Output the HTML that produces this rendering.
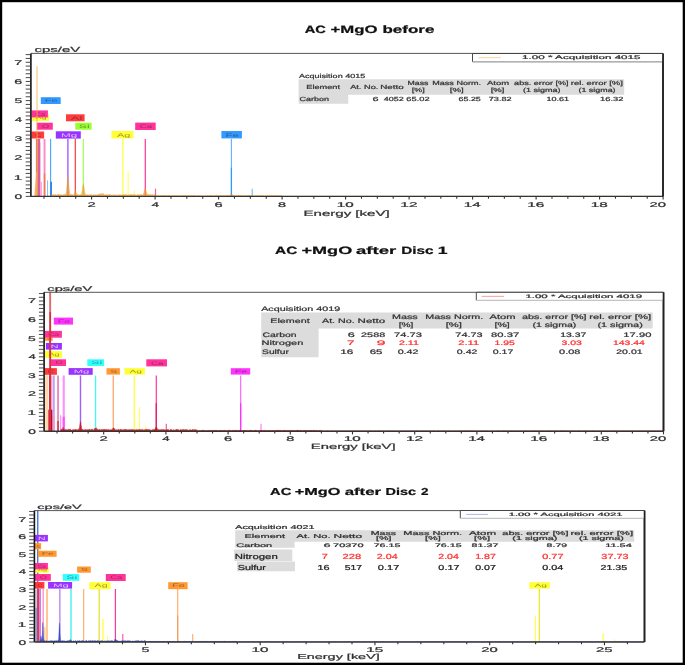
<!DOCTYPE html>
<html><head><meta charset="utf-8"><style>
html,body{margin:0;padding:0;background:#fff;}
body{width:685px;height:665px;overflow:hidden;position:relative;}
svg{position:absolute;left:0;top:0;font-family:"Liberation Sans",sans-serif;text-rendering:geometricPrecision;}
#c{filter:blur(0.3px);}
.b{position:absolute;background:#000;}
</style></head><body>
<svg id="c" width="685" height="665" viewBox="0 0 685 665">
<rect x="0" y="0" width="685" height="665" fill="#fff"/>
<defs>
<clipPath id="clip1"><rect x="30.9" y="53.4" width="632.1" height="143.0"/></clipPath>
<clipPath id="clip2"><rect x="44.1" y="292.3" width="619.4" height="138.89999999999998"/></clipPath>
<clipPath id="clip3"><rect x="34.4" y="510.6" width="610.1" height="131.39999999999998"/></clipPath>
</defs>
<text x="304.73" y="32.90" font-size="10.60" font-weight="bold" fill="#111" stroke="#111" stroke-width="0.22" textLength="21.20" lengthAdjust="spacingAndGlyphs" >AC</text>
<text x="330.53" y="32.90" font-size="10.60" font-weight="bold" fill="#111" stroke="#111" stroke-width="0.22" textLength="47.05" lengthAdjust="spacingAndGlyphs" >+MgO</text>
<text x="382.50" y="32.90" font-size="10.60" font-weight="bold" fill="#111" stroke="#111" stroke-width="0.22" textLength="51.92" lengthAdjust="spacingAndGlyphs" >before</text>
<text x="34.50" y="51.80" font-size="7.30" font-weight="normal" fill="#333" stroke="#333" stroke-width="0.22" textLength="45.71" lengthAdjust="spacingAndGlyphs" >cps/eV</text>
<g clip-path="url(#clip1)">
<line x1="36.65" y1="138.92" x2="36.65" y2="196.40" stroke="#f06040" stroke-width="1.5" />
<line x1="38.80" y1="138.92" x2="38.80" y2="196.40" stroke="#d860a0" stroke-width="2.8" />
<line x1="37.90" y1="142.75" x2="37.90" y2="196.40" stroke="#ffe040" stroke-width="0.9" />
<line x1="38.80" y1="142.75" x2="38.80" y2="196.40" stroke="#d860a0" stroke-width="2.8" />
<line x1="41.10" y1="181.84" x2="41.10" y2="196.40" stroke="#ffa8d8" stroke-width="1.8" />
<line x1="44.55" y1="138.92" x2="44.55" y2="196.40" stroke="#ff88c8" stroke-width="1.9" />
<line x1="44.55" y1="173.41" x2="44.55" y2="196.40" stroke="#f08040" stroke-width="1.4" />
<line x1="47.55" y1="180.31" x2="47.55" y2="196.40" stroke="#80c0ff" stroke-width="1.0" />
<line x1="50.65" y1="138.92" x2="50.65" y2="196.40" stroke="#3399ff" stroke-width="1.0" />
<line x1="51.10" y1="181.84" x2="51.10" y2="196.40" stroke="#2a88ee" stroke-width="1.8" />
<line x1="67.91" y1="138.92" x2="67.91" y2="196.40" stroke="#a060ff" stroke-width="1.4" />
<line x1="75.31" y1="138.92" x2="75.31" y2="196.40" stroke="#ff3b3b" stroke-width="1.2" />
<line x1="83.34" y1="138.92" x2="83.34" y2="196.40" stroke="#a0ff50" stroke-width="1.2" />
<line x1="122.84" y1="138.92" x2="122.84" y2="196.40" stroke="#ffff33" stroke-width="1.2" />
<line x1="128.14" y1="171.49" x2="128.14" y2="196.40" stroke="#ffff66" stroke-width="1.1" />
<line x1="134.40" y1="190.65" x2="134.40" y2="196.40" stroke="#ffff66" stroke-width="1.0" />
<line x1="145.29" y1="138.92" x2="145.29" y2="196.40" stroke="#ff3399" stroke-width="1.2" />
<line x1="155.51" y1="188.74" x2="155.51" y2="196.40" stroke="#f060a0" stroke-width="1.2" />
<line x1="231.43" y1="138.92" x2="231.43" y2="196.40" stroke="#66b3ff" stroke-width="1.2" />
<line x1="231.43" y1="167.66" x2="231.43" y2="196.40" stroke="#3399ff" stroke-width="1.2" />
<line x1="252.19" y1="188.74" x2="252.19" y2="196.40" stroke="#66b3ff" stroke-width="1.0" />
<rect x="40.80" y="97.20" width="19.90" height="6.80" fill="#3399ff" />
<text x="44.89" y="102.29" font-size="4.90" font-weight="normal" fill="#202020" textLength="12.95" lengthAdjust="spacingAndGlyphs" fill-opacity="0.45">Fe</text>
<rect x="31.50" y="114.50" width="17.50" height="6.50" fill="#ffff33" />
<text x="35.88" y="119.36" font-size="4.68" font-weight="normal" fill="#202020" textLength="10.75" lengthAdjust="spacingAndGlyphs" fill-opacity="0.45">Ag</text>
<rect x="31.50" y="110.40" width="16.40" height="7.00" fill="#ff3399" />
<text x="35.21" y="115.64" font-size="5.04" font-weight="normal" fill="#202020" textLength="9.93" lengthAdjust="spacingAndGlyphs" fill-opacity="0.45">Ca</text>
<rect x="66.00" y="114.30" width="18.60" height="7.00" fill="#ff3b3b" />
<text x="70.65" y="119.54" font-size="5.04" font-weight="normal" fill="#202020" textLength="11.70" lengthAdjust="spacingAndGlyphs" fill-opacity="0.45">Al</text>
<rect x="36.80" y="122.70" width="16.00" height="7.00" fill="#ff3399" />
<text x="41.68" y="127.94" font-size="5.04" font-weight="normal" fill="#202020" textLength="7.55" lengthAdjust="spacingAndGlyphs" fill-opacity="0.45">O</text>
<rect x="75.30" y="122.70" width="16.30" height="7.00" fill="#99ff33" />
<text x="78.83" y="127.94" font-size="5.04" font-weight="normal" fill="#202020" textLength="10.85" lengthAdjust="spacingAndGlyphs" fill-opacity="0.45">Si</text>
<rect x="31.50" y="131.50" width="12.60" height="7.00" fill="#ff3b3b" />
<text x="35.02" y="136.74" font-size="5.04" font-weight="normal" fill="#202020" textLength="6.45" lengthAdjust="spacingAndGlyphs" fill-opacity="0.45">C</text>
<rect x="55.80" y="131.30" width="25.00" height="7.30" fill="#9933ff" />
<text x="61.12" y="136.76" font-size="5.26" font-weight="normal" fill="#ffffff" textLength="16.18" lengthAdjust="spacingAndGlyphs" fill-opacity="0.7">Mg</text>
<rect x="111.50" y="131.00" width="21.90" height="7.40" fill="#ffff33" />
<text x="116.98" y="136.54" font-size="5.33" font-weight="normal" fill="#202020" textLength="13.45" lengthAdjust="spacingAndGlyphs" fill-opacity="0.45">Ag</text>
<rect x="135.20" y="122.60" width="20.50" height="7.40" fill="#ff3399" />
<text x="139.84" y="128.14" font-size="5.33" font-weight="normal" fill="#202020" textLength="12.41" lengthAdjust="spacingAndGlyphs" fill-opacity="0.45">Ca</text>
<rect x="221.40" y="131.00" width="20.50" height="7.40" fill="#3399ff" />
<text x="225.61" y="136.54" font-size="5.33" font-weight="normal" fill="#202020" textLength="13.34" lengthAdjust="spacingAndGlyphs" fill-opacity="0.45">Fe</text>
<polygon points="50.96,196.40 50.96,195.39 51.21,194.86 51.47,195.16 51.72,194.76 51.98,194.72 52.23,195.68 52.48,195.77 52.74,194.35 52.99,195.35 53.25,195.39 53.50,194.08 53.75,194.99 54.01,194.35 54.26,194.98 54.52,194.69 54.77,195.54 55.02,194.70 55.28,194.30 55.53,194.89 55.79,194.52 56.04,194.64 56.29,195.69 56.55,194.49 56.80,194.78 57.06,195.28 57.31,195.74 57.56,194.30 57.82,194.98 58.07,194.56 58.33,194.28 58.58,194.57 58.83,194.21 59.09,195.12 59.34,194.42 59.60,195.03 59.85,194.18 60.10,194.28 60.36,195.63 60.61,195.56 60.87,195.42 61.12,194.13 61.37,195.04 61.63,194.72 61.88,195.28 62.14,194.92 62.39,195.13 62.64,195.19 62.90,194.79 63.15,194.79 63.41,194.24 63.66,194.62 63.91,194.19 64.17,194.32 64.42,194.08 64.68,194.61 64.93,195.45 65.18,194.14 65.44,193.74 65.69,193.39 65.95,193.16 66.20,191.58 66.45,190.46 66.71,186.73 66.96,184.02 67.22,181.23 67.47,178.78 67.72,175.60 67.98,174.98 68.23,177.67 68.49,178.83 68.74,182.64 68.99,186.37 69.25,189.07 69.50,190.58 69.76,192.05 70.01,194.53 70.26,194.15 70.52,195.46 70.77,194.45 71.03,195.18 71.28,194.26 71.53,194.10 71.79,194.92 72.04,194.07 72.30,195.26 72.55,195.65 72.80,194.74 73.06,195.67 73.31,195.30 73.57,194.75 73.82,194.09 74.07,194.39 74.33,193.95 74.58,191.79 74.84,192.05 75.09,190.46 75.34,190.42 75.60,191.55 75.85,191.96 76.11,192.58 76.36,193.08 76.61,193.77 76.87,194.27 77.12,194.44 77.38,194.04 77.63,194.87 77.88,195.03 78.14,194.55 78.39,195.38 78.65,195.28 78.90,194.11 79.15,194.90 79.41,194.85 79.66,195.77 79.92,195.06 80.17,194.75 80.42,195.66 80.68,194.51 80.93,194.24 81.19,194.81 81.44,193.16 81.69,192.43 81.95,190.70 82.20,189.59 82.46,187.14 82.71,185.32 82.96,185.15 83.22,184.30 83.47,183.24 83.73,183.52 83.98,186.16 84.23,187.57 84.49,189.18 84.74,191.32 85.00,192.61 85.25,193.70 85.50,194.28 85.76,194.30 86.01,195.05 86.27,195.04 86.52,194.42 86.77,195.73 87.03,194.81 87.28,194.53 87.54,195.26 87.79,195.41 88.04,194.41 88.30,195.38 88.55,195.47 88.81,195.05 89.06,194.59 89.31,195.62 89.57,195.24 89.82,195.22 90.08,194.36 90.33,195.04 90.58,194.32 90.84,195.50 91.09,195.22 91.35,194.68 91.60,194.27 91.85,195.02 92.11,195.41 92.36,195.59 92.62,194.88 92.87,195.47 93.12,194.41 93.38,194.35 93.63,195.48 93.89,195.32 94.14,194.40 94.39,194.69 94.65,194.41 94.90,195.20 95.16,195.57 95.41,195.29 95.66,194.43 95.92,195.33 96.17,195.20 96.43,195.08 96.68,195.07 96.93,195.09 97.19,194.20 97.44,195.52 97.70,195.77 97.95,194.13 98.20,194.22 98.46,194.00 98.71,194.90 98.97,193.93 99.22,193.87 99.47,194.95 99.73,193.89 99.98,193.56 100.24,193.68 100.49,193.74 100.74,193.98 101.00,193.77 101.25,193.89 101.51,194.15 101.76,193.30 102.01,193.92 102.27,193.16 102.52,194.65 102.78,193.36 103.03,193.90 103.28,193.67 103.54,193.86 103.79,193.97 104.05,194.61 104.30,195.65 104.55,194.44 104.81,195.45 105.06,195.25 105.32,194.64 105.57,194.88 105.82,195.08 106.08,194.18 106.33,194.74 106.59,195.21 106.84,195.36 107.09,194.31 107.35,194.97 107.60,194.45 107.86,195.19 108.11,195.46 108.36,194.87 108.62,194.39 108.87,195.50 109.13,194.43 109.38,194.21 109.63,194.41 109.89,194.38 110.14,195.78 110.40,194.71 110.65,194.31 110.90,195.71 111.16,195.33 111.41,195.33 111.67,194.89 111.92,195.07 112.17,194.98 112.43,194.46 112.68,195.79 112.94,195.70 113.19,195.58 113.44,195.58 113.70,195.68 113.95,194.12 114.21,194.32 114.46,195.65 114.71,194.93 114.97,195.25 115.22,195.25 115.48,195.19 115.73,194.68 115.98,194.78 116.24,195.17 116.49,195.47 116.75,195.23 117.00,195.58 117.25,194.84 117.51,194.56 117.76,195.14 118.02,195.66 118.27,195.49 118.52,195.15 118.78,194.75 119.03,194.45 119.29,195.14 119.54,194.41 119.79,194.72 120.05,195.05 120.30,195.15 120.56,194.94 120.81,194.58 121.06,195.07 121.32,194.60 121.57,195.00 121.83,195.37 122.08,194.87 122.33,194.60 122.59,195.67 122.84,195.06 123.10,195.06 123.35,194.28 123.60,194.18 123.86,195.15 124.11,194.25 124.37,194.43 124.62,195.34 124.87,195.00 125.13,195.58 125.38,194.39 125.64,194.65 125.89,194.27 126.14,194.43 126.40,194.65 126.65,194.53 126.91,194.82 127.16,195.62 127.41,194.78 127.67,195.79 127.92,195.55 128.18,194.46 128.43,195.72 128.68,195.64 128.94,195.63 129.19,194.28 129.45,195.49 129.70,195.76 129.95,194.35 130.21,195.59 130.46,194.34 130.72,194.64 130.97,194.35 131.22,194.15 131.48,194.80 131.73,194.42 131.99,195.73 132.24,194.47 132.49,194.91 132.75,194.56 133.00,195.61 133.26,194.50 133.51,194.18 133.76,195.69 134.02,195.24 134.27,194.82 134.53,194.37 134.78,195.38 135.03,195.49 135.29,195.37 135.54,194.73 135.80,194.50 136.05,195.12 136.30,195.16 136.56,195.11 136.81,195.19 137.07,195.08 137.32,195.65 137.57,194.93 137.83,194.12 138.08,195.08 138.34,194.51 138.59,195.52 138.84,194.61 139.10,194.49 139.35,194.63 139.61,194.90 139.86,194.96 140.11,194.69 140.37,194.25 140.62,195.54 140.88,195.63 141.13,194.50 141.38,194.20 141.64,194.87 141.89,194.97 142.15,194.43 142.40,195.24 142.65,194.93 142.91,194.78 143.16,193.72 143.42,193.65 143.67,193.12 143.92,191.53 144.18,190.21 144.43,190.49 144.69,189.04 144.94,189.01 145.19,188.01 145.45,188.56 145.70,189.50 145.96,190.23 146.21,191.38 146.46,191.46 146.72,192.47 146.97,193.58 147.23,193.86 147.48,194.39 147.73,193.93 147.99,195.24 148.24,193.92 148.50,194.88 148.75,194.72 149.00,194.97 149.26,194.35 149.51,194.38 149.77,194.83 150.02,194.97 150.27,194.55 150.53,194.32 150.78,195.11 151.04,194.53 151.29,194.14 151.54,194.99 151.80,195.40 152.05,195.39 152.31,194.56 152.56,194.63 152.81,194.14 153.07,194.32 153.32,195.38 153.58,195.47 153.83,195.35 154.08,195.47 154.34,194.58 154.59,194.32 154.85,194.24 155.10,195.82 155.35,195.24 155.61,195.76 155.86,195.66 156.12,195.37 156.37,195.98 156.62,195.98 156.88,195.27 157.13,195.79 157.39,195.72 157.64,195.51 157.89,195.42 158.15,196.06 158.40,195.74 158.66,195.65 158.91,195.60 159.16,195.86 159.42,195.50 159.67,195.15 159.93,195.69 160.18,195.54 160.43,195.95 160.69,195.80 160.94,195.43 161.20,195.96 161.45,195.21 161.70,195.19 161.96,195.97 162.21,195.16 162.47,195.71 162.72,195.32 162.97,195.34 163.23,195.78 163.48,195.42 163.74,195.44 163.99,195.29 164.24,195.81 164.50,195.34 164.75,195.14 165.01,195.42 165.26,195.55 165.51,195.96 165.77,195.59 166.02,195.73 166.28,195.38 166.53,195.41 166.78,195.52 167.04,195.89 167.29,195.45 167.55,195.46 167.80,195.89 168.05,195.21 168.31,195.44 168.56,195.95 168.82,195.17 169.07,195.93 169.32,195.75 169.58,195.37 169.83,195.49 170.09,195.53 170.34,195.44 170.59,195.63 170.85,195.77 171.10,195.90 171.36,196.00 171.61,195.38 171.86,195.34 172.12,195.54 172.37,195.36 172.63,195.72 172.88,195.81 173.13,195.70 173.39,195.23 173.64,196.02 173.90,195.58 174.15,195.83 174.40,195.33 174.66,195.73 174.91,195.75 175.17,195.68 175.42,195.55 175.67,195.33 175.93,195.73 176.18,195.25 176.44,195.96 176.69,195.81 176.94,195.97 177.20,195.96 177.45,195.32 177.71,195.37 177.96,195.89 178.21,195.88 178.47,195.67 178.72,195.35 178.98,195.28 179.23,195.35 179.48,195.50 179.74,195.92 179.99,195.68 180.25,195.88 180.50,195.56 180.75,195.52 181.01,195.87 181.26,195.83 181.52,195.32 181.77,196.04 182.02,195.30 182.28,195.21 182.53,195.16 182.79,195.70 183.04,195.54 183.29,195.51 183.55,195.46 183.80,195.13 184.06,195.41 184.31,195.78 184.56,195.24 184.82,195.60 185.07,195.49 185.33,195.37 185.58,196.06 185.83,195.33 186.09,195.43 186.34,195.59 186.60,195.56 186.85,195.62 187.10,195.88 187.36,195.56 187.61,196.03 187.87,195.59 188.12,195.45 188.37,195.64 188.63,195.52 188.88,195.15 189.14,195.21 189.39,195.93 189.64,195.31 189.90,195.47 190.15,196.02 190.41,195.72 190.66,195.84 190.91,195.99 191.17,195.55 191.42,195.17 191.68,195.76 191.93,195.23 192.18,195.40 192.44,195.94 192.69,195.24 192.95,195.49 193.20,195.18 193.45,195.38 193.71,195.36 193.96,195.74 194.22,195.29 194.47,195.17 194.72,195.24 194.98,195.65 195.23,195.34 195.49,195.60 195.74,195.96 195.99,196.02 196.25,195.99 196.50,195.87 196.76,195.91 197.01,195.59 197.26,195.39 197.52,195.55 197.77,195.66 198.03,195.44 198.28,195.77 198.53,195.62 198.79,195.34 199.04,195.68 199.30,195.89 199.55,195.20 199.80,195.38 200.06,195.71 200.31,195.71 200.57,195.56 200.82,195.49 201.07,195.85 201.33,196.06 201.58,195.86 201.84,195.31 202.09,195.93 202.34,195.62 202.60,195.88 202.85,195.86 203.11,195.90 203.36,195.68 203.61,195.90 203.87,196.04 204.12,195.96 204.38,195.90 204.63,195.60 204.88,196.01 205.14,196.04 205.39,195.64 205.65,195.67 205.90,195.39 206.15,196.02 206.41,195.68 206.66,195.68 206.92,196.04 207.17,195.14 207.42,195.85 207.68,195.97 207.93,195.61 208.19,195.91 208.44,195.47 208.69,195.73 208.95,195.95 209.20,196.01 209.46,195.37 209.71,195.80 209.96,195.31 210.22,195.62 210.47,195.17 210.73,195.78 210.98,195.83 211.23,195.81 211.49,195.28 211.74,195.46 212.00,195.73 212.25,195.97 212.50,195.41 212.76,195.14 213.01,195.50 213.27,196.06 213.52,196.04 213.77,195.98 214.03,195.90 214.28,196.03 214.54,196.01 214.79,195.44 215.04,195.20 215.30,195.87 215.55,195.13 215.81,195.61 216.06,195.29 216.31,195.19 216.57,195.16 216.82,196.03 217.08,195.77 217.33,195.48 217.58,195.16 217.84,195.98 218.09,195.78 218.35,195.25 218.60,195.95 218.85,195.69 219.11,195.74 219.36,195.41 219.62,195.18 219.87,195.90 220.12,195.36 220.38,195.36 220.63,195.26 220.89,195.53 221.14,195.18 221.39,195.72 221.65,195.67 221.90,195.84 222.16,195.32 222.41,195.60 222.66,195.81 222.92,195.90 223.17,195.37 223.43,195.48 223.68,195.38 223.93,195.69 224.19,195.60 224.44,195.92 224.70,195.38 224.95,196.04 225.20,195.62 225.46,195.34 225.71,195.42 225.97,195.97 226.22,195.84 226.47,195.26 226.73,195.45 226.98,195.22 227.24,195.22 227.49,195.62 227.74,195.18 228.00,195.32 228.25,195.68 228.51,195.61 228.76,195.84 229.01,195.45 229.27,194.83 229.52,195.53 229.78,194.96 230.03,195.26 230.28,195.15 230.54,194.48 230.79,194.77 231.05,194.89 231.30,194.77 231.55,194.32 231.81,194.44 232.06,195.09 232.32,195.01 232.57,194.44 232.82,195.29 233.08,195.09 233.33,195.34 233.59,195.09 233.84,195.33 234.09,195.21 234.35,195.49 234.60,195.85 234.86,195.87 235.11,195.98 235.36,195.27 235.62,195.95 235.87,196.04 236.13,195.14 236.38,195.87 236.63,195.21 236.89,195.98 237.14,195.62 237.40,195.85 237.65,195.27 237.90,195.48 238.16,195.45 238.41,195.34 238.67,195.23 238.92,195.73 239.17,195.49 239.43,195.64 239.68,195.96 239.94,195.26 240.19,195.50 240.44,195.28 240.70,195.87 240.95,195.55 241.21,195.62 241.46,195.37 241.71,195.99 241.97,195.73 242.22,195.60 242.48,196.00 242.73,195.54 242.98,195.36 243.24,195.66 243.49,195.44 243.75,195.48 244.00,195.86 244.25,195.73 244.51,195.11 244.76,195.74 245.02,195.65 245.27,195.98 245.52,195.86 245.78,195.91 246.03,195.17 246.29,195.37 246.54,195.23 246.79,195.12 247.05,195.48 247.30,195.17 247.56,195.55 247.81,195.66 248.06,195.16 248.32,195.20 248.57,195.15 248.83,195.60 249.08,195.32 249.33,195.67 249.59,195.11 249.84,195.18 250.10,195.78 250.35,195.17 250.60,195.89 250.86,195.97 251.11,195.37 251.37,195.78 251.62,195.57 251.87,195.45 252.13,196.03 252.38,195.35 252.64,195.80 252.89,195.65 253.14,195.73 253.40,195.35 253.65,195.35 253.91,195.79 254.16,195.97 254.41,195.78 254.67,195.67 254.92,195.99 255.18,195.92 255.43,195.33 255.68,195.39 255.94,195.13 256.19,195.13 256.45,195.23 256.70,195.71 256.95,195.91 257.21,195.77 257.46,195.62 257.72,195.56 257.97,195.55 258.22,195.72 258.48,195.25 258.73,195.79 258.99,195.62 259.24,195.22 259.49,195.29 259.75,195.78 260.00,195.83 260.26,195.29 260.51,196.06 260.76,195.94 261.02,195.56 261.27,195.55 261.53,195.91 261.78,196.02 262.03,195.87 262.29,195.33 262.54,195.62 262.80,195.13 263.05,195.31 263.30,195.13 263.56,196.03 263.81,195.89 264.07,196.05 264.32,195.65 264.57,195.74 264.83,196.02 265.08,195.54 265.34,195.97 265.59,195.77 265.84,195.83 266.10,195.30 266.35,195.66 266.61,195.82 266.86,196.02 267.11,195.65 267.37,195.46 267.62,195.42 267.88,195.19 268.13,195.29 268.38,195.83 268.64,195.93 268.89,195.34 269.15,195.31 269.40,195.58 269.65,195.27 269.91,195.54 270.16,195.80 270.42,195.90 270.67,196.05 270.92,195.45 271.18,195.21 271.43,195.20 271.69,195.62 271.94,195.43 272.19,195.18 272.45,195.28 272.70,195.49 272.96,195.67 273.21,195.57 273.46,195.90 273.72,195.89 273.97,195.41 274.23,195.11 274.48,195.54 274.73,195.67 274.99,195.73 275.24,195.63 275.50,195.30 275.75,195.63 276.00,195.15 276.26,195.92 276.51,195.76 276.77,195.56 277.02,195.67 277.27,195.25 277.53,195.27 277.78,195.17 278.04,195.48 278.29,196.04 278.54,195.51 278.80,195.54 279.05,195.60 279.31,195.80 279.56,195.39 279.81,195.19 280.07,195.97 280.32,195.42 280.58,195.71 280.83,195.57 281.08,195.21 281.34,195.14 281.59,195.45 281.85,195.88 282.10,195.91 282.35,196.20 282.61,196.12 282.86,195.95 283.12,196.14 283.37,196.16 283.62,195.90 283.88,195.90 284.13,196.14 284.39,196.12 284.64,196.16 284.89,196.22 285.15,196.17 285.40,195.89 285.66,196.24 285.91,196.18 286.16,196.19 286.42,196.24 286.67,196.06 286.93,195.98 287.18,195.94 287.43,196.02 287.69,195.95 287.94,196.26 288.20,196.16 288.45,195.90 288.70,196.24 288.96,196.16 289.21,196.08 289.47,196.16 289.72,196.06 289.97,196.25 290.23,196.18 290.48,195.90 290.74,196.21 290.99,195.92 291.24,196.20 291.50,195.89 291.75,196.01 292.01,196.02 292.26,196.21 292.51,196.24 292.77,195.97 293.02,196.20 293.28,196.19 293.53,195.95 293.78,195.93 294.04,196.25 294.29,195.90 294.55,196.06 294.80,196.12 295.05,196.22 295.31,196.12 295.56,195.89 295.82,196.16 296.07,196.22 296.32,196.21 296.58,196.22 296.83,196.13 297.09,195.92 297.34,196.24 297.59,196.19 297.85,195.91 298.10,195.88 298.36,195.89 298.61,196.17 298.86,196.13 299.12,195.90 299.37,196.08 299.63,196.00 299.88,196.15 300.13,196.26 300.39,196.13 300.64,195.98 300.90,195.97 301.15,196.05 301.40,196.09 301.66,196.06 301.91,196.10 302.17,196.06 302.42,195.95 302.67,196.19 302.93,196.04 303.18,195.91 303.44,195.94 303.69,196.20 303.94,195.90 304.20,195.94 304.45,196.20 304.71,196.16 304.96,196.19 305.21,196.25 305.47,195.89 305.72,196.11 305.98,195.93 306.23,196.22 306.48,196.26 306.74,195.93 306.99,195.96 307.25,195.89 307.50,196.00 307.75,196.06 308.01,195.97 308.26,196.23 308.52,196.06 308.77,196.10 309.02,196.21 309.28,196.04 309.53,196.14 309.79,196.07 310.04,196.12 310.29,196.14 310.55,196.13 310.80,196.04 311.06,195.89 311.31,195.91 311.56,195.94 311.82,195.95 312.07,196.16 312.33,195.89 312.58,196.16 312.83,196.22 313.09,196.07 313.34,195.99 313.60,196.14 313.85,196.02 314.10,196.16 314.36,195.90 314.61,196.09 314.87,196.08 315.12,196.06 315.37,195.93 315.63,195.89 315.88,196.06 316.14,196.10 316.39,196.03 316.64,196.24 316.90,196.10 317.15,195.94 317.41,195.97 317.66,196.24 317.91,195.94 318.17,196.12 318.42,195.89 318.68,196.13 318.93,196.18 319.18,196.06 319.44,195.93 319.69,196.10 319.95,195.93 320.20,195.99 320.45,196.13 320.71,196.15 320.96,196.07 321.22,196.11 321.47,196.12 321.72,196.02 321.98,195.93 322.23,196.04 322.49,196.21 322.74,196.18 322.99,196.12 323.25,196.03 323.50,196.21 323.76,196.23 324.01,196.14 324.26,196.16 324.52,196.25 324.77,196.06 325.03,195.91 325.28,196.06 325.53,195.98 325.79,195.95 326.04,195.94 326.30,195.92 326.55,196.10 326.80,196.00 327.06,196.22 327.31,195.93 327.57,196.12 327.82,196.08 328.07,195.92 328.33,196.16 328.58,196.19 328.84,195.95 329.09,196.04 329.34,196.23 329.60,196.26 329.85,196.13 330.11,196.26 330.36,195.95 330.61,196.20 330.87,196.16 331.12,196.12 331.38,196.07 331.63,196.10 331.88,196.02 332.14,196.01 332.39,196.10 332.65,196.23 332.90,195.89 333.15,196.00 333.41,196.23 333.66,196.10 333.92,195.98 334.17,195.89 334.42,196.24 334.68,196.26 334.93,196.08 335.19,196.10 335.44,195.92 335.69,195.95 335.95,196.14 336.20,196.11 336.46,196.04 336.71,195.93 336.96,196.19 337.22,196.12 337.47,196.23 337.73,196.02 337.98,196.26 338.23,195.91 338.49,196.07 338.74,196.05 339.00,196.23 339.25,196.18 339.50,196.09 339.76,195.94 340.01,196.06 340.27,196.16 340.52,195.89 340.77,196.01 341.03,196.06 341.28,196.19 341.54,196.15 341.79,195.92 342.04,196.21 342.30,196.06 342.55,196.03 342.81,196.13 343.06,195.97 343.31,195.92 343.57,195.94 343.82,195.98 344.08,196.19 344.33,196.24 344.58,196.10 344.84,196.15 345.09,196.19 345.35,195.93 345.60,196.18 345.85,195.95 346.11,195.91 346.36,196.22 346.62,195.92 346.87,196.11 347.12,196.18 347.38,196.19 347.63,196.25 347.89,196.07 348.14,196.12 348.39,195.94 348.65,195.95 348.90,196.24 349.16,196.11 349.41,196.12 349.66,196.20 349.92,196.17 350.17,196.16 350.43,196.00 350.68,196.14 350.93,196.22 351.19,196.18 351.44,196.10 351.70,196.05 351.95,196.17 352.20,196.00 352.46,196.18 352.71,196.01 352.97,196.03 353.22,196.20 353.47,195.98 353.73,196.11 353.98,196.06 354.24,196.04 354.49,196.03 354.74,196.10 355.00,196.24 355.25,195.96 355.51,195.94 355.76,196.08 356.01,196.04 356.27,196.16 356.52,195.92 356.78,196.00 357.03,196.18 357.28,195.95 357.54,195.89 357.79,196.13 358.05,195.88 358.30,196.08 358.55,196.20 358.81,195.99 359.06,196.14 359.32,195.99 359.57,196.04 359.82,196.22 360.08,196.06 360.33,195.94 360.59,196.08 360.84,196.06 361.09,195.94 361.35,196.09 361.60,196.08 361.86,196.04 362.11,195.95 362.36,196.19 362.62,196.23 362.87,195.97 363.13,196.05 363.38,196.15 363.63,195.92 363.89,195.93 364.14,196.06 364.40,195.89 364.65,195.95 364.90,195.98 365.16,196.15 365.41,196.26 365.67,196.01 365.92,195.98 366.17,196.13 366.43,196.08 366.68,196.05 366.94,196.17 367.19,196.00 367.44,196.05 367.70,196.12 367.95,196.22 368.21,196.05 368.46,196.14 368.71,195.99 368.97,196.20 369.22,196.11 369.48,196.19 369.73,196.11 369.98,196.05 370.24,196.22 370.49,196.24 370.75,196.08 371.00,196.19 371.25,196.07 371.51,196.20 371.76,196.23 372.02,196.06 372.27,195.91 372.52,195.93 372.78,196.07 373.03,196.11 373.29,196.24 373.54,196.16 373.79,196.15 374.05,195.91 374.30,196.22 374.56,195.90 374.81,196.08 375.06,196.10 375.32,196.17 375.57,195.90 375.83,196.19 376.08,196.05 376.33,196.07 376.59,196.19 376.84,196.18 377.10,195.89 377.35,195.96 377.60,195.98 377.86,195.92 378.11,196.23 378.37,196.00 378.62,195.98 378.87,196.18 379.13,196.09 379.38,195.89 379.64,196.14 379.89,195.97 380.14,196.20 380.40,196.01 380.65,196.16 380.91,196.07 381.16,196.12 381.41,195.93 381.67,195.98 381.92,196.07 382.18,196.00 382.43,196.10 382.68,195.96 382.94,196.17 383.19,196.06 383.45,196.04 383.70,196.12 383.95,196.25 384.21,196.20 384.46,196.02 384.72,196.18 384.97,195.98 385.22,196.07 385.48,195.90 385.73,195.94 385.99,195.99 386.24,196.12 386.49,196.25 386.75,196.05 387.00,195.98 387.26,195.91 387.51,196.19 387.76,196.21 388.02,195.89 388.27,195.98 388.53,196.08 388.78,195.98 389.03,196.21 389.29,196.06 389.54,196.01 389.80,196.03 390.05,196.20 390.30,196.21 390.56,196.03 390.81,195.93 391.07,196.21 391.32,196.26 391.57,196.23 391.83,195.96 392.08,196.12 392.34,196.09 392.59,195.88 392.84,196.03 393.10,196.16 393.35,196.00 393.61,196.27 393.86,196.16 394.11,196.00 394.37,196.20 394.62,196.25 394.88,196.07 395.13,196.14 395.38,195.89 395.64,196.23 395.89,195.96 396.15,196.12 396.40,195.96 396.65,196.10 396.91,196.01 397.16,196.14 397.42,196.18 397.67,196.09 397.92,195.96 398.18,196.13 398.43,196.18 398.69,196.11 398.94,196.23 399.19,196.14 399.45,196.05 399.70,196.06 399.96,196.04 400.21,196.15 400.46,196.26 400.72,196.26 400.97,196.14 401.23,196.19 401.48,196.05 401.73,196.16 401.99,195.97 402.24,196.04 402.50,196.01 402.75,195.98 403.00,196.07 403.26,196.10 403.51,196.15 403.77,196.24 404.02,195.96 404.27,196.07 404.53,196.23 404.78,195.91 405.04,196.04 405.29,196.03 405.54,196.10 405.80,196.22 406.05,195.88 406.31,196.20 406.56,196.13 406.81,195.88 407.07,196.22 407.32,196.07 407.58,196.08 407.83,196.17 408.08,195.91 408.34,196.11 408.59,196.26 408.85,196.08 409.10,196.26 409.35,195.99 409.61,195.93 409.86,195.92 410.12,196.25 410.37,196.01 410.62,196.15 410.88,196.08 411.13,196.15 411.39,196.15 411.64,196.22 411.89,196.03 412.15,196.23 412.40,195.90 412.66,196.25 412.91,195.90 413.16,196.19 413.42,196.23 413.67,195.98 413.93,196.06 414.18,195.97 414.43,196.07 414.69,196.02 414.94,196.23 415.20,196.01 415.45,196.07 415.70,195.90 415.96,196.26 416.21,196.24 416.47,196.01 416.72,195.91 416.97,196.10 417.23,195.99 417.48,196.05 417.74,196.12 417.99,196.09 418.24,196.04 418.50,196.25 418.75,196.15 419.01,195.98 419.26,196.17 419.51,196.08 419.77,196.17 420.02,196.13 420.28,196.02 420.53,195.98 420.78,195.90 421.04,196.08 421.29,196.19 421.55,196.14 421.80,196.24 422.05,196.17 422.31,196.04 422.56,196.03 422.82,196.17 423.07,196.20 423.32,196.23 423.58,196.20 423.83,196.07 424.09,196.17 424.34,195.93 424.59,196.05 424.85,196.14 425.10,196.10 425.36,196.25 425.61,195.99 425.86,195.98 426.12,196.13 426.37,195.99 426.63,196.16 426.88,196.18 427.13,196.18 427.39,196.19 427.64,196.03 427.90,196.02 428.15,195.99 428.40,196.23 428.66,195.97 428.91,196.08 429.17,196.12 429.42,196.07 429.67,196.10 429.93,196.19 430.18,196.11 430.44,196.02 430.69,195.99 430.94,195.92 431.20,196.19 431.45,195.92 431.71,195.96 431.96,195.99 432.21,195.89 432.47,196.21 432.72,195.97 432.98,195.92 433.23,196.22 433.48,196.04 433.74,195.90 433.99,196.15 434.25,195.94 434.50,195.92 434.75,196.10 435.01,196.21 435.26,196.18 435.52,195.95 435.77,196.10 436.02,196.14 436.28,196.10 436.53,195.91 436.79,196.17 437.04,196.26 437.29,195.90 437.55,196.14 437.80,196.12 438.06,195.89 438.31,196.16 438.56,196.23 438.82,195.93 439.07,196.17 439.33,196.18 439.58,195.91 439.83,196.18 440.09,195.92 440.34,196.14 440.60,196.15 440.85,196.18 441.10,196.06 441.36,196.05 441.61,196.11 441.87,196.07 442.12,196.15 442.37,195.94 442.63,195.91 442.88,195.98 443.14,195.95 443.39,196.24 443.64,196.17 443.90,196.19 444.15,196.21 444.41,195.89 444.66,195.92 444.91,195.92 445.17,196.05 445.42,196.22 445.68,196.10 445.93,196.24 446.18,195.92 446.44,196.16 446.69,196.16 446.95,195.90 447.20,196.19 447.45,195.91 447.71,196.15 447.96,196.01 448.22,196.22 448.47,195.92 448.72,196.11 448.98,196.13 449.23,196.02 449.49,196.04 449.74,196.17 449.99,196.22 450.25,196.05 450.50,196.26 450.76,195.93 451.01,196.13 451.26,196.20 451.52,196.14 451.77,196.22 452.03,196.14 452.28,196.06 452.53,196.11 452.79,196.14 453.04,196.15 453.30,196.08 453.55,195.97 453.80,196.10 454.06,195.97 454.31,196.08 454.57,196.22 454.82,196.20 455.07,195.94 455.33,196.08 455.58,196.12 455.84,196.07 456.09,195.94 456.34,196.12 456.60,196.13 456.85,196.13 457.11,196.26 457.36,196.06 457.61,196.08 457.87,196.08 458.12,196.09 458.38,196.08 458.63,195.99 458.88,196.19 459.14,195.89 459.39,196.22 459.65,195.93 459.90,196.20 460.15,195.96 460.41,196.17 460.66,196.24 460.92,196.06 461.17,195.94 461.42,195.94 461.68,195.93 461.93,195.89 462.19,196.25 462.44,196.12 462.69,196.22 462.95,195.98 463.20,196.09 463.46,195.98 463.71,195.96 463.96,195.88 464.22,196.01 464.47,195.93 464.73,196.06 464.98,196.23 465.23,195.92 465.49,196.23 465.74,196.23 466.00,195.95 466.25,196.16 466.50,196.01 466.76,196.25 467.01,196.19 467.27,195.99 467.52,196.25 467.77,196.07 468.03,195.91 468.28,196.18 468.54,196.00 468.79,195.98 469.04,196.03 469.30,195.97 469.55,196.00 469.81,196.26 470.06,196.19 470.31,196.06 470.57,195.89 470.82,196.18 471.08,196.04 471.33,196.22 471.58,195.94 471.84,196.10 472.09,196.07 472.35,196.01 472.60,196.21 472.85,195.99 473.11,195.96 473.36,195.94 473.62,196.16 473.87,196.18 474.12,196.20 474.38,195.92 474.63,196.10 474.89,196.12 475.14,196.07 475.39,196.00 475.65,196.14 475.90,196.14 476.16,195.97 476.41,195.97 476.66,196.15 476.92,196.24 477.17,195.91 477.43,195.99 477.68,196.04 477.93,196.11 478.19,195.90 478.44,196.10 478.70,196.18 478.95,196.23 479.20,196.13 479.46,196.04 479.71,196.13 479.97,195.90 480.22,196.02 480.47,196.09 480.73,196.01 480.98,196.04 481.24,196.03 481.49,196.08 481.74,196.07 482.00,196.08 482.25,195.95 482.51,196.19 482.76,195.96 483.01,196.15 483.27,195.94 483.52,196.24 483.78,196.08 484.03,196.10 484.28,195.99 484.54,196.19 484.79,196.17 485.05,196.21 485.30,196.05 485.55,196.04 485.81,196.27 486.06,196.20 486.32,196.19 486.57,195.90 486.82,196.09 487.08,196.05 487.33,196.15 487.59,196.01 487.84,195.95 488.09,196.01 488.35,196.27 488.60,196.10 488.86,196.08 489.11,196.25 489.36,195.96 489.62,196.14 489.87,196.15 490.13,196.03 490.38,196.04 490.63,196.08 490.89,195.94 491.14,196.07 491.40,196.13 491.65,196.24 491.90,196.05 492.16,196.13 492.41,196.06 492.67,196.13 492.92,196.26 493.17,196.25 493.43,196.21 493.68,196.23 493.94,195.94 494.19,196.04 494.44,196.17 494.70,195.99 494.95,196.02 495.21,196.24 495.46,195.98 495.71,196.18 495.97,195.88 496.22,196.21 496.48,196.16 496.73,196.17 496.98,195.94 497.24,195.95 497.49,196.04 497.75,196.21 498.00,196.10 498.25,196.00 498.51,196.24 498.76,195.91 499.02,195.94 499.27,195.91 499.52,196.00 499.78,196.03 500.03,195.89 500.29,196.16 500.54,196.15 500.79,196.22 501.05,196.20 501.30,195.96 501.56,196.23 501.81,195.98 502.06,196.11 502.32,195.93 502.57,195.97 502.83,196.00 503.08,195.94 503.33,196.25 503.59,196.16 503.84,196.12 504.10,196.10 504.35,196.01 504.60,195.93 504.86,195.98 505.11,195.91 505.37,196.00 505.62,196.13 505.87,196.07 506.13,195.98 506.38,195.95 506.64,196.12 506.89,196.13 507.14,196.03 507.40,196.18 507.65,195.93 507.91,196.27 508.16,196.02 508.41,196.08 508.67,196.19 508.92,196.05 509.18,196.08 509.43,195.90 509.68,195.93 509.94,196.04 510.19,195.93 510.45,195.93 510.70,196.20 510.95,195.95 511.21,195.95 511.46,195.89 511.72,195.97 511.97,196.12 512.22,196.19 512.48,196.02 512.73,196.19 512.99,195.98 513.24,196.05 513.49,195.95 513.75,196.13 514.00,196.15 514.26,195.92 514.51,196.01 514.76,196.12 515.02,196.05 515.27,196.10 515.53,196.02 515.78,196.07 516.03,196.16 516.29,195.89 516.54,195.93 516.80,195.98 517.05,196.16 517.30,196.19 517.56,195.99 517.81,195.95 518.07,196.02 518.32,196.18 518.57,195.99 518.83,196.07 519.08,196.12 519.34,196.04 519.59,196.09 519.84,196.02 520.10,195.98 520.35,195.89 520.61,196.22 520.86,196.05 521.11,195.90 521.37,196.01 521.62,196.04 521.88,195.94 522.13,196.25 522.38,195.96 522.64,196.03 522.89,196.04 523.15,196.15 523.40,196.03 523.65,196.22 523.91,196.06 524.16,196.17 524.42,195.91 524.67,195.96 524.92,196.08 525.18,195.98 525.43,196.12 525.69,196.07 525.94,196.20 526.19,195.94 526.45,195.97 526.70,195.97 526.96,196.23 527.21,195.95 527.46,196.26 527.72,196.05 527.97,196.08 528.23,196.24 528.48,196.10 528.73,195.93 528.99,196.03 529.24,196.15 529.50,195.95 529.75,196.13 530.00,195.92 530.26,196.11 530.51,196.24 530.77,195.89 531.02,196.24 531.27,196.17 531.53,195.97 531.78,196.22 532.04,196.06 532.29,195.94 532.54,196.04 532.80,196.13 533.05,195.98 533.31,195.95 533.56,196.04 533.81,196.03 534.07,196.14 534.32,196.11 534.58,195.89 534.83,195.89 535.08,196.27 535.34,196.19 535.59,196.18 535.85,195.96 536.10,196.19 536.35,196.20 536.61,195.97 536.86,196.20 537.12,195.89 537.37,196.09 537.62,195.92 537.88,195.95 538.13,196.19 538.39,195.96 538.64,196.11 538.89,196.18 539.15,196.25 539.40,196.00 539.66,196.05 539.91,196.15 540.16,195.95 540.42,196.19 540.67,196.10 540.93,196.23 541.18,196.13 541.43,195.93 541.69,196.07 541.94,196.21 542.20,196.18 542.45,196.02 542.70,196.16 542.96,195.93 543.21,196.24 543.47,195.93 543.72,196.03 543.97,195.95 544.23,196.13 544.48,196.24 544.74,196.20 544.99,196.03 545.24,196.26 545.50,196.22 545.75,195.97 546.01,195.93 546.26,195.94 546.51,195.94 546.77,196.05 547.02,195.93 547.28,196.00 547.53,196.05 547.78,196.10 548.04,196.26 548.29,196.23 548.55,196.17 548.80,196.09 549.05,196.22 549.31,195.89 549.56,196.04 549.82,195.98 550.07,195.92 550.32,196.18 550.58,195.93 550.83,195.90 551.09,196.16 551.34,196.22 551.59,195.96 551.85,195.92 552.10,195.96 552.36,196.11 552.61,196.04 552.86,196.22 553.12,196.18 553.37,196.11 553.63,195.98 553.88,196.23 554.13,195.91 554.39,196.25 554.64,195.89 554.90,196.18 555.15,195.95 555.40,195.95 555.66,195.90 555.91,196.09 556.17,196.00 556.42,196.15 556.67,195.95 556.93,196.22 557.18,195.93 557.44,196.04 557.69,196.24 557.94,195.91 558.20,196.14 558.45,196.24 558.71,196.17 558.96,196.26 559.21,196.16 559.47,195.99 559.72,195.89 559.98,196.02 560.23,195.94 560.48,195.95 560.74,195.99 560.99,196.12 561.25,196.17 561.50,196.21 561.75,196.06 562.01,196.19 562.26,195.98 562.52,196.14 562.77,196.04 563.02,196.06 563.28,196.03 563.53,196.21 563.79,196.17 564.04,196.00 564.29,196.18 564.55,196.01 564.80,195.90 565.06,196.12 565.31,195.90 565.56,196.03 565.82,195.90 566.07,196.06 566.33,195.98 566.58,196.00 566.83,196.19 567.09,196.07 567.34,196.04 567.60,196.09 567.85,196.01 568.10,195.92 568.36,195.96 568.61,195.95 568.87,196.21 569.12,196.00 569.37,196.03 569.63,195.91 569.88,196.26 570.14,196.20 570.39,195.89 570.64,196.12 570.90,196.00 571.15,196.04 571.41,196.11 571.66,196.10 571.91,196.05 572.17,195.89 572.42,196.06 572.68,195.96 572.93,196.15 573.18,195.99 573.44,196.03 573.69,195.98 573.95,195.93 574.20,196.24 574.45,195.90 574.71,196.03 574.96,196.17 575.22,196.09 575.47,196.23 575.72,196.18 575.98,195.94 576.23,195.99 576.49,195.93 576.74,196.20 576.99,196.22 577.25,196.12 577.50,196.08 577.76,195.99 578.01,196.15 578.26,195.98 578.52,196.04 578.77,196.16 579.03,195.96 579.28,196.24 579.53,196.04 579.79,196.19 580.04,196.25 580.30,196.08 580.55,196.07 580.80,196.03 581.06,196.12 581.31,195.91 581.57,195.97 581.82,196.21 582.07,196.26 582.33,195.90 582.58,196.11 582.84,196.23 583.09,196.20 583.34,196.00 583.60,196.20 583.85,196.12 584.11,196.01 584.36,196.13 584.61,196.02 584.87,195.90 585.12,195.96 585.38,196.03 585.63,196.03 585.88,196.15 586.14,196.02 586.39,196.02 586.65,196.04 586.90,196.08 587.15,195.98 587.41,196.19 587.66,195.99 587.92,195.89 588.17,196.25 588.42,196.17 588.68,195.89 588.93,196.23 589.19,195.95 589.44,196.04 589.69,196.24 589.95,196.02 590.20,196.26 590.46,195.94 590.71,196.15 590.96,195.91 591.22,195.92 591.47,196.21 591.73,196.11 591.98,196.21 592.23,195.98 592.49,196.23 592.74,196.24 593.00,196.22 593.25,195.94 593.50,196.17 593.76,196.14 594.01,196.09 594.27,196.05 594.52,196.11 594.77,195.90 595.03,196.14 595.28,196.08 595.54,195.94 595.79,196.17 596.04,196.20 596.30,195.95 596.55,196.14 596.81,195.92 597.06,195.95 597.31,196.12 597.57,196.14 597.82,196.23 598.08,195.93 598.33,196.10 598.58,196.13 598.84,196.20 599.09,196.18 599.35,195.93 599.60,196.22 599.85,196.05 600.11,196.03 600.36,196.07 600.62,196.07 600.87,196.11 601.12,196.19 601.38,195.95 601.63,195.92 601.89,196.05 602.14,196.17 602.39,195.92 602.65,196.19 602.90,196.20 603.16,196.03 603.41,195.95 603.66,196.05 603.92,196.22 604.17,195.89 604.43,196.21 604.68,196.13 604.93,195.89 605.19,195.96 605.44,195.98 605.70,196.24 605.95,195.94 606.20,196.11 606.46,196.26 606.71,195.96 606.97,195.91 607.22,196.25 607.47,196.09 607.73,195.92 607.98,196.14 608.24,196.15 608.49,195.97 608.74,196.10 609.00,195.88 609.25,195.94 609.51,195.94 609.76,195.99 610.01,196.19 610.27,196.00 610.52,196.04 610.78,196.08 611.03,196.05 611.28,196.15 611.54,196.19 611.79,195.92 612.05,196.13 612.30,196.23 612.55,195.89 612.81,196.07 613.06,196.01 613.32,196.14 613.57,196.21 613.82,196.14 614.08,195.95 614.33,196.16 614.59,195.92 614.84,196.15 615.09,195.92 615.35,196.20 615.60,196.10 615.86,196.22 616.11,196.21 616.36,196.07 616.62,196.13 616.87,196.06 617.13,196.18 617.38,196.15 617.63,196.14 617.89,195.92 618.14,196.23 618.40,196.11 618.65,195.94 618.90,196.05 619.16,196.17 619.41,195.88 619.67,196.22 619.92,196.21 620.17,196.26 620.43,196.10 620.68,195.94 620.94,196.16 621.19,196.16 621.44,195.96 621.70,196.24 621.95,196.26 622.21,196.01 622.46,196.23 622.71,196.06 622.97,196.21 623.22,196.04 623.48,195.94 623.73,196.09 623.98,196.16 624.24,196.03 624.49,196.00 624.75,196.24 625.00,196.17 625.25,196.12 625.51,196.07 625.76,196.16 626.02,196.01 626.27,196.17 626.52,195.92 626.78,196.13 627.03,196.18 627.29,196.24 627.54,196.22 627.79,196.18 628.05,195.93 628.30,196.11 628.56,196.10 628.81,195.90 629.06,195.90 629.32,195.97 629.57,196.17 629.83,196.14 630.08,196.07 630.33,196.17 630.59,196.13 630.84,196.18 631.10,196.17 631.35,195.98 631.60,196.03 631.86,196.10 632.11,196.09 632.37,196.03 632.62,196.00 632.87,196.26 633.13,195.94 633.38,196.09 633.64,196.13 633.89,195.90 634.14,195.98 634.40,196.13 634.65,196.26 634.91,196.10 635.16,196.10 635.41,196.12 635.67,196.23 635.92,196.04 636.18,196.17 636.43,195.97 636.68,196.06 636.94,196.15 637.19,195.95 637.45,196.09 637.70,196.23 637.95,196.16 638.21,196.25 638.46,196.10 638.72,195.92 638.97,195.91 639.22,196.02 639.48,196.21 639.73,196.17 639.99,196.19 640.24,196.12 640.49,196.02 640.75,196.26 641.00,196.08 641.26,196.10 641.51,196.01 641.76,195.95 642.02,196.11 642.27,196.03 642.53,196.16 642.78,196.09 643.03,196.02 643.29,196.25 643.54,196.07 643.80,196.07 644.05,196.20 644.30,196.17 644.56,195.95 644.81,196.13 645.07,196.19 645.32,196.16 645.57,196.07 645.83,196.11 646.08,196.13 646.34,196.14 646.59,196.18 646.84,196.07 647.10,196.04 647.35,196.23 647.61,196.04 647.86,196.15 648.11,195.89 648.37,195.91 648.62,196.22 648.88,196.00 649.13,196.13 649.38,196.22 649.64,195.93 649.89,195.92 650.15,195.96 650.40,196.02 650.65,195.89 650.91,196.05 651.16,196.01 651.42,196.02 651.67,195.94 651.92,195.94 652.18,196.15 652.43,196.19 652.69,196.06 652.94,196.04 653.19,196.13 653.45,195.94 653.70,195.94 653.96,196.00 654.21,196.06 654.46,196.00 654.72,196.19 654.97,195.96 655.23,196.22 655.48,195.92 655.73,196.03 655.99,196.16 656.24,196.19 656.50,196.04 656.75,196.09 657.00,196.00 657.26,196.23 657.51,195.93 657.77,196.10 658.02,196.10 658.27,195.98 658.53,196.03 658.78,196.10 659.04,196.15 659.29,196.09 659.54,196.25 659.80,196.17 660.05,195.95 660.31,196.22 660.56,196.23 660.81,195.94 661.07,196.12 661.32,196.06 661.58,196.04 661.83,195.99 662.08,196.14 662.34,195.97 662.59,196.27 662.85,195.94 663.10,196.15 663.35,196.03 663.61,196.15 663.86,195.98 664.12,196.12 664.37,196.04 664.62,196.14 664.88,195.95 665.13,195.97 665.39,196.19 665.64,195.98 665.89,195.90 666.15,196.18 666.40,196.19 666.66,195.91 666.91,195.90 667.16,196.22 667.42,195.97 667.67,195.91 667.93,196.16 668.18,195.97 668.43,196.15 668.69,195.96 668.94,196.07 669.20,196.08 669.45,196.22 669.45,196.40" fill="#f0a028" fill-opacity="0.7" stroke="#f0a028" stroke-width="0.3" stroke-opacity="0.7"/>
<polygon points="34.3,196.4 36.2,172 37.0,172 37.0,196.4" fill="#f5b050" fill-opacity="0.9"/>
<line x1="37.00" y1="66.20" x2="37.00" y2="196.40" stroke="#f5b050" stroke-width="1.3" stroke-opacity="0.65"/>
</g>
<line x1="30.90" y1="53.40" x2="663.00" y2="53.40" stroke="#555" stroke-width="1" />
<line x1="663.00" y1="53.40" x2="663.00" y2="196.40" stroke="#222" stroke-width="1.6" />
<line x1="30.90" y1="53.40" x2="30.90" y2="196.40" stroke="#111" stroke-width="1.6" />
<line x1="30.90" y1="196.40" x2="663.00" y2="196.40" stroke="#333" stroke-width="1.4" />
<line x1="25.70" y1="196.40" x2="30.90" y2="196.40" stroke="#333" stroke-width="0.9" />
<line x1="25.70" y1="192.57" x2="30.90" y2="192.57" stroke="#333" stroke-width="0.9" />
<line x1="25.70" y1="188.74" x2="30.90" y2="188.74" stroke="#333" stroke-width="0.9" />
<line x1="25.70" y1="184.90" x2="30.90" y2="184.90" stroke="#333" stroke-width="0.9" />
<line x1="25.70" y1="181.07" x2="30.90" y2="181.07" stroke="#333" stroke-width="0.9" />
<line x1="25.70" y1="177.24" x2="30.90" y2="177.24" stroke="#333" stroke-width="0.9" />
<line x1="25.70" y1="173.41" x2="30.90" y2="173.41" stroke="#333" stroke-width="0.9" />
<line x1="25.70" y1="169.58" x2="30.90" y2="169.58" stroke="#333" stroke-width="0.9" />
<line x1="25.70" y1="165.74" x2="30.90" y2="165.74" stroke="#333" stroke-width="0.9" />
<line x1="25.70" y1="161.91" x2="30.90" y2="161.91" stroke="#333" stroke-width="0.9" />
<line x1="25.70" y1="158.08" x2="30.90" y2="158.08" stroke="#333" stroke-width="0.9" />
<line x1="25.70" y1="154.25" x2="30.90" y2="154.25" stroke="#333" stroke-width="0.9" />
<line x1="25.70" y1="150.42" x2="30.90" y2="150.42" stroke="#333" stroke-width="0.9" />
<line x1="25.70" y1="146.58" x2="30.90" y2="146.58" stroke="#333" stroke-width="0.9" />
<line x1="25.70" y1="142.75" x2="30.90" y2="142.75" stroke="#333" stroke-width="0.9" />
<line x1="25.70" y1="138.92" x2="30.90" y2="138.92" stroke="#333" stroke-width="0.9" />
<line x1="25.70" y1="135.09" x2="30.90" y2="135.09" stroke="#333" stroke-width="0.9" />
<line x1="25.70" y1="131.26" x2="30.90" y2="131.26" stroke="#333" stroke-width="0.9" />
<line x1="25.70" y1="127.42" x2="30.90" y2="127.42" stroke="#333" stroke-width="0.9" />
<line x1="25.70" y1="123.59" x2="30.90" y2="123.59" stroke="#333" stroke-width="0.9" />
<line x1="25.70" y1="119.76" x2="30.90" y2="119.76" stroke="#333" stroke-width="0.9" />
<line x1="25.70" y1="115.93" x2="30.90" y2="115.93" stroke="#333" stroke-width="0.9" />
<line x1="25.70" y1="112.10" x2="30.90" y2="112.10" stroke="#333" stroke-width="0.9" />
<line x1="25.70" y1="108.26" x2="30.90" y2="108.26" stroke="#333" stroke-width="0.9" />
<line x1="25.70" y1="104.43" x2="30.90" y2="104.43" stroke="#333" stroke-width="0.9" />
<line x1="25.70" y1="100.60" x2="30.90" y2="100.60" stroke="#333" stroke-width="0.9" />
<line x1="25.70" y1="96.77" x2="30.90" y2="96.77" stroke="#333" stroke-width="0.9" />
<line x1="25.70" y1="92.94" x2="30.90" y2="92.94" stroke="#333" stroke-width="0.9" />
<line x1="25.70" y1="89.10" x2="30.90" y2="89.10" stroke="#333" stroke-width="0.9" />
<line x1="25.70" y1="85.27" x2="30.90" y2="85.27" stroke="#333" stroke-width="0.9" />
<line x1="25.70" y1="81.44" x2="30.90" y2="81.44" stroke="#333" stroke-width="0.9" />
<line x1="25.70" y1="77.61" x2="30.90" y2="77.61" stroke="#333" stroke-width="0.9" />
<line x1="25.70" y1="73.78" x2="30.90" y2="73.78" stroke="#333" stroke-width="0.9" />
<line x1="25.70" y1="69.94" x2="30.90" y2="69.94" stroke="#333" stroke-width="0.9" />
<line x1="25.70" y1="66.11" x2="30.90" y2="66.11" stroke="#333" stroke-width="0.9" />
<line x1="25.70" y1="62.28" x2="30.90" y2="62.28" stroke="#333" stroke-width="0.9" />
<line x1="25.70" y1="58.45" x2="30.90" y2="58.45" stroke="#333" stroke-width="0.9" />
<line x1="25.70" y1="54.62" x2="30.90" y2="54.62" stroke="#333" stroke-width="0.9" />
<text x="14.45" y="198.80" font-size="6.90" font-weight="normal" fill="#333" stroke="#333" stroke-width="0.22" textLength="7.65" lengthAdjust="spacingAndGlyphs" >0</text>
<text x="13.86" y="179.64" font-size="6.90" font-weight="normal" fill="#333" stroke="#333" stroke-width="0.22" textLength="8.44" lengthAdjust="spacingAndGlyphs" >1</text>
<text x="14.27" y="160.48" font-size="6.90" font-weight="normal" fill="#333" stroke="#333" stroke-width="0.22" textLength="8.07" lengthAdjust="spacingAndGlyphs" >2</text>
<text x="14.44" y="141.32" font-size="6.90" font-weight="normal" fill="#333" stroke="#333" stroke-width="0.22" textLength="7.73" lengthAdjust="spacingAndGlyphs" >3</text>
<text x="14.74" y="122.16" font-size="6.90" font-weight="normal" fill="#333" stroke="#333" stroke-width="0.22" textLength="7.27" lengthAdjust="spacingAndGlyphs" >4</text>
<text x="14.44" y="103.00" font-size="6.90" font-weight="normal" fill="#333" stroke="#333" stroke-width="0.22" textLength="7.73" lengthAdjust="spacingAndGlyphs" >5</text>
<text x="14.29" y="83.84" font-size="6.90" font-weight="normal" fill="#333" stroke="#333" stroke-width="0.22" textLength="7.89" lengthAdjust="spacingAndGlyphs" >6</text>
<text x="14.27" y="64.68" font-size="6.90" font-weight="normal" fill="#333" stroke="#333" stroke-width="0.22" textLength="8.07" lengthAdjust="spacingAndGlyphs" >7</text>
<line x1="43.98" y1="196.40" x2="43.98" y2="198.70" stroke="#333" stroke-width="1.1" />
<line x1="59.85" y1="196.40" x2="59.85" y2="198.70" stroke="#333" stroke-width="1.1" />
<line x1="75.72" y1="196.40" x2="75.72" y2="198.70" stroke="#333" stroke-width="1.1" />
<line x1="91.60" y1="196.40" x2="91.60" y2="199.60" stroke="#333" stroke-width="1.1" />
<line x1="107.47" y1="196.40" x2="107.47" y2="198.70" stroke="#333" stroke-width="1.1" />
<line x1="123.35" y1="196.40" x2="123.35" y2="198.70" stroke="#333" stroke-width="1.1" />
<line x1="139.22" y1="196.40" x2="139.22" y2="198.70" stroke="#333" stroke-width="1.1" />
<line x1="155.10" y1="196.40" x2="155.10" y2="199.60" stroke="#333" stroke-width="1.1" />
<line x1="170.97" y1="196.40" x2="170.97" y2="198.70" stroke="#333" stroke-width="1.1" />
<line x1="186.85" y1="196.40" x2="186.85" y2="198.70" stroke="#333" stroke-width="1.1" />
<line x1="202.72" y1="196.40" x2="202.72" y2="198.70" stroke="#333" stroke-width="1.1" />
<line x1="218.60" y1="196.40" x2="218.60" y2="199.60" stroke="#333" stroke-width="1.1" />
<line x1="234.47" y1="196.40" x2="234.47" y2="198.70" stroke="#333" stroke-width="1.1" />
<line x1="250.35" y1="196.40" x2="250.35" y2="198.70" stroke="#333" stroke-width="1.1" />
<line x1="266.23" y1="196.40" x2="266.23" y2="198.70" stroke="#333" stroke-width="1.1" />
<line x1="282.10" y1="196.40" x2="282.10" y2="199.60" stroke="#333" stroke-width="1.1" />
<line x1="297.98" y1="196.40" x2="297.98" y2="198.70" stroke="#333" stroke-width="1.1" />
<line x1="313.85" y1="196.40" x2="313.85" y2="198.70" stroke="#333" stroke-width="1.1" />
<line x1="329.73" y1="196.40" x2="329.73" y2="198.70" stroke="#333" stroke-width="1.1" />
<line x1="345.60" y1="196.40" x2="345.60" y2="199.60" stroke="#333" stroke-width="1.1" />
<line x1="361.48" y1="196.40" x2="361.48" y2="198.70" stroke="#333" stroke-width="1.1" />
<line x1="377.35" y1="196.40" x2="377.35" y2="198.70" stroke="#333" stroke-width="1.1" />
<line x1="393.23" y1="196.40" x2="393.23" y2="198.70" stroke="#333" stroke-width="1.1" />
<line x1="409.10" y1="196.40" x2="409.10" y2="199.60" stroke="#333" stroke-width="1.1" />
<line x1="424.98" y1="196.40" x2="424.98" y2="198.70" stroke="#333" stroke-width="1.1" />
<line x1="440.85" y1="196.40" x2="440.85" y2="198.70" stroke="#333" stroke-width="1.1" />
<line x1="456.73" y1="196.40" x2="456.73" y2="198.70" stroke="#333" stroke-width="1.1" />
<line x1="472.60" y1="196.40" x2="472.60" y2="199.60" stroke="#333" stroke-width="1.1" />
<line x1="488.48" y1="196.40" x2="488.48" y2="198.70" stroke="#333" stroke-width="1.1" />
<line x1="504.35" y1="196.40" x2="504.35" y2="198.70" stroke="#333" stroke-width="1.1" />
<line x1="520.23" y1="196.40" x2="520.23" y2="198.70" stroke="#333" stroke-width="1.1" />
<line x1="536.10" y1="196.40" x2="536.10" y2="199.60" stroke="#333" stroke-width="1.1" />
<line x1="551.98" y1="196.40" x2="551.98" y2="198.70" stroke="#333" stroke-width="1.1" />
<line x1="567.85" y1="196.40" x2="567.85" y2="198.70" stroke="#333" stroke-width="1.1" />
<line x1="583.73" y1="196.40" x2="583.73" y2="198.70" stroke="#333" stroke-width="1.1" />
<line x1="599.60" y1="196.40" x2="599.60" y2="199.60" stroke="#333" stroke-width="1.1" />
<line x1="615.48" y1="196.40" x2="615.48" y2="198.70" stroke="#333" stroke-width="1.1" />
<line x1="631.35" y1="196.40" x2="631.35" y2="198.70" stroke="#333" stroke-width="1.1" />
<line x1="647.23" y1="196.40" x2="647.23" y2="198.70" stroke="#333" stroke-width="1.1" />
<line x1="663.10" y1="196.40" x2="663.10" y2="199.60" stroke="#333" stroke-width="1.1" />
<text x="87.45" y="207.10" font-size="6.90" font-weight="normal" fill="#333" stroke="#333" stroke-width="0.22" textLength="8.31" lengthAdjust="spacingAndGlyphs" >2</text>
<text x="151.43" y="207.10" font-size="6.90" font-weight="normal" fill="#333" stroke="#333" stroke-width="0.22" textLength="7.49" lengthAdjust="spacingAndGlyphs" >4</text>
<text x="214.47" y="207.10" font-size="6.90" font-weight="normal" fill="#333" stroke="#333" stroke-width="0.22" textLength="8.13" lengthAdjust="spacingAndGlyphs" >6</text>
<text x="278.05" y="207.10" font-size="6.90" font-weight="normal" fill="#333" stroke="#333" stroke-width="0.22" textLength="8.05" lengthAdjust="spacingAndGlyphs" >8</text>
<text x="336.86" y="207.10" font-size="6.90" font-weight="normal" fill="#333" stroke="#333" stroke-width="0.22" textLength="16.91" lengthAdjust="spacingAndGlyphs" >10</text>
<text x="400.34" y="207.10" font-size="6.90" font-weight="normal" fill="#333" stroke="#333" stroke-width="0.22" textLength="17.17" lengthAdjust="spacingAndGlyphs" >12</text>
<text x="463.87" y="207.10" font-size="6.90" font-weight="normal" fill="#333" stroke="#333" stroke-width="0.22" textLength="16.82" lengthAdjust="spacingAndGlyphs" >14</text>
<text x="527.35" y="207.10" font-size="6.90" font-weight="normal" fill="#333" stroke="#333" stroke-width="0.22" textLength="16.99" lengthAdjust="spacingAndGlyphs" >16</text>
<text x="590.85" y="207.10" font-size="6.90" font-weight="normal" fill="#333" stroke="#333" stroke-width="0.22" textLength="16.99" lengthAdjust="spacingAndGlyphs" >18</text>
<text x="649.46" y="207.10" font-size="6.90" font-weight="normal" fill="#333" stroke="#333" stroke-width="0.22" textLength="16.50" lengthAdjust="spacingAndGlyphs" >20</text>
<text x="303.50" y="215.80" font-size="7.80" font-weight="normal" fill="#333" stroke="#333" stroke-width="0.22" textLength="86.14" lengthAdjust="spacingAndGlyphs" >Energy [keV]</text>
<rect x="472.50" y="53.50" width="190.00" height="8.30" fill="white" />
<line x1="472.50" y1="53.50" x2="472.50" y2="61.80" stroke="#333" stroke-width="0.9" />
<line x1="472.50" y1="61.80" x2="662.50" y2="61.80" stroke="#999" stroke-width="1.2" />
<line x1="472.50" y1="53.50" x2="662.50" y2="53.50" stroke="#444" stroke-width="1" />
<line x1="478.50" y1="57.65" x2="500.90" y2="57.65" stroke="#f8d498" stroke-width="1" />
<text x="522.13" y="59.20" font-size="5.30" font-weight="normal" fill="#333" stroke="#333" stroke-width="0.22" textLength="118.43" lengthAdjust="spacingAndGlyphs" >1.00 * Acquisition 4015</text>
<line x1="663.00" y1="53.40" x2="663.00" y2="196.40" stroke="#222" stroke-width="1.6" />
<path d="M298.60,79.20H624.20V94.80H298.60Z M298.60,94.80H348.30V103.80H298.60Z" fill="#dcdcdc"/>
<text x="299.10" y="77.90" font-size="5.90" font-weight="normal" fill="#333" stroke="#333" stroke-width="0.22" textLength="66.09" lengthAdjust="spacingAndGlyphs" >Acquisition 4015</text>
<text x="306.26" y="89.30" font-size="5.90" font-weight="normal" fill="#333" stroke="#333" stroke-width="0.22" textLength="33.82" lengthAdjust="spacingAndGlyphs" >Element</text>
<text x="350.20" y="89.30" font-size="5.90" font-weight="normal" fill="#333" stroke="#333" stroke-width="0.22" textLength="28.14" lengthAdjust="spacingAndGlyphs" >At. No.</text>
<text x="380.21" y="89.30" font-size="5.90" font-weight="normal" fill="#333" stroke="#333" stroke-width="0.22" textLength="23.48" lengthAdjust="spacingAndGlyphs" >Netto</text>
<text x="407.50" y="85.40" font-size="5.90" font-weight="normal" fill="#333" stroke="#333" stroke-width="0.22" textLength="20.90" lengthAdjust="spacingAndGlyphs" >Mass</text>
<text x="432.28" y="85.40" font-size="5.90" font-weight="normal" fill="#333" stroke="#333" stroke-width="0.22" textLength="48.78" lengthAdjust="spacingAndGlyphs" >Mass Norm.</text>
<text x="487.00" y="85.40" font-size="5.90" font-weight="normal" fill="#333" stroke="#333" stroke-width="0.22" textLength="22.11" lengthAdjust="spacingAndGlyphs" >Atom</text>
<text x="514.14" y="85.40" font-size="5.90" font-weight="normal" fill="#333" stroke="#333" stroke-width="0.22" textLength="54.52" lengthAdjust="spacingAndGlyphs" >abs. error [%]</text>
<text x="570.78" y="85.40" font-size="5.90" font-weight="normal" fill="#333" stroke="#333" stroke-width="0.22" textLength="52.19" lengthAdjust="spacingAndGlyphs" >rel. error [%]</text>
<text x="411.67" y="92.00" font-size="5.90" font-weight="normal" fill="#333" stroke="#333" stroke-width="0.22" textLength="13.00" lengthAdjust="spacingAndGlyphs" >[%]</text>
<text x="449.83" y="92.00" font-size="5.90" font-weight="normal" fill="#333" stroke="#333" stroke-width="0.22" textLength="13.89" lengthAdjust="spacingAndGlyphs" >[%]</text>
<text x="490.73" y="92.00" font-size="5.90" font-weight="normal" fill="#333" stroke="#333" stroke-width="0.22" textLength="13.78" lengthAdjust="spacingAndGlyphs" >[%]</text>
<text x="523.06" y="92.00" font-size="5.90" font-weight="normal" fill="#333" stroke="#333" stroke-width="0.22" textLength="37.50" lengthAdjust="spacingAndGlyphs" >(1 sigma)</text>
<text x="578.47" y="92.00" font-size="5.90" font-weight="normal" fill="#333" stroke="#333" stroke-width="0.22" textLength="37.09" lengthAdjust="spacingAndGlyphs" >(1 sigma)</text>
<text x="299.55" y="101.20" font-size="5.90" font-weight="normal" fill="#333" stroke="#333" stroke-width="0.22" textLength="29.53" lengthAdjust="spacingAndGlyphs" >Carbon</text>
<text x="372.55" y="101.20" font-size="5.90" font-weight="normal" fill="#333" stroke="#333" stroke-width="0.22" textLength="6.10" lengthAdjust="spacingAndGlyphs" >6</text>
<text x="383.72" y="101.20" font-size="5.90" font-weight="normal" fill="#333" stroke="#333" stroke-width="0.22" textLength="20.03" lengthAdjust="spacingAndGlyphs" >4052</text>
<text x="406.34" y="101.20" font-size="5.90" font-weight="normal" fill="#333" stroke="#333" stroke-width="0.22" textLength="23.25" lengthAdjust="spacingAndGlyphs" >65.02</text>
<text x="458.45" y="101.20" font-size="5.90" font-weight="normal" fill="#333" stroke="#333" stroke-width="0.22" textLength="22.43" lengthAdjust="spacingAndGlyphs" >65.25</text>
<text x="488.74" y="101.20" font-size="5.90" font-weight="normal" fill="#333" stroke="#333" stroke-width="0.22" textLength="22.84" lengthAdjust="spacingAndGlyphs" >73.82</text>
<text x="546.42" y="101.20" font-size="5.90" font-weight="normal" fill="#333" stroke="#333" stroke-width="0.22" textLength="22.61" lengthAdjust="spacingAndGlyphs" >10.61</text>
<text x="600.10" y="101.20" font-size="5.90" font-weight="normal" fill="#333" stroke="#333" stroke-width="0.22" textLength="23.39" lengthAdjust="spacingAndGlyphs" >16.32</text>
<text x="275.12" y="253.70" font-size="10.60" font-weight="bold" fill="#111" stroke="#111" stroke-width="0.22" textLength="22.24" lengthAdjust="spacingAndGlyphs" >AC</text>
<text x="301.48" y="253.70" font-size="10.60" font-weight="bold" fill="#111" stroke="#111" stroke-width="0.22" textLength="50.76" lengthAdjust="spacingAndGlyphs" >+MgO</text>
<text x="356.05" y="253.70" font-size="10.60" font-weight="bold" fill="#111" stroke="#111" stroke-width="0.22" textLength="40.09" lengthAdjust="spacingAndGlyphs" >after</text>
<text x="401.21" y="253.70" font-size="10.60" font-weight="bold" fill="#111" stroke="#111" stroke-width="0.22" textLength="32.29" lengthAdjust="spacingAndGlyphs" >Disc</text>
<text x="437.84" y="253.70" font-size="10.60" font-weight="bold" fill="#111" stroke="#111" stroke-width="0.22" textLength="9.82" lengthAdjust="spacingAndGlyphs" >1</text>
<text x="47.31" y="290.70" font-size="7.00" font-weight="normal" fill="#333" stroke="#333" stroke-width="0.22" textLength="44.99" lengthAdjust="spacingAndGlyphs" >cps/eV</text>
<g clip-path="url(#clip2)">
<line x1="46.75" y1="375.40" x2="46.75" y2="431.20" stroke="#ffd8b0" stroke-width="3.1" />
<line x1="53.65" y1="375.40" x2="53.65" y2="431.20" stroke="#c8a0f0" stroke-width="2.3" />
<line x1="53.65" y1="416.32" x2="53.65" y2="431.20" stroke="#e8a0d0" stroke-width="2.3" />
<line x1="58.05" y1="375.40" x2="58.05" y2="431.20" stroke="#e880b0" stroke-width="1.7" />
<line x1="58.05" y1="420.97" x2="58.05" y2="431.20" stroke="#d03040" stroke-width="1.4" />
<line x1="60.60" y1="415.20" x2="60.60" y2="431.20" stroke="#ff90ff" stroke-width="1.2" />
<line x1="63.75" y1="375.40" x2="63.75" y2="431.20" stroke="#ff90ff" stroke-width="2.1" />
<line x1="63.75" y1="416.69" x2="63.75" y2="431.20" stroke="#ff50ff" stroke-width="2.1" />
<line x1="80.50" y1="375.40" x2="80.50" y2="431.20" stroke="#a060ff" stroke-width="1.4" />
<line x1="95.61" y1="375.40" x2="95.61" y2="431.20" stroke="#33ffff" stroke-width="1.2" />
<line x1="113.25" y1="375.40" x2="113.25" y2="431.20" stroke="#ffa060" stroke-width="1.2" />
<line x1="134.30" y1="375.40" x2="134.30" y2="431.20" stroke="#ffff33" stroke-width="1.2" />
<line x1="139.50" y1="407.02" x2="139.50" y2="431.20" stroke="#ffff66" stroke-width="1.1" />
<line x1="145.62" y1="425.62" x2="145.62" y2="431.20" stroke="#ffff66" stroke-width="1.0" />
<line x1="156.29" y1="375.40" x2="156.29" y2="431.20" stroke="#ff3399" stroke-width="1.2" />
<line x1="156.29" y1="403.30" x2="156.29" y2="431.20" stroke="#e0206a" stroke-width="1.3" />
<line x1="166.30" y1="423.76" x2="166.30" y2="431.20" stroke="#f060a0" stroke-width="1.2" />
<line x1="240.66" y1="375.40" x2="240.66" y2="431.20" stroke="#ff66ff" stroke-width="1.2" />
<line x1="240.66" y1="403.30" x2="240.66" y2="431.20" stroke="#ff33ff" stroke-width="1.3" />
<line x1="261.00" y1="423.76" x2="261.00" y2="431.20" stroke="#ff66ff" stroke-width="1.0" />
<rect x="53.80" y="317.60" width="19.20" height="7.00" fill="#ff33ff" />
<text x="57.74" y="322.84" font-size="5.04" font-weight="normal" fill="#202020" textLength="12.50" lengthAdjust="spacingAndGlyphs" fill-opacity="0.45">Fe</text>
<rect x="44.40" y="337.40" width="8.20" height="3.40" fill="#ff9933" />
<text x="46.96" y="339.94" font-size="2.45" font-weight="normal" fill="#202020" textLength="3.75" lengthAdjust="spacingAndGlyphs" fill-opacity="0.45">S</text>
<rect x="44.40" y="330.90" width="17.50" height="6.80" fill="#ff3399" />
<text x="48.36" y="335.99" font-size="4.90" font-weight="normal" fill="#202020" textLength="10.59" lengthAdjust="spacingAndGlyphs" fill-opacity="0.45">Ca</text>
<rect x="45.90" y="343.00" width="16.00" height="6.60" fill="#9933ff" />
<text x="50.51" y="347.94" font-size="4.75" font-weight="normal" fill="#ffffff" textLength="8.09" lengthAdjust="spacingAndGlyphs" fill-opacity="0.7">N</text>
<rect x="44.40" y="351.10" width="17.50" height="6.70" fill="#ffff33" />
<text x="48.78" y="356.11" font-size="4.82" font-weight="normal" fill="#202020" textLength="10.75" lengthAdjust="spacingAndGlyphs" fill-opacity="0.45">Ag</text>
<rect x="50.80" y="359.30" width="15.20" height="6.70" fill="#ff3399" />
<text x="55.41" y="364.31" font-size="4.82" font-weight="normal" fill="#202020" textLength="7.23" lengthAdjust="spacingAndGlyphs" fill-opacity="0.45">O</text>
<rect x="87.30" y="359.30" width="16.90" height="6.70" fill="#33ffff" />
<text x="90.96" y="364.31" font-size="4.82" font-weight="normal" fill="#202020" textLength="11.25" lengthAdjust="spacingAndGlyphs" fill-opacity="0.45">Si</text>
<rect x="44.40" y="368.10" width="12.50" height="6.70" fill="#ff3b3b" />
<text x="47.89" y="373.11" font-size="4.82" font-weight="normal" fill="#202020" textLength="6.40" lengthAdjust="spacingAndGlyphs" fill-opacity="0.45">C</text>
<rect x="68.60" y="368.10" width="24.10" height="6.70" fill="#9933ff" />
<text x="73.73" y="373.11" font-size="4.82" font-weight="normal" fill="#ffffff" textLength="15.60" lengthAdjust="spacingAndGlyphs" fill-opacity="0.7">Mg</text>
<rect x="106.50" y="368.20" width="13.40" height="6.40" fill="#ff9933" />
<text x="110.25" y="372.99" font-size="4.61" font-weight="normal" fill="#202020" textLength="7.00" lengthAdjust="spacingAndGlyphs" fill-opacity="0.45">S</text>
<rect x="124.50" y="368.20" width="20.30" height="6.40" fill="#ffff33" />
<text x="129.58" y="372.99" font-size="4.61" font-weight="normal" fill="#202020" textLength="12.47" lengthAdjust="spacingAndGlyphs" fill-opacity="0.45">Ag</text>
<rect x="146.30" y="359.30" width="20.70" height="7.10" fill="#ff3399" />
<text x="150.98" y="364.61" font-size="5.11" font-weight="normal" fill="#202020" textLength="12.53" lengthAdjust="spacingAndGlyphs" fill-opacity="0.45">Ca</text>
<rect x="230.80" y="368.20" width="19.40" height="6.40" fill="#ff33ff" />
<text x="234.78" y="372.99" font-size="4.61" font-weight="normal" fill="#202020" textLength="12.63" lengthAdjust="spacingAndGlyphs" fill-opacity="0.45">Fe</text>
<polygon points="60.78,431.20 60.78,429.57 61.03,429.37 61.28,429.27 61.53,429.00 61.78,429.27 62.03,428.82 62.27,430.05 62.52,428.93 62.77,427.68 63.02,427.81 63.27,427.25 63.52,428.71 63.77,428.48 64.02,429.30 64.27,429.19 64.51,429.40 64.76,430.49 65.01,430.21 65.26,430.14 65.51,429.08 65.76,429.33 66.01,430.35 66.26,429.28 66.50,430.38 66.75,429.58 67.00,430.40 67.25,430.61 67.50,429.16 67.75,430.26 68.00,430.25 68.25,428.97 68.49,429.15 68.74,430.13 68.99,429.00 69.24,429.71 69.49,429.48 69.74,430.27 69.99,429.04 70.24,429.46 70.49,429.00 70.73,429.12 70.98,430.11 71.23,430.01 71.48,430.34 71.73,430.37 71.98,430.51 72.23,430.11 72.48,429.60 72.72,430.61 72.97,429.48 73.22,430.05 73.47,430.10 73.72,429.24 73.97,429.81 74.22,430.09 74.47,429.81 74.71,429.43 74.96,430.52 75.21,428.98 75.46,430.58 75.71,429.36 75.96,429.20 76.21,430.58 76.46,429.30 76.71,430.00 76.95,429.65 77.20,430.60 77.45,430.54 77.70,430.31 77.95,429.01 78.20,430.26 78.45,429.26 78.70,428.82 78.94,428.45 79.19,428.77 79.44,427.65 79.69,425.85 79.94,423.73 80.19,423.39 80.44,421.58 80.69,421.75 80.93,422.79 81.18,425.81 81.43,425.95 81.68,428.70 81.93,429.17 82.18,429.21 82.43,428.93 82.68,430.00 82.93,429.05 83.17,429.70 83.42,430.09 83.67,430.08 83.92,430.32 84.17,430.48 84.42,430.36 84.67,429.46 84.92,428.95 85.16,430.34 85.41,430.53 85.66,428.96 85.91,429.72 86.16,429.93 86.41,430.22 86.66,429.62 86.91,429.23 87.15,429.85 87.40,429.91 87.65,430.52 87.90,429.08 88.15,430.56 88.40,429.79 88.65,429.21 88.90,430.40 89.15,429.39 89.39,429.02 89.64,429.56 89.89,429.29 90.14,430.44 90.39,429.89 90.64,430.36 90.89,429.20 91.14,430.12 91.38,429.86 91.63,428.94 91.88,429.19 92.13,428.98 92.38,429.85 92.63,429.79 92.88,429.37 93.13,429.76 93.37,430.02 93.62,429.75 93.87,430.04 94.12,429.47 94.37,428.19 94.62,427.95 94.87,428.21 95.12,428.16 95.37,428.25 95.61,428.60 95.86,428.36 96.11,427.69 96.36,427.81 96.61,428.96 96.86,428.53 97.11,428.80 97.36,429.13 97.60,429.31 97.85,429.24 98.10,429.95 98.35,429.41 98.60,430.13 98.85,429.80 99.10,429.32 99.35,429.46 99.59,430.12 99.84,429.03 100.09,429.53 100.34,429.64 100.59,430.59 100.84,429.70 101.09,430.19 101.34,429.49 101.59,429.84 101.83,429.25 102.08,429.53 102.33,429.28 102.58,430.03 102.83,429.54 103.08,429.38 103.33,429.23 103.58,430.03 103.82,429.20 104.07,429.16 104.32,429.46 104.57,428.98 104.82,429.01 105.07,429.75 105.32,429.73 105.57,430.34 105.81,429.21 106.06,429.04 106.31,429.82 106.56,429.46 106.81,429.41 107.06,429.39 107.31,430.33 107.56,429.31 107.81,429.64 108.05,429.50 108.30,429.91 108.55,429.57 108.80,429.32 109.05,429.55 109.30,429.41 109.55,430.57 109.80,430.34 110.04,429.87 110.29,429.52 110.54,430.22 110.79,429.41 111.04,429.45 111.29,430.35 111.54,429.48 111.79,429.68 112.03,429.69 112.28,429.22 112.53,428.55 112.78,428.45 113.03,428.18 113.28,428.33 113.53,427.65 113.78,427.98 114.03,427.88 114.27,428.27 114.52,429.22 114.77,428.41 115.02,430.17 115.27,429.67 115.52,430.00 115.77,429.85 116.02,430.38 116.26,429.21 116.51,429.98 116.76,430.55 117.01,429.59 117.26,430.46 117.51,429.70 117.76,430.05 118.01,429.64 118.25,429.01 118.50,429.24 118.75,429.91 119.00,429.25 119.25,429.54 119.50,430.00 119.75,430.38 120.00,429.62 120.25,429.67 120.49,429.01 120.74,428.99 120.99,429.60 121.24,430.03 121.49,429.12 121.74,430.61 121.99,430.43 122.24,429.67 122.48,429.58 122.73,430.38 122.98,429.56 123.23,429.12 123.48,429.98 123.73,429.89 123.98,430.24 124.23,430.13 124.47,428.99 124.72,429.98 124.97,429.01 125.22,429.08 125.47,429.62 125.72,430.18 125.97,428.97 126.22,429.78 126.47,429.92 126.71,430.08 126.96,428.97 127.21,429.79 127.46,430.13 127.71,429.82 127.96,430.41 128.21,429.57 128.46,429.87 128.70,430.12 128.95,429.31 129.20,429.23 129.45,430.59 129.70,429.72 129.95,430.16 130.20,429.05 130.45,429.31 130.69,430.20 130.94,430.17 131.19,430.36 131.44,428.96 131.69,430.12 131.94,429.60 132.19,429.82 132.44,429.53 132.69,429.60 132.93,429.37 133.18,430.42 133.43,429.34 133.68,430.11 133.93,429.72 134.18,430.05 134.43,430.12 134.68,429.73 134.92,429.84 135.17,430.01 135.42,429.37 135.67,429.63 135.92,430.55 136.17,430.19 136.42,429.85 136.67,429.08 136.91,429.13 137.16,429.70 137.41,430.59 137.66,429.31 137.91,429.90 138.16,429.65 138.41,429.43 138.66,429.56 138.91,429.81 139.15,429.09 139.40,429.97 139.65,429.96 139.90,429.19 140.15,430.29 140.40,430.12 140.65,429.22 140.90,430.50 141.14,429.21 141.39,429.45 141.64,429.89 141.89,430.13 142.14,429.31 142.39,429.09 142.64,430.38 142.89,429.81 143.13,429.69 143.38,429.78 143.63,430.06 143.88,430.36 144.13,429.63 144.38,429.26 144.63,430.50 144.88,430.23 145.13,429.24 145.37,429.29 145.62,429.50 145.87,430.57 146.12,429.40 146.37,428.98 146.62,428.94 146.87,429.44 147.12,430.53 147.36,429.20 147.61,430.25 147.86,429.53 148.11,429.02 148.36,429.42 148.61,430.39 148.86,430.12 149.11,429.08 149.35,430.36 149.60,429.59 149.85,429.92 150.10,430.34 150.35,429.57 150.60,430.54 150.85,430.43 151.10,429.98 151.35,430.49 151.59,430.52 151.84,429.65 152.09,429.37 152.34,429.14 152.59,430.39 152.84,429.89 153.09,430.08 153.34,429.59 153.58,429.76 153.83,428.97 154.08,429.84 154.33,430.26 154.58,429.01 154.83,429.67 155.08,428.56 155.33,428.41 155.57,427.38 155.82,427.68 156.07,427.39 156.32,427.95 156.57,427.58 156.82,428.32 157.07,427.82 157.32,428.57 157.57,429.55 157.81,429.67 158.06,429.65 158.31,429.18 158.56,430.21 158.81,429.37 159.06,429.49 159.31,430.46 159.56,429.49 159.80,430.46 160.05,430.40 160.30,429.62 160.55,430.21 160.80,429.15 161.05,429.81 161.30,430.07 161.55,429.28 161.79,430.56 162.04,429.40 162.29,430.52 162.54,430.36 162.79,429.02 163.04,429.47 163.29,430.24 163.54,430.42 163.79,428.99 164.03,429.50 164.28,429.24 164.53,430.38 164.78,429.57 165.03,430.02 165.28,430.22 165.53,430.06 165.78,429.59 166.02,430.03 166.27,429.97 166.52,430.39 166.77,429.22 167.02,429.53 167.27,429.27 167.52,429.89 167.77,429.19 168.01,429.75 168.26,429.62 168.51,429.65 168.76,429.38 169.01,429.95 169.26,430.45 169.51,430.56 169.76,430.28 170.01,430.55 170.25,429.13 170.50,429.81 170.75,429.34 171.00,430.61 171.25,429.83 171.50,429.12 171.75,429.58 172.00,429.90 172.24,429.83 172.49,430.45 172.74,430.36 172.99,430.35 173.24,429.99 173.49,429.97 173.74,429.14 173.99,430.36 174.23,430.19 174.48,430.15 174.73,430.34 174.98,430.13 175.23,430.22 175.48,429.81 175.73,430.56 175.98,429.07 176.23,430.00 176.47,429.04 176.72,429.46 176.97,429.49 177.22,429.82 177.47,429.03 177.72,430.42 177.97,429.49 178.22,430.13 178.46,429.49 178.71,429.39 178.96,430.34 179.21,430.28 179.46,430.57 179.71,430.23 179.96,430.48 180.21,429.94 180.45,428.98 180.70,430.00 180.95,430.09 181.20,429.83 181.45,430.14 181.70,429.39 181.95,429.41 182.20,430.34 182.45,430.21 182.69,429.49 182.94,429.04 183.19,429.53 183.44,429.89 183.69,428.98 183.94,430.60 184.19,430.51 184.44,429.31 184.68,429.93 184.93,430.54 185.18,429.70 185.43,428.96 185.68,429.75 185.93,430.03 186.18,430.46 186.43,430.49 186.67,429.11 186.92,429.79 187.17,429.05 187.42,430.52 187.67,430.21 187.92,430.53 188.17,429.95 188.42,430.51 188.67,430.19 188.91,429.93 189.16,430.10 189.41,430.53 189.66,430.55 189.91,428.99 190.16,430.31 190.41,429.76 190.66,429.94 190.90,429.72 191.15,430.47 191.40,430.09 191.65,430.43 191.90,429.71 192.15,429.07 192.40,429.61 192.65,429.18 192.89,430.26 193.14,430.58 193.39,429.71 193.64,429.80 193.89,429.66 194.14,429.98 194.39,429.57 194.64,429.40 194.89,429.09 195.13,430.10 195.38,429.86 195.63,429.23 195.88,430.24 196.13,430.42 196.38,430.09 196.63,430.47 196.88,429.32 197.12,430.11 197.37,430.58 197.62,430.75 197.87,430.80 198.12,430.65 198.37,430.80 198.62,430.48 198.87,430.34 199.11,430.65 199.36,430.82 199.61,430.22 199.86,430.83 200.11,430.69 200.36,430.61 200.61,430.53 200.86,430.78 201.11,430.48 201.35,430.58 201.60,430.17 201.85,430.36 202.10,430.04 202.35,430.27 202.60,430.17 202.85,430.34 203.10,430.46 203.34,430.11 203.59,430.26 203.84,429.99 204.09,430.20 204.34,430.22 204.59,430.63 204.84,430.12 205.09,430.52 205.33,430.75 205.58,430.81 205.83,430.72 206.08,430.63 206.33,430.25 206.58,430.61 206.83,430.82 207.08,430.16 207.33,430.36 207.57,430.85 207.82,430.83 208.07,430.75 208.32,430.54 208.57,430.07 208.82,429.99 209.07,430.31 209.32,430.66 209.56,430.48 209.81,430.54 210.06,430.57 210.31,430.86 210.56,430.33 210.81,430.11 211.06,430.20 211.31,430.79 211.55,430.38 211.80,430.72 212.05,430.21 212.30,430.46 212.55,430.00 212.80,430.14 213.05,430.76 213.30,430.58 213.55,430.02 213.79,430.45 214.04,430.47 214.29,430.46 214.54,430.16 214.79,430.00 215.04,430.38 215.29,429.97 215.54,430.32 215.78,430.78 216.03,430.12 216.28,430.48 216.53,430.83 216.78,429.96 217.03,430.84 217.28,430.34 217.53,430.43 217.77,430.05 218.02,430.51 218.27,430.67 218.52,430.62 218.77,430.69 219.02,430.35 219.27,430.54 219.52,430.18 219.77,430.65 220.01,430.55 220.26,430.64 220.51,429.96 220.76,430.09 221.01,430.08 221.26,430.30 221.51,430.50 221.76,430.74 222.00,430.10 222.25,430.42 222.50,430.84 222.75,430.72 223.00,430.78 223.25,430.21 223.50,430.04 223.75,430.69 223.99,430.13 224.24,430.57 224.49,430.24 224.74,430.07 224.99,430.30 225.24,430.13 225.49,430.52 225.74,430.87 225.99,430.40 226.23,430.33 226.48,430.70 226.73,430.51 226.98,430.58 227.23,430.85 227.48,430.58 227.73,430.52 227.98,430.43 228.22,430.22 228.47,430.50 228.72,429.96 228.97,430.12 229.22,430.02 229.47,430.23 229.72,430.25 229.97,430.38 230.21,430.13 230.46,430.54 230.71,430.32 230.96,430.24 231.21,430.39 231.46,430.61 231.71,430.80 231.96,430.79 232.21,430.54 232.45,430.33 232.70,430.17 232.95,430.21 233.20,430.59 233.45,430.01 233.70,430.62 233.95,430.21 234.20,430.81 234.44,430.17 234.69,430.25 234.94,429.98 235.19,430.04 235.44,430.23 235.69,430.09 235.94,430.19 236.19,430.31 236.43,430.68 236.68,430.39 236.93,430.04 237.18,430.65 237.43,429.97 237.68,430.37 237.93,430.51 238.18,430.87 238.43,430.51 238.67,430.71 238.92,430.27 239.17,430.04 239.42,430.03 239.67,430.30 239.92,430.51 240.17,430.77 240.42,430.23 240.66,430.36 240.91,430.21 241.16,430.53 241.41,430.05 241.66,430.68 241.91,430.59 242.16,430.63 242.41,430.30 242.65,430.04 242.90,430.72 243.15,430.29 243.40,430.16 243.65,430.67 243.90,430.82 244.15,430.35 244.40,430.10 244.65,430.06 244.89,430.20 245.14,430.49 245.39,430.48 245.64,430.38 245.89,430.03 246.14,430.59 246.39,430.61 246.64,430.31 246.88,429.98 247.13,430.70 247.38,430.85 247.63,430.77 247.88,430.35 248.13,430.31 248.38,430.70 248.63,430.70 248.87,430.32 249.12,430.27 249.37,430.23 249.62,430.20 249.87,430.82 250.12,430.42 250.37,430.10 250.62,429.98 250.87,430.58 251.11,430.08 251.36,430.27 251.61,430.01 251.86,430.66 252.11,430.23 252.36,430.09 252.61,430.43 252.86,430.78 253.10,430.69 253.35,430.73 253.60,430.79 253.85,430.73 254.10,430.30 254.35,430.78 254.60,430.17 254.85,430.19 255.09,430.12 255.34,430.13 255.59,430.21 255.84,430.02 256.09,429.98 256.34,430.29 256.59,429.98 256.84,430.78 257.09,430.78 257.33,430.81 257.58,430.68 257.83,430.53 258.08,430.45 258.33,430.24 258.58,430.18 258.83,430.80 259.08,430.50 259.32,430.37 259.57,430.53 259.82,430.77 260.07,430.32 260.32,430.53 260.57,430.24 260.82,430.41 261.07,429.98 261.31,430.00 261.56,430.81 261.81,430.17 262.06,430.20 262.31,430.60 262.56,430.77 262.81,430.43 263.06,430.55 263.31,430.19 263.55,430.02 263.80,430.52 264.05,430.60 264.30,430.41 264.55,430.23 264.80,430.14 265.05,430.34 265.30,430.60 265.54,430.56 265.79,430.09 266.04,430.39 266.29,430.83 266.54,430.48 266.79,430.65 267.04,430.25 267.29,430.81 267.53,430.62 267.78,430.79 268.03,430.43 268.28,429.96 268.53,430.37 268.78,430.52 269.03,430.01 269.28,430.79 269.53,430.54 269.77,430.12 270.02,430.87 270.27,430.16 270.52,430.54 270.77,430.86 271.02,430.64 271.27,430.45 271.52,430.52 271.76,430.39 272.01,430.83 272.26,430.67 272.51,429.97 272.76,430.46 273.01,430.44 273.26,430.80 273.51,430.61 273.75,429.99 274.00,430.24 274.25,430.40 274.50,430.83 274.75,430.51 275.00,430.15 275.25,430.47 275.50,430.32 275.75,430.04 275.99,430.27 276.24,430.28 276.49,430.84 276.74,430.85 276.99,430.16 277.24,430.49 277.49,430.06 277.74,430.11 277.98,430.02 278.23,430.52 278.48,429.95 278.73,430.17 278.98,430.05 279.23,430.74 279.48,430.15 279.73,430.48 279.97,429.97 280.22,429.95 280.47,430.67 280.72,430.48 280.97,430.62 281.22,430.44 281.47,430.61 281.72,430.25 281.97,430.76 282.21,430.72 282.46,430.45 282.71,430.81 282.96,430.52 283.21,430.04 283.46,430.05 283.71,430.69 283.96,430.86 284.20,430.10 284.45,429.98 284.70,430.32 284.95,430.75 285.20,430.65 285.45,430.02 285.70,430.00 285.95,430.85 286.19,430.70 286.44,430.48 286.69,430.63 286.94,430.17 287.19,430.53 287.44,430.15 287.69,430.73 287.94,430.39 288.19,429.97 288.43,430.22 288.68,430.79 288.93,430.77 289.18,430.28 289.43,430.53 289.68,430.53 289.93,430.43 290.18,430.33 290.42,429.98 290.67,430.65 290.92,430.35 291.17,430.63 291.42,430.37 291.67,430.19 291.92,430.75 292.17,430.43 292.41,430.22 292.66,430.87 292.91,430.16 293.16,430.48 293.41,430.41 293.66,430.31 293.91,430.14 294.16,430.82 294.41,430.41 294.65,430.84 294.90,430.52 295.15,430.55 295.40,430.85 295.65,430.60 295.90,430.46 296.15,430.27 296.40,430.01 296.64,430.53 296.89,430.38 297.14,430.21 297.39,430.00 297.64,429.99 297.89,429.96 298.14,430.59 298.39,430.72 298.63,430.01 298.88,430.80 299.13,430.46 299.38,430.19 299.63,430.38 299.88,430.51 300.13,430.01 300.38,430.60 300.63,430.36 300.87,430.10 301.12,430.75 301.37,430.55 301.62,430.41 301.87,430.35 302.12,430.68 302.37,430.45 302.62,430.82 302.86,430.79 303.11,430.56 303.36,430.74 303.61,429.97 303.86,430.63 304.11,430.62 304.36,430.15 304.61,430.19 304.85,430.63 305.10,430.10 305.35,430.29 305.60,430.51 305.85,430.29 306.10,430.65 306.35,430.63 306.60,430.06 306.85,430.47 307.09,430.04 307.34,430.71 307.59,430.75 307.84,430.83 308.09,430.19 308.34,430.35 308.59,430.87 308.84,430.83 309.08,430.11 309.33,430.41 309.58,430.06 309.83,430.84 310.08,430.33 310.33,430.77 310.58,430.20 310.83,430.31 311.07,430.31 311.32,430.67 311.57,429.99 311.82,430.77 312.07,430.81 312.32,430.24 312.57,430.79 312.82,430.81 313.07,430.45 313.31,430.27 313.56,430.04 313.81,430.20 314.06,430.81 314.31,430.28 314.56,430.09 314.81,430.76 315.06,430.17 315.30,430.63 315.55,430.60 315.80,430.87 316.05,430.17 316.30,430.39 316.55,430.04 316.80,430.44 317.05,430.73 317.29,430.67 317.54,430.63 317.79,429.99 318.04,430.68 318.29,430.79 318.54,430.55 318.79,430.80 319.04,430.48 319.29,430.30 319.53,430.27 319.78,430.71 320.03,430.75 320.28,430.42 320.53,430.24 320.78,430.46 321.03,430.34 321.28,430.03 321.52,431.02 321.77,430.97 322.02,430.89 322.27,430.87 322.52,430.73 322.77,430.86 323.02,430.82 323.27,430.91 323.51,430.78 323.76,430.76 324.01,430.96 324.26,431.03 324.51,430.97 324.76,430.94 325.01,430.74 325.26,430.97 325.51,430.84 325.75,430.83 326.00,430.71 326.25,431.03 326.50,430.78 326.75,430.94 327.00,431.03 327.25,430.83 327.50,430.76 327.74,430.85 327.99,431.05 328.24,430.71 328.49,430.93 328.74,430.83 328.99,430.80 329.24,430.97 329.49,430.92 329.73,430.95 329.98,431.03 330.23,431.05 330.48,430.80 330.73,430.92 330.98,430.75 331.23,431.05 331.48,430.96 331.73,431.00 331.97,430.72 332.22,430.78 332.47,430.74 332.72,430.88 332.97,431.03 333.22,430.91 333.47,430.99 333.72,431.06 333.96,430.86 334.21,430.96 334.46,431.03 334.71,430.88 334.96,430.72 335.21,430.72 335.46,430.90 335.71,431.03 335.95,430.78 336.20,431.03 336.45,430.87 336.70,431.04 336.95,430.70 337.20,430.87 337.45,430.91 337.70,430.97 337.95,430.86 338.19,430.71 338.44,430.91 338.69,430.99 338.94,430.88 339.19,430.73 339.44,430.93 339.69,430.83 339.94,430.73 340.18,430.95 340.43,430.77 340.68,430.87 340.93,431.02 341.18,431.05 341.43,430.72 341.68,430.90 341.93,430.90 342.17,430.73 342.42,430.86 342.67,430.88 342.92,430.96 343.17,430.79 343.42,430.97 343.67,430.89 343.92,430.79 344.17,430.84 344.41,431.02 344.66,430.99 344.91,430.81 345.16,430.80 345.41,431.03 345.66,430.70 345.91,431.02 346.16,431.01 346.40,431.04 346.65,430.90 346.90,430.84 347.15,430.75 347.40,431.01 347.65,430.81 347.90,431.03 348.15,430.85 348.39,430.98 348.64,430.94 348.89,431.05 349.14,430.80 349.39,431.02 349.64,430.79 349.89,430.94 350.14,430.85 350.39,430.83 350.63,430.89 350.88,430.74 351.13,430.73 351.38,430.96 351.63,430.95 351.88,430.74 352.13,431.02 352.38,430.91 352.62,430.92 352.87,430.71 353.12,431.02 353.37,430.83 353.62,430.79 353.87,430.80 354.12,431.07 354.37,430.72 354.61,430.95 354.86,430.75 355.11,430.82 355.36,430.91 355.61,430.76 355.86,430.82 356.11,430.94 356.36,430.80 356.61,430.88 356.85,430.81 357.10,430.84 357.35,430.77 357.60,431.01 357.85,430.89 358.10,431.07 358.35,430.78 358.60,430.78 358.84,430.76 359.09,431.05 359.34,430.87 359.59,430.89 359.84,431.03 360.09,430.99 360.34,430.71 360.59,430.75 360.83,430.98 361.08,430.76 361.33,430.83 361.58,430.93 361.83,430.83 362.08,430.98 362.33,430.97 362.58,431.07 362.83,430.83 363.07,430.85 363.32,430.79 363.57,430.88 363.82,430.91 364.07,430.96 364.32,430.80 364.57,430.93 364.82,430.85 365.06,430.79 365.31,430.90 365.56,430.81 365.81,431.05 366.06,430.97 366.31,430.76 366.56,431.01 366.81,431.05 367.05,431.06 367.30,430.78 367.55,431.03 367.80,430.90 368.05,430.91 368.30,430.77 368.55,430.89 368.80,430.88 369.05,431.06 369.29,430.77 369.54,430.78 369.79,430.84 370.04,430.76 370.29,430.84 370.54,430.80 370.79,430.75 371.04,430.84 371.28,431.06 371.53,430.74 371.78,430.70 372.03,430.99 372.28,431.05 372.53,430.94 372.78,431.03 373.03,430.93 373.27,431.04 373.52,430.99 373.77,431.07 374.02,430.91 374.27,430.96 374.52,430.80 374.77,430.93 375.02,431.01 375.27,430.72 375.51,430.74 375.76,430.81 376.01,430.99 376.26,430.92 376.51,430.90 376.76,430.92 377.01,431.06 377.26,430.90 377.50,430.78 377.75,430.81 378.00,430.75 378.25,430.82 378.50,430.79 378.75,430.75 379.00,430.73 379.25,430.77 379.49,430.92 379.74,430.82 379.99,430.82 380.24,430.74 380.49,430.80 380.74,430.90 380.99,431.00 381.24,430.95 381.49,430.98 381.73,430.82 381.98,430.78 382.23,431.00 382.48,430.87 382.73,430.76 382.98,430.93 383.23,431.03 383.48,430.84 383.72,430.93 383.97,431.02 384.22,430.96 384.47,431.07 384.72,431.01 384.97,430.91 385.22,431.03 385.47,431.07 385.71,430.87 385.96,430.71 386.21,430.76 386.46,430.95 386.71,430.73 386.96,431.04 387.21,431.01 387.46,431.07 387.71,431.05 387.95,430.85 388.20,430.79 388.45,430.89 388.70,430.77 388.95,430.90 389.20,430.73 389.45,430.84 389.70,430.87 389.94,431.01 390.19,430.91 390.44,430.91 390.69,430.76 390.94,430.98 391.19,430.96 391.44,430.77 391.69,431.04 391.93,430.87 392.18,430.99 392.43,430.82 392.68,430.85 392.93,431.03 393.18,430.80 393.43,430.92 393.68,430.95 393.93,430.75 394.17,430.78 394.42,430.95 394.67,430.82 394.92,431.02 395.17,430.88 395.42,431.04 395.67,430.83 395.92,430.73 396.16,430.83 396.41,431.05 396.66,430.88 396.91,430.90 397.16,430.90 397.41,431.01 397.66,430.97 397.91,430.90 398.15,431.04 398.40,430.82 398.65,430.98 398.90,430.96 399.15,431.04 399.40,430.96 399.65,430.72 399.90,430.96 400.15,431.03 400.39,430.94 400.64,430.72 400.89,431.04 401.14,430.94 401.39,430.99 401.64,430.82 401.89,430.90 402.14,431.03 402.38,430.75 402.63,430.95 402.88,430.81 403.13,430.90 403.38,430.75 403.63,431.05 403.88,430.98 404.13,430.96 404.37,430.97 404.62,430.76 404.87,430.88 405.12,430.94 405.37,430.88 405.62,430.76 405.87,430.86 406.12,430.90 406.37,430.83 406.61,430.84 406.86,430.92 407.11,430.91 407.36,431.02 407.61,430.91 407.86,430.74 408.11,430.96 408.36,430.93 408.60,430.85 408.85,430.85 409.10,431.00 409.35,430.90 409.60,430.80 409.85,431.05 410.10,431.03 410.35,430.79 410.59,430.73 410.84,431.04 411.09,431.04 411.34,430.84 411.59,430.96 411.84,430.83 412.09,431.06 412.34,430.90 412.59,431.01 412.83,430.95 413.08,430.81 413.33,430.88 413.58,430.75 413.83,430.76 414.08,430.84 414.33,430.75 414.58,431.00 414.82,430.89 415.07,430.95 415.32,430.84 415.57,431.03 415.82,430.74 416.07,430.93 416.32,430.78 416.57,430.72 416.81,430.72 417.06,430.92 417.31,430.75 417.56,430.70 417.81,431.02 418.06,430.79 418.31,430.80 418.56,430.90 418.81,430.97 419.05,431.01 419.30,430.92 419.55,430.72 419.80,430.92 420.05,430.97 420.30,430.84 420.55,430.91 420.80,430.84 421.04,430.90 421.29,430.96 421.54,431.06 421.79,430.77 422.04,430.82 422.29,430.98 422.54,430.88 422.79,430.85 423.03,430.88 423.28,430.73 423.53,430.78 423.78,430.96 424.03,430.94 424.28,430.84 424.53,431.01 424.78,430.72 425.03,431.05 425.27,430.88 425.52,430.97 425.77,430.87 426.02,431.05 426.27,430.99 426.52,430.70 426.77,430.78 427.02,430.99 427.26,430.90 427.51,431.06 427.76,431.02 428.01,431.00 428.26,430.70 428.51,430.95 428.76,430.98 429.01,431.05 429.25,431.03 429.50,430.70 429.75,430.79 430.00,430.73 430.25,430.76 430.50,430.78 430.75,430.97 431.00,431.01 431.25,430.97 431.49,431.05 431.74,431.00 431.99,430.80 432.24,430.89 432.49,431.07 432.74,430.96 432.99,430.75 433.24,430.75 433.48,430.80 433.73,430.80 433.98,430.73 434.23,430.86 434.48,430.93 434.73,430.86 434.98,430.96 435.23,431.06 435.47,430.97 435.72,430.90 435.97,431.03 436.22,431.04 436.47,430.98 436.72,430.93 436.97,430.71 437.22,430.89 437.47,430.76 437.71,430.79 437.96,430.85 438.21,430.95 438.46,430.92 438.71,430.95 438.96,430.83 439.21,430.75 439.46,430.78 439.70,430.96 439.95,431.01 440.20,431.07 440.45,430.85 440.70,430.98 440.95,431.07 441.20,430.96 441.45,430.98 441.69,430.99 441.94,430.82 442.19,430.85 442.44,430.96 442.69,430.80 442.94,430.99 443.19,430.73 443.44,431.03 443.69,430.85 443.93,430.81 444.18,430.80 444.43,430.89 444.68,430.75 444.93,430.84 445.18,430.81 445.43,431.04 445.68,431.00 445.92,430.90 446.17,430.87 446.42,431.03 446.67,430.79 446.92,430.94 447.17,430.89 447.42,430.88 447.67,430.76 447.91,430.96 448.16,430.86 448.41,430.84 448.66,430.83 448.91,430.95 449.16,430.97 449.41,430.89 449.66,430.85 449.91,430.83 450.15,431.02 450.40,430.90 450.65,430.86 450.90,431.00 451.15,431.03 451.40,430.72 451.65,431.06 451.90,430.88 452.14,430.96 452.39,431.06 452.64,430.97 452.89,431.01 453.14,430.92 453.39,430.73 453.64,431.04 453.89,430.94 454.13,430.81 454.38,430.84 454.63,431.06 454.88,430.98 455.13,430.97 455.38,430.74 455.63,430.91 455.88,430.97 456.13,430.89 456.37,430.89 456.62,431.01 456.87,430.82 457.12,430.80 457.37,430.89 457.62,430.87 457.87,430.78 458.12,430.71 458.36,430.84 458.61,431.05 458.86,430.88 459.11,430.82 459.36,430.95 459.61,430.82 459.86,430.93 460.11,430.84 460.35,430.84 460.60,430.82 460.85,430.73 461.10,430.81 461.35,430.81 461.60,430.81 461.85,430.98 462.10,430.84 462.35,430.84 462.59,431.05 462.84,430.79 463.09,430.99 463.34,430.89 463.59,430.87 463.84,430.80 464.09,430.79 464.34,430.90 464.58,430.72 464.83,430.91 465.08,430.86 465.33,430.70 465.58,430.95 465.83,430.80 466.08,430.71 466.33,431.04 466.57,430.78 466.82,430.83 467.07,430.87 467.32,430.78 467.57,430.75 467.82,431.02 468.07,430.89 468.32,430.84 468.57,430.81 468.81,430.71 469.06,430.77 469.31,430.76 469.56,431.05 469.81,430.91 470.06,430.73 470.31,430.72 470.56,430.79 470.80,430.95 471.05,430.78 471.30,430.87 471.55,430.82 471.80,430.83 472.05,430.75 472.30,430.80 472.55,430.71 472.79,430.89 473.04,430.89 473.29,430.83 473.54,430.86 473.79,431.05 474.04,430.71 474.29,430.95 474.54,430.88 474.79,431.05 475.03,431.00 475.28,430.72 475.53,430.97 475.78,430.96 476.03,430.77 476.28,430.98 476.53,430.82 476.78,430.86 477.02,430.74 477.27,430.89 477.52,430.95 477.77,430.97 478.02,430.93 478.27,431.07 478.52,431.03 478.77,431.01 479.01,430.95 479.26,430.78 479.51,430.72 479.76,430.94 480.01,430.98 480.26,430.96 480.51,430.84 480.76,430.89 481.01,431.03 481.25,430.87 481.50,430.97 481.75,431.02 482.00,430.78 482.25,431.03 482.50,430.91 482.75,430.78 483.00,430.87 483.24,430.74 483.49,430.95 483.74,430.72 483.99,431.05 484.24,430.74 484.49,430.91 484.74,431.07 484.99,430.97 485.23,430.70 485.48,430.80 485.73,430.80 485.98,430.77 486.23,431.07 486.48,430.96 486.73,430.90 486.98,430.73 487.23,430.73 487.47,431.01 487.72,430.70 487.97,430.86 488.22,430.96 488.47,431.04 488.72,430.91 488.97,430.88 489.22,430.90 489.46,430.95 489.71,430.72 489.96,430.89 490.21,430.96 490.46,430.78 490.71,430.98 490.96,430.91 491.21,431.03 491.45,430.98 491.70,430.70 491.95,430.84 492.20,430.88 492.45,430.82 492.70,430.82 492.95,430.88 493.20,430.93 493.45,431.01 493.69,431.06 493.94,431.02 494.19,430.92 494.44,431.07 494.69,430.82 494.94,430.94 495.19,430.98 495.44,430.95 495.68,430.89 495.93,430.99 496.18,430.75 496.43,430.89 496.68,431.04 496.93,431.04 497.18,430.74 497.43,430.85 497.67,430.96 497.92,430.80 498.17,431.05 498.42,430.74 498.67,430.72 498.92,430.82 499.17,431.05 499.42,430.91 499.67,430.76 499.91,430.85 500.16,430.99 500.41,430.98 500.66,431.05 500.91,430.88 501.16,431.00 501.41,430.90 501.66,430.74 501.90,430.73 502.15,430.89 502.40,430.78 502.65,431.02 502.90,430.72 503.15,430.75 503.40,430.89 503.65,430.74 503.89,430.96 504.14,430.71 504.39,430.95 504.64,430.73 504.89,430.76 505.14,430.72 505.39,430.80 505.64,431.04 505.89,430.97 506.13,430.83 506.38,430.73 506.63,430.82 506.88,431.06 507.13,430.94 507.38,430.94 507.63,431.01 507.88,430.99 508.12,430.88 508.37,430.93 508.62,430.97 508.87,430.92 509.12,430.72 509.37,430.85 509.62,430.79 509.87,430.72 510.11,431.06 510.36,430.74 510.61,431.03 510.86,431.00 511.11,430.79 511.36,430.79 511.61,430.84 511.86,430.89 512.11,430.80 512.35,430.91 512.60,431.00 512.85,430.99 513.10,431.03 513.35,431.06 513.60,430.72 513.85,430.72 514.10,430.94 514.34,430.92 514.59,430.97 514.84,430.78 515.09,430.89 515.34,431.01 515.59,430.74 515.84,430.72 516.09,431.05 516.33,430.90 516.58,430.99 516.83,430.83 517.08,430.94 517.33,430.96 517.58,430.96 517.83,430.84 518.08,430.88 518.33,430.89 518.57,430.82 518.82,430.89 519.07,430.72 519.32,430.91 519.57,430.78 519.82,430.72 520.07,430.84 520.32,430.85 520.56,430.78 520.81,430.80 521.06,431.00 521.31,430.91 521.56,431.01 521.81,431.06 522.06,430.81 522.31,430.95 522.55,430.98 522.80,431.06 523.05,431.06 523.30,430.82 523.55,430.94 523.80,430.91 524.05,430.82 524.30,430.73 524.55,430.81 524.79,430.99 525.04,430.70 525.29,431.00 525.54,430.85 525.79,430.83 526.04,430.96 526.29,430.74 526.54,430.84 526.78,430.81 527.03,431.02 527.28,430.76 527.53,430.96 527.78,430.84 528.03,430.80 528.28,430.95 528.53,430.97 528.77,430.95 529.02,430.71 529.27,430.83 529.52,430.89 529.77,430.86 530.02,430.83 530.27,430.97 530.52,431.04 530.77,431.03 531.01,430.85 531.26,430.85 531.51,430.71 531.76,430.84 532.01,430.75 532.26,430.70 532.51,430.89 532.76,430.91 533.00,430.89 533.25,430.93 533.50,430.79 533.75,430.86 534.00,431.02 534.25,430.71 534.50,430.87 534.75,430.79 534.99,430.87 535.24,430.85 535.49,430.86 535.74,431.03 535.99,431.02 536.24,430.80 536.49,430.94 536.74,431.02 536.99,430.77 537.23,430.79 537.48,430.79 537.73,430.93 537.98,431.02 538.23,430.79 538.48,430.99 538.73,430.82 538.98,430.81 539.22,430.97 539.47,431.07 539.72,430.85 539.97,430.78 540.22,430.85 540.47,430.70 540.72,430.98 540.97,430.80 541.21,430.91 541.46,430.85 541.71,430.96 541.96,430.98 542.21,430.87 542.46,430.84 542.71,430.73 542.96,430.85 543.21,430.88 543.45,430.83 543.70,430.84 543.95,430.92 544.20,430.97 544.45,430.82 544.70,430.93 544.95,431.06 545.20,431.01 545.44,430.94 545.69,430.81 545.94,430.83 546.19,430.89 546.44,430.77 546.69,430.95 546.94,430.94 547.19,430.79 547.43,430.82 547.68,430.91 547.93,430.74 548.18,431.06 548.43,430.87 548.68,430.75 548.93,430.74 549.18,431.00 549.43,430.77 549.67,430.87 549.92,430.72 550.17,430.95 550.42,430.82 550.67,430.83 550.92,430.70 551.17,430.94 551.42,430.92 551.66,431.02 551.91,430.82 552.16,431.04 552.41,430.75 552.66,431.02 552.91,431.00 553.16,430.72 553.41,430.88 553.65,430.79 553.90,430.94 554.15,430.98 554.40,430.93 554.65,430.70 554.90,431.00 555.15,430.73 555.40,430.74 555.65,430.82 555.89,430.97 556.14,430.80 556.39,430.73 556.64,430.85 556.89,430.99 557.14,430.84 557.39,430.71 557.64,430.85 557.88,431.01 558.13,430.99 558.38,430.84 558.63,431.05 558.88,431.07 559.13,430.93 559.38,430.97 559.63,430.89 559.87,431.04 560.12,430.86 560.37,430.82 560.62,430.95 560.87,430.85 561.12,430.87 561.37,430.78 561.62,430.86 561.87,430.83 562.11,430.86 562.36,430.76 562.61,431.03 562.86,431.03 563.11,430.75 563.36,430.76 563.61,431.07 563.86,430.74 564.10,430.84 564.35,430.75 564.60,430.81 564.85,430.93 565.10,431.03 565.35,430.79 565.60,430.81 565.85,430.89 566.09,430.97 566.34,430.93 566.59,430.72 566.84,430.90 567.09,430.99 567.34,430.70 567.59,430.71 567.84,431.00 568.09,431.00 568.33,430.80 568.58,430.93 568.83,430.89 569.08,430.82 569.33,430.97 569.58,430.85 569.83,430.99 570.08,430.99 570.32,430.87 570.57,430.91 570.82,430.74 571.07,431.02 571.32,430.73 571.57,430.97 571.82,430.94 572.07,431.03 572.31,430.95 572.56,430.70 572.81,430.94 573.06,430.76 573.31,430.71 573.56,430.81 573.81,431.00 574.06,430.91 574.31,431.01 574.55,430.98 574.80,430.95 575.05,431.01 575.30,430.82 575.55,430.88 575.80,430.96 576.05,430.98 576.30,431.02 576.54,431.03 576.79,430.91 577.04,431.04 577.29,430.88 577.54,430.97 577.79,430.78 578.04,430.97 578.29,430.75 578.53,430.72 578.78,430.72 579.03,430.99 579.28,430.72 579.53,430.89 579.78,430.74 580.03,430.90 580.28,430.87 580.53,430.97 580.77,430.79 581.02,430.93 581.27,430.74 581.52,430.81 581.77,430.91 582.02,431.06 582.27,430.97 582.52,430.91 582.76,430.93 583.01,430.85 583.26,431.07 583.51,430.90 583.76,430.74 584.01,430.72 584.26,430.81 584.51,430.81 584.75,430.85 585.00,430.70 585.25,430.78 585.50,430.90 585.75,430.89 586.00,430.72 586.25,430.86 586.50,430.85 586.75,430.96 586.99,430.82 587.24,430.89 587.49,430.72 587.74,430.70 587.99,430.70 588.24,430.72 588.49,431.05 588.74,431.04 588.98,430.94 589.23,430.76 589.48,430.86 589.73,430.97 589.98,431.03 590.23,430.98 590.48,431.02 590.73,431.02 590.97,430.79 591.22,431.00 591.47,431.01 591.72,430.84 591.97,431.02 592.22,430.76 592.47,430.83 592.72,430.74 592.97,430.80 593.21,430.80 593.46,430.97 593.71,430.91 593.96,430.93 594.21,430.92 594.46,430.73 594.71,430.91 594.96,430.77 595.20,430.84 595.45,431.04 595.70,430.99 595.95,430.85 596.20,430.78 596.45,430.98 596.70,430.98 596.95,430.93 597.19,430.90 597.44,430.91 597.69,430.73 597.94,430.84 598.19,430.97 598.44,430.94 598.69,430.88 598.94,431.01 599.19,430.92 599.43,431.05 599.68,430.83 599.93,430.75 600.18,430.74 600.43,430.85 600.68,430.93 600.93,430.86 601.18,430.86 601.42,431.00 601.67,430.87 601.92,430.88 602.17,431.00 602.42,430.91 602.67,430.76 602.92,430.83 603.17,430.95 603.41,430.98 603.66,430.84 603.91,430.86 604.16,430.96 604.41,430.89 604.66,430.92 604.91,430.84 605.16,430.74 605.41,430.93 605.65,430.87 605.90,430.86 606.15,430.82 606.40,430.98 606.65,430.98 606.90,430.73 607.15,431.02 607.40,430.82 607.64,430.97 607.89,430.89 608.14,430.90 608.39,430.98 608.64,431.00 608.89,430.71 609.14,431.06 609.39,431.02 609.63,430.79 609.88,430.93 610.13,431.00 610.38,430.78 610.63,430.70 610.88,430.99 611.13,430.81 611.38,430.92 611.63,430.70 611.87,430.85 612.12,430.74 612.37,430.82 612.62,431.02 612.87,430.91 613.12,430.81 613.37,431.01 613.62,431.04 613.86,430.70 614.11,430.73 614.36,430.83 614.61,431.05 614.86,430.81 615.11,430.70 615.36,430.78 615.61,430.80 615.85,430.91 616.10,430.83 616.35,430.73 616.60,430.88 616.85,431.04 617.10,431.02 617.35,430.72 617.60,430.81 617.85,430.72 618.09,431.01 618.34,431.03 618.59,430.82 618.84,430.91 619.09,430.90 619.34,430.98 619.59,430.79 619.84,430.78 620.08,430.80 620.33,430.91 620.58,430.89 620.83,430.92 621.08,430.90 621.33,430.95 621.58,430.90 621.83,430.71 622.07,430.77 622.32,431.02 622.57,430.82 622.82,430.76 623.07,430.94 623.32,430.74 623.57,430.72 623.82,431.04 624.07,430.84 624.31,430.93 624.56,430.90 624.81,430.87 625.06,430.75 625.31,430.84 625.56,430.74 625.81,430.98 626.06,430.77 626.30,430.92 626.55,431.00 626.80,430.77 627.05,430.86 627.30,430.99 627.55,430.74 627.80,430.89 628.05,430.82 628.29,430.70 628.54,430.95 628.79,430.87 629.04,430.87 629.29,430.96 629.54,430.87 629.79,430.71 630.04,430.81 630.29,430.97 630.53,430.82 630.78,430.84 631.03,430.93 631.28,430.82 631.53,430.93 631.78,430.78 632.03,430.93 632.28,430.76 632.52,430.96 632.77,431.01 633.02,430.95 633.27,431.02 633.52,430.74 633.77,430.70 634.02,430.91 634.27,430.98 634.51,430.74 634.76,430.75 635.01,430.98 635.26,430.96 635.51,430.88 635.76,431.02 636.01,430.99 636.26,430.92 636.51,431.03 636.75,431.02 637.00,430.84 637.25,430.96 637.50,430.73 637.75,430.71 638.00,430.82 638.25,430.97 638.50,430.79 638.74,430.94 638.99,430.75 639.24,430.91 639.49,430.81 639.74,430.79 639.99,430.81 640.24,430.79 640.49,430.94 640.73,431.01 640.98,430.93 641.23,430.71 641.48,431.06 641.73,430.96 641.98,430.95 642.23,430.91 642.48,430.75 642.73,431.01 642.97,431.03 643.22,431.06 643.47,430.94 643.72,430.80 643.97,430.90 644.22,430.83 644.47,430.88 644.72,430.94 644.96,430.92 645.21,431.05 645.46,430.72 645.71,430.80 645.96,431.03 646.21,430.99 646.46,430.78 646.71,430.88 646.95,430.79 647.20,430.79 647.45,431.02 647.70,430.76 647.95,430.99 648.20,431.02 648.45,430.79 648.70,430.77 648.95,430.96 649.19,430.93 649.44,430.80 649.69,430.96 649.94,430.90 650.19,430.70 650.44,431.02 650.69,430.72 650.94,430.74 651.18,430.70 651.43,430.98 651.68,431.00 651.93,430.91 652.18,431.01 652.43,430.73 652.68,430.86 652.93,430.76 653.17,430.89 653.42,430.88 653.67,430.71 653.92,431.02 654.17,430.99 654.42,430.75 654.67,430.85 654.92,430.78 655.17,430.70 655.41,430.78 655.66,430.84 655.91,430.79 656.16,430.87 656.41,430.99 656.66,430.95 656.91,430.73 657.16,430.87 657.40,431.06 657.65,430.83 657.90,430.70 658.15,430.84 658.40,430.89 658.65,430.90 658.90,430.84 659.15,430.84 659.39,430.89 659.64,430.73 659.89,430.74 660.14,430.78 660.39,430.80 660.64,430.80 660.89,431.00 661.14,430.89 661.39,430.97 661.63,430.99 661.88,430.72 662.13,430.98 662.38,430.77 662.63,430.76 662.88,430.92 663.13,431.06 663.38,431.00 663.62,430.83 663.87,430.81 664.12,430.94 664.37,430.85 664.62,431.01 664.87,430.83 665.12,430.78 665.37,430.78 665.61,430.86 665.86,430.86 666.11,431.07 666.36,430.97 666.61,430.92 666.86,431.04 667.11,431.04 667.36,430.71 667.61,430.82 667.85,430.86 668.10,430.81 668.35,430.75 668.60,430.83 668.85,430.91 669.10,430.92 669.35,430.71 669.60,430.71 669.60,431.20" fill="#d01010" fill-opacity="0.85" stroke="#d01010" stroke-width="0.3" stroke-opacity="0.85"/>
<rect x="49.10" y="375.60" width="2.20" height="55.60" fill="#e0103a" fill-opacity="1"/>
<rect x="48.40" y="409.70" width="3.90" height="21.50" fill="#c8001e" fill-opacity="1"/>
<line x1="50.15" y1="290.00" x2="50.15" y2="311.50" stroke="#e06868" stroke-width="1.9" stroke-opacity="1"/>
<line x1="50.15" y1="311.50" x2="50.15" y2="431.20" stroke="#d83040" stroke-width="1.9" stroke-opacity="1"/>
</g>
<line x1="44.10" y1="292.30" x2="663.50" y2="292.30" stroke="#555" stroke-width="1" />
<line x1="663.50" y1="292.30" x2="663.50" y2="431.20" stroke="#222" stroke-width="1.6" />
<line x1="44.10" y1="292.30" x2="44.10" y2="431.20" stroke="#111" stroke-width="1.6" />
<line x1="44.10" y1="431.20" x2="663.50" y2="431.20" stroke="#333" stroke-width="1.4" />
<line x1="38.90" y1="431.20" x2="44.10" y2="431.20" stroke="#333" stroke-width="0.9" />
<line x1="38.90" y1="427.48" x2="44.10" y2="427.48" stroke="#333" stroke-width="0.9" />
<line x1="38.90" y1="423.76" x2="44.10" y2="423.76" stroke="#333" stroke-width="0.9" />
<line x1="38.90" y1="420.04" x2="44.10" y2="420.04" stroke="#333" stroke-width="0.9" />
<line x1="38.90" y1="416.32" x2="44.10" y2="416.32" stroke="#333" stroke-width="0.9" />
<line x1="38.90" y1="412.60" x2="44.10" y2="412.60" stroke="#333" stroke-width="0.9" />
<line x1="38.90" y1="408.88" x2="44.10" y2="408.88" stroke="#333" stroke-width="0.9" />
<line x1="38.90" y1="405.16" x2="44.10" y2="405.16" stroke="#333" stroke-width="0.9" />
<line x1="38.90" y1="401.44" x2="44.10" y2="401.44" stroke="#333" stroke-width="0.9" />
<line x1="38.90" y1="397.72" x2="44.10" y2="397.72" stroke="#333" stroke-width="0.9" />
<line x1="38.90" y1="394.00" x2="44.10" y2="394.00" stroke="#333" stroke-width="0.9" />
<line x1="38.90" y1="390.28" x2="44.10" y2="390.28" stroke="#333" stroke-width="0.9" />
<line x1="38.90" y1="386.56" x2="44.10" y2="386.56" stroke="#333" stroke-width="0.9" />
<line x1="38.90" y1="382.84" x2="44.10" y2="382.84" stroke="#333" stroke-width="0.9" />
<line x1="38.90" y1="379.12" x2="44.10" y2="379.12" stroke="#333" stroke-width="0.9" />
<line x1="38.90" y1="375.40" x2="44.10" y2="375.40" stroke="#333" stroke-width="0.9" />
<line x1="38.90" y1="371.68" x2="44.10" y2="371.68" stroke="#333" stroke-width="0.9" />
<line x1="38.90" y1="367.96" x2="44.10" y2="367.96" stroke="#333" stroke-width="0.9" />
<line x1="38.90" y1="364.24" x2="44.10" y2="364.24" stroke="#333" stroke-width="0.9" />
<line x1="38.90" y1="360.52" x2="44.10" y2="360.52" stroke="#333" stroke-width="0.9" />
<line x1="38.90" y1="356.80" x2="44.10" y2="356.80" stroke="#333" stroke-width="0.9" />
<line x1="38.90" y1="353.08" x2="44.10" y2="353.08" stroke="#333" stroke-width="0.9" />
<line x1="38.90" y1="349.36" x2="44.10" y2="349.36" stroke="#333" stroke-width="0.9" />
<line x1="38.90" y1="345.64" x2="44.10" y2="345.64" stroke="#333" stroke-width="0.9" />
<line x1="38.90" y1="341.92" x2="44.10" y2="341.92" stroke="#333" stroke-width="0.9" />
<line x1="38.90" y1="338.20" x2="44.10" y2="338.20" stroke="#333" stroke-width="0.9" />
<line x1="38.90" y1="334.48" x2="44.10" y2="334.48" stroke="#333" stroke-width="0.9" />
<line x1="38.90" y1="330.76" x2="44.10" y2="330.76" stroke="#333" stroke-width="0.9" />
<line x1="38.90" y1="327.04" x2="44.10" y2="327.04" stroke="#333" stroke-width="0.9" />
<line x1="38.90" y1="323.32" x2="44.10" y2="323.32" stroke="#333" stroke-width="0.9" />
<line x1="38.90" y1="319.60" x2="44.10" y2="319.60" stroke="#333" stroke-width="0.9" />
<line x1="38.90" y1="315.88" x2="44.10" y2="315.88" stroke="#333" stroke-width="0.9" />
<line x1="38.90" y1="312.16" x2="44.10" y2="312.16" stroke="#333" stroke-width="0.9" />
<line x1="38.90" y1="308.44" x2="44.10" y2="308.44" stroke="#333" stroke-width="0.9" />
<line x1="38.90" y1="304.72" x2="44.10" y2="304.72" stroke="#333" stroke-width="0.9" />
<line x1="38.90" y1="301.00" x2="44.10" y2="301.00" stroke="#333" stroke-width="0.9" />
<line x1="38.90" y1="297.28" x2="44.10" y2="297.28" stroke="#333" stroke-width="0.9" />
<line x1="38.90" y1="293.56" x2="44.10" y2="293.56" stroke="#333" stroke-width="0.9" />
<text x="28.15" y="433.60" font-size="6.90" font-weight="normal" fill="#333" stroke="#333" stroke-width="0.22" textLength="7.65" lengthAdjust="spacingAndGlyphs" >0</text>
<text x="27.56" y="415.00" font-size="6.90" font-weight="normal" fill="#333" stroke="#333" stroke-width="0.22" textLength="8.44" lengthAdjust="spacingAndGlyphs" >1</text>
<text x="27.97" y="396.40" font-size="6.90" font-weight="normal" fill="#333" stroke="#333" stroke-width="0.22" textLength="8.07" lengthAdjust="spacingAndGlyphs" >2</text>
<text x="28.14" y="377.80" font-size="6.90" font-weight="normal" fill="#333" stroke="#333" stroke-width="0.22" textLength="7.73" lengthAdjust="spacingAndGlyphs" >3</text>
<text x="28.44" y="359.20" font-size="6.90" font-weight="normal" fill="#333" stroke="#333" stroke-width="0.22" textLength="7.27" lengthAdjust="spacingAndGlyphs" >4</text>
<text x="28.14" y="340.60" font-size="6.90" font-weight="normal" fill="#333" stroke="#333" stroke-width="0.22" textLength="7.73" lengthAdjust="spacingAndGlyphs" >5</text>
<text x="27.99" y="322.00" font-size="6.90" font-weight="normal" fill="#333" stroke="#333" stroke-width="0.22" textLength="7.89" lengthAdjust="spacingAndGlyphs" >6</text>
<text x="27.97" y="303.40" font-size="6.90" font-weight="normal" fill="#333" stroke="#333" stroke-width="0.22" textLength="8.07" lengthAdjust="spacingAndGlyphs" >7</text>
<line x1="57.05" y1="431.20" x2="57.05" y2="433.50" stroke="#333" stroke-width="1.1" />
<line x1="72.60" y1="431.20" x2="72.60" y2="433.50" stroke="#333" stroke-width="1.1" />
<line x1="88.15" y1="431.20" x2="88.15" y2="433.50" stroke="#333" stroke-width="1.1" />
<line x1="103.70" y1="431.20" x2="103.70" y2="434.40" stroke="#333" stroke-width="1.1" />
<line x1="119.25" y1="431.20" x2="119.25" y2="433.50" stroke="#333" stroke-width="1.1" />
<line x1="134.80" y1="431.20" x2="134.80" y2="433.50" stroke="#333" stroke-width="1.1" />
<line x1="150.35" y1="431.20" x2="150.35" y2="433.50" stroke="#333" stroke-width="1.1" />
<line x1="165.90" y1="431.20" x2="165.90" y2="434.40" stroke="#333" stroke-width="1.1" />
<line x1="181.45" y1="431.20" x2="181.45" y2="433.50" stroke="#333" stroke-width="1.1" />
<line x1="197.00" y1="431.20" x2="197.00" y2="433.50" stroke="#333" stroke-width="1.1" />
<line x1="212.55" y1="431.20" x2="212.55" y2="433.50" stroke="#333" stroke-width="1.1" />
<line x1="228.10" y1="431.20" x2="228.10" y2="434.40" stroke="#333" stroke-width="1.1" />
<line x1="243.65" y1="431.20" x2="243.65" y2="433.50" stroke="#333" stroke-width="1.1" />
<line x1="259.20" y1="431.20" x2="259.20" y2="433.50" stroke="#333" stroke-width="1.1" />
<line x1="274.75" y1="431.20" x2="274.75" y2="433.50" stroke="#333" stroke-width="1.1" />
<line x1="290.30" y1="431.20" x2="290.30" y2="434.40" stroke="#333" stroke-width="1.1" />
<line x1="305.85" y1="431.20" x2="305.85" y2="433.50" stroke="#333" stroke-width="1.1" />
<line x1="321.40" y1="431.20" x2="321.40" y2="433.50" stroke="#333" stroke-width="1.1" />
<line x1="336.95" y1="431.20" x2="336.95" y2="433.50" stroke="#333" stroke-width="1.1" />
<line x1="352.50" y1="431.20" x2="352.50" y2="434.40" stroke="#333" stroke-width="1.1" />
<line x1="368.05" y1="431.20" x2="368.05" y2="433.50" stroke="#333" stroke-width="1.1" />
<line x1="383.60" y1="431.20" x2="383.60" y2="433.50" stroke="#333" stroke-width="1.1" />
<line x1="399.15" y1="431.20" x2="399.15" y2="433.50" stroke="#333" stroke-width="1.1" />
<line x1="414.70" y1="431.20" x2="414.70" y2="434.40" stroke="#333" stroke-width="1.1" />
<line x1="430.25" y1="431.20" x2="430.25" y2="433.50" stroke="#333" stroke-width="1.1" />
<line x1="445.80" y1="431.20" x2="445.80" y2="433.50" stroke="#333" stroke-width="1.1" />
<line x1="461.35" y1="431.20" x2="461.35" y2="433.50" stroke="#333" stroke-width="1.1" />
<line x1="476.90" y1="431.20" x2="476.90" y2="434.40" stroke="#333" stroke-width="1.1" />
<line x1="492.45" y1="431.20" x2="492.45" y2="433.50" stroke="#333" stroke-width="1.1" />
<line x1="508.00" y1="431.20" x2="508.00" y2="433.50" stroke="#333" stroke-width="1.1" />
<line x1="523.55" y1="431.20" x2="523.55" y2="433.50" stroke="#333" stroke-width="1.1" />
<line x1="539.10" y1="431.20" x2="539.10" y2="434.40" stroke="#333" stroke-width="1.1" />
<line x1="554.65" y1="431.20" x2="554.65" y2="433.50" stroke="#333" stroke-width="1.1" />
<line x1="570.20" y1="431.20" x2="570.20" y2="433.50" stroke="#333" stroke-width="1.1" />
<line x1="585.75" y1="431.20" x2="585.75" y2="433.50" stroke="#333" stroke-width="1.1" />
<line x1="601.30" y1="431.20" x2="601.30" y2="434.40" stroke="#333" stroke-width="1.1" />
<line x1="616.85" y1="431.20" x2="616.85" y2="433.50" stroke="#333" stroke-width="1.1" />
<line x1="632.40" y1="431.20" x2="632.40" y2="433.50" stroke="#333" stroke-width="1.1" />
<line x1="647.95" y1="431.20" x2="647.95" y2="433.50" stroke="#333" stroke-width="1.1" />
<line x1="663.50" y1="431.20" x2="663.50" y2="434.40" stroke="#333" stroke-width="1.1" />
<text x="99.55" y="441.20" font-size="6.90" font-weight="normal" fill="#333" stroke="#333" stroke-width="0.22" textLength="8.31" lengthAdjust="spacingAndGlyphs" >2</text>
<text x="162.23" y="441.20" font-size="6.90" font-weight="normal" fill="#333" stroke="#333" stroke-width="0.22" textLength="7.49" lengthAdjust="spacingAndGlyphs" >4</text>
<text x="223.97" y="441.20" font-size="6.90" font-weight="normal" fill="#333" stroke="#333" stroke-width="0.22" textLength="8.13" lengthAdjust="spacingAndGlyphs" >6</text>
<text x="286.25" y="441.20" font-size="6.90" font-weight="normal" fill="#333" stroke="#333" stroke-width="0.22" textLength="8.05" lengthAdjust="spacingAndGlyphs" >8</text>
<text x="343.76" y="441.20" font-size="6.90" font-weight="normal" fill="#333" stroke="#333" stroke-width="0.22" textLength="16.91" lengthAdjust="spacingAndGlyphs" >10</text>
<text x="405.94" y="441.20" font-size="6.90" font-weight="normal" fill="#333" stroke="#333" stroke-width="0.22" textLength="17.17" lengthAdjust="spacingAndGlyphs" >12</text>
<text x="468.17" y="441.20" font-size="6.90" font-weight="normal" fill="#333" stroke="#333" stroke-width="0.22" textLength="16.82" lengthAdjust="spacingAndGlyphs" >14</text>
<text x="530.35" y="441.20" font-size="6.90" font-weight="normal" fill="#333" stroke="#333" stroke-width="0.22" textLength="16.99" lengthAdjust="spacingAndGlyphs" >16</text>
<text x="592.55" y="441.20" font-size="6.90" font-weight="normal" fill="#333" stroke="#333" stroke-width="0.22" textLength="16.99" lengthAdjust="spacingAndGlyphs" >18</text>
<text x="649.66" y="441.20" font-size="6.90" font-weight="normal" fill="#333" stroke="#333" stroke-width="0.22" textLength="16.50" lengthAdjust="spacingAndGlyphs" >20</text>
<text x="310.82" y="449.40" font-size="7.60" font-weight="normal" fill="#333" stroke="#333" stroke-width="0.22" textLength="84.80" lengthAdjust="spacingAndGlyphs" >Energy [keV]</text>
<rect x="476.30" y="292.30" width="187.20" height="8.10" fill="white" />
<line x1="476.30" y1="292.30" x2="476.30" y2="300.40" stroke="#333" stroke-width="0.9" />
<line x1="476.30" y1="300.40" x2="663.50" y2="300.40" stroke="#c4c4c4" stroke-width="1.2" />
<line x1="476.30" y1="292.30" x2="663.50" y2="292.30" stroke="#444" stroke-width="1" />
<line x1="481.60" y1="296.35" x2="504.00" y2="296.35" stroke="#f4a0a0" stroke-width="1" />
<text x="525.44" y="297.80" font-size="5.10" font-weight="normal" fill="#333" stroke="#333" stroke-width="0.22" textLength="116.67" lengthAdjust="spacingAndGlyphs" >1.00 * Acquisition 4019</text>
<line x1="663.50" y1="292.30" x2="663.50" y2="431.20" stroke="#222" stroke-width="1.6" />
<path d="M261.20,312.60H652.70V328.60H261.20Z M261.20,328.60H318.60V357.30H261.20Z" fill="#dcdcdc"/>
<text x="261.20" y="310.60" font-size="6.50" font-weight="normal" fill="#333" stroke="#333" stroke-width="0.22" textLength="79.02" lengthAdjust="spacingAndGlyphs" >Acquisition 4019</text>
<text x="270.24" y="323.00" font-size="6.50" font-weight="normal" fill="#333" stroke="#333" stroke-width="0.22" textLength="39.45" lengthAdjust="spacingAndGlyphs" >Element</text>
<text x="322.00" y="323.00" font-size="6.50" font-weight="normal" fill="#333" stroke="#333" stroke-width="0.22" textLength="32.68" lengthAdjust="spacingAndGlyphs" >At. No.</text>
<text x="357.58" y="323.00" font-size="6.50" font-weight="normal" fill="#333" stroke="#333" stroke-width="0.22" textLength="27.59" lengthAdjust="spacingAndGlyphs" >Netto</text>
<text x="391.94" y="318.50" font-size="6.50" font-weight="normal" fill="#333" stroke="#333" stroke-width="0.22" textLength="25.73" lengthAdjust="spacingAndGlyphs" >Mass</text>
<text x="425.24" y="318.50" font-size="6.50" font-weight="normal" fill="#333" stroke="#333" stroke-width="0.22" textLength="57.97" lengthAdjust="spacingAndGlyphs" >Mass Norm.</text>
<text x="489.50" y="318.50" font-size="6.50" font-weight="normal" fill="#333" stroke="#333" stroke-width="0.22" textLength="26.12" lengthAdjust="spacingAndGlyphs" >Atom</text>
<text x="521.97" y="318.50" font-size="6.50" font-weight="normal" fill="#333" stroke="#333" stroke-width="0.22" textLength="64.61" lengthAdjust="spacingAndGlyphs" >abs. error [%]</text>
<text x="589.27" y="318.50" font-size="6.50" font-weight="normal" fill="#333" stroke="#333" stroke-width="0.22" textLength="61.83" lengthAdjust="spacingAndGlyphs" >rel. error [%]</text>
<text x="398.79" y="326.60" font-size="6.50" font-weight="normal" fill="#333" stroke="#333" stroke-width="0.22" textLength="14.67" lengthAdjust="spacingAndGlyphs" >[%]</text>
<text x="445.71" y="326.60" font-size="6.50" font-weight="normal" fill="#333" stroke="#333" stroke-width="0.22" textLength="16.23" lengthAdjust="spacingAndGlyphs" >[%]</text>
<text x="494.56" y="326.60" font-size="6.50" font-weight="normal" fill="#333" stroke="#333" stroke-width="0.22" textLength="15.23" lengthAdjust="spacingAndGlyphs" >[%]</text>
<text x="532.57" y="326.60" font-size="6.50" font-weight="normal" fill="#333" stroke="#333" stroke-width="0.22" textLength="43.69" lengthAdjust="spacingAndGlyphs" >(1 sigma)</text>
<text x="597.45" y="326.60" font-size="6.50" font-weight="normal" fill="#333" stroke="#333" stroke-width="0.22" textLength="45.33" lengthAdjust="spacingAndGlyphs" >(1 sigma)</text>
<text x="262.48" y="336.50" font-size="6.50" font-weight="normal" fill="#333" stroke="#333" stroke-width="0.22" textLength="34.09" lengthAdjust="spacingAndGlyphs" >Carbon</text>
<text x="347.77" y="336.50" font-size="6.50" font-weight="normal" fill="#333" stroke="#333" stroke-width="0.22" textLength="7.06" lengthAdjust="spacingAndGlyphs" >6</text>
<text x="361.05" y="336.50" font-size="6.50" font-weight="normal" fill="#333" stroke="#333" stroke-width="0.22" textLength="24.28" lengthAdjust="spacingAndGlyphs" >2588</text>
<text x="394.04" y="336.50" font-size="6.50" font-weight="normal" fill="#333" stroke="#333" stroke-width="0.22" textLength="27.83" lengthAdjust="spacingAndGlyphs" >74.73</text>
<text x="455.35" y="336.50" font-size="6.50" font-weight="normal" fill="#333" stroke="#333" stroke-width="0.22" textLength="27.31" lengthAdjust="spacingAndGlyphs" >74.73</text>
<text x="490.99" y="336.50" font-size="6.50" font-weight="normal" fill="#333" stroke="#333" stroke-width="0.22" textLength="28.20" lengthAdjust="spacingAndGlyphs" >80.37</text>
<text x="560.22" y="336.50" font-size="6.50" font-weight="normal" fill="#333" stroke="#333" stroke-width="0.22" textLength="26.13" lengthAdjust="spacingAndGlyphs" >13.37</text>
<text x="623.36" y="336.50" font-size="6.50" font-weight="normal" fill="#333" stroke="#333" stroke-width="0.22" textLength="28.06" lengthAdjust="spacingAndGlyphs" >17.90</text>
<text x="261.62" y="345.10" font-size="6.50" font-weight="normal" fill="#333" stroke="#333" stroke-width="0.22" textLength="41.80" lengthAdjust="spacingAndGlyphs" >Nitrogen</text>
<text x="347.12" y="345.10" font-size="6.50" font-weight="normal" fill="#ff3030" stroke="#ff3030" stroke-width="0.22" textLength="7.58" lengthAdjust="spacingAndGlyphs" >7</text>
<text x="376.89" y="345.10" font-size="6.50" font-weight="normal" fill="#ff3030" stroke="#ff3030" stroke-width="0.22" textLength="8.73" lengthAdjust="spacingAndGlyphs" >9</text>
<text x="398.96" y="345.10" font-size="6.50" font-weight="normal" fill="#ff3030" stroke="#ff3030" stroke-width="0.22" textLength="20.04" lengthAdjust="spacingAndGlyphs" >2.11</text>
<text x="458.24" y="345.10" font-size="6.50" font-weight="normal" fill="#ff3030" stroke="#ff3030" stroke-width="0.22" textLength="20.88" lengthAdjust="spacingAndGlyphs" >2.11</text>
<text x="494.52" y="345.10" font-size="6.50" font-weight="normal" fill="#ff3030" stroke="#ff3030" stroke-width="0.22" textLength="20.21" lengthAdjust="spacingAndGlyphs" >1.95</text>
<text x="561.48" y="345.10" font-size="6.50" font-weight="normal" fill="#ff3030" stroke="#ff3030" stroke-width="0.22" textLength="20.35" lengthAdjust="spacingAndGlyphs" >3.03</text>
<text x="613.02" y="345.10" font-size="6.50" font-weight="normal" fill="#ff3030" stroke="#ff3030" stroke-width="0.22" textLength="31.88" lengthAdjust="spacingAndGlyphs" >143.44</text>
<text x="262.04" y="354.30" font-size="6.50" font-weight="normal" fill="#333" stroke="#333" stroke-width="0.22" textLength="26.84" lengthAdjust="spacingAndGlyphs" >Sulfur</text>
<text x="340.22" y="354.30" font-size="6.50" font-weight="normal" fill="#333" stroke="#333" stroke-width="0.22" textLength="13.08" lengthAdjust="spacingAndGlyphs" >16</text>
<text x="369.73" y="354.30" font-size="6.50" font-weight="normal" fill="#333" stroke="#333" stroke-width="0.22" textLength="12.76" lengthAdjust="spacingAndGlyphs" >65</text>
<text x="397.67" y="354.30" font-size="6.50" font-weight="normal" fill="#333" stroke="#333" stroke-width="0.22" textLength="20.77" lengthAdjust="spacingAndGlyphs" >0.42</text>
<text x="456.88" y="354.30" font-size="6.50" font-weight="normal" fill="#333" stroke="#333" stroke-width="0.22" textLength="20.56" lengthAdjust="spacingAndGlyphs" >0.42</text>
<text x="492.78" y="354.30" font-size="6.50" font-weight="normal" fill="#333" stroke="#333" stroke-width="0.22" textLength="20.56" lengthAdjust="spacingAndGlyphs" >0.17</text>
<text x="559.06" y="354.30" font-size="6.50" font-weight="normal" fill="#333" stroke="#333" stroke-width="0.22" textLength="21.39" lengthAdjust="spacingAndGlyphs" >0.08</text>
<text x="616.27" y="354.30" font-size="6.50" font-weight="normal" fill="#333" stroke="#333" stroke-width="0.22" textLength="26.33" lengthAdjust="spacingAndGlyphs" >20.01</text>
<text x="270.13" y="494.80" font-size="10.10" font-weight="bold" fill="#111" stroke="#111" stroke-width="0.22" textLength="21.20" lengthAdjust="spacingAndGlyphs" >AC</text>
<text x="294.65" y="494.80" font-size="10.10" font-weight="bold" fill="#111" stroke="#111" stroke-width="0.22" textLength="45.71" lengthAdjust="spacingAndGlyphs" >+MgO</text>
<text x="344.70" y="494.80" font-size="10.10" font-weight="bold" fill="#111" stroke="#111" stroke-width="0.22" textLength="36.42" lengthAdjust="spacingAndGlyphs" >after</text>
<text x="385.56" y="494.80" font-size="10.10" font-weight="bold" fill="#111" stroke="#111" stroke-width="0.22" textLength="30.51" lengthAdjust="spacingAndGlyphs" >Disc</text>
<text x="421.13" y="494.80" font-size="10.10" font-weight="bold" fill="#111" stroke="#111" stroke-width="0.22" textLength="7.53" lengthAdjust="spacingAndGlyphs" >2</text>
<text x="37.32" y="508.90" font-size="6.30" font-weight="normal" fill="#333" stroke="#333" stroke-width="0.22" textLength="44.39" lengthAdjust="spacingAndGlyphs" >cps/eV</text>
<g clip-path="url(#clip3)">
<line x1="37.75" y1="500.88" x2="37.75" y2="642.00" stroke="#3a6ee0" stroke-width="1.3" />
<line x1="38.30" y1="589.08" x2="38.30" y2="642.00" stroke="#e8305a" stroke-width="2.4" />
<line x1="40.25" y1="589.08" x2="40.25" y2="642.00" stroke="#c080f0" stroke-width="1.5" />
<line x1="43.15" y1="589.08" x2="43.15" y2="642.00" stroke="#ff88c8" stroke-width="1.3" />
<line x1="44.70" y1="627.01" x2="44.70" y2="642.00" stroke="#ffd0a0" stroke-width="1.8" />
<line x1="47.00" y1="589.08" x2="47.00" y2="642.00" stroke="#ffa050" stroke-width="1.2" />
<line x1="59.85" y1="589.08" x2="59.85" y2="642.00" stroke="#b080f0" stroke-width="1.3" />
<line x1="71.00" y1="589.08" x2="71.00" y2="642.00" stroke="#50f0f0" stroke-width="1.5" />
<line x1="83.65" y1="589.08" x2="83.65" y2="642.00" stroke="#ffb070" stroke-width="1.2" />
<line x1="99.18" y1="589.08" x2="99.18" y2="642.00" stroke="#e0e020" stroke-width="1.2" />
<line x1="103.02" y1="619.07" x2="103.02" y2="642.00" stroke="#ffff33" stroke-width="1.2" />
<line x1="107.54" y1="635.83" x2="107.54" y2="642.00" stroke="#ffff66" stroke-width="1.0" />
<line x1="115.41" y1="589.08" x2="115.41" y2="642.00" stroke="#ff3399" stroke-width="1.2" />
<line x1="122.80" y1="634.06" x2="122.80" y2="642.00" stroke="#ff55bb" stroke-width="1.2" />
<line x1="177.67" y1="589.08" x2="177.67" y2="642.00" stroke="#ffb070" stroke-width="1.2" />
<line x1="177.67" y1="615.54" x2="177.67" y2="642.00" stroke="#f0a060" stroke-width="1.2" />
<line x1="192.68" y1="634.06" x2="192.68" y2="642.00" stroke="#ffb070" stroke-width="1.2" />
<line x1="535.37" y1="615.54" x2="535.37" y2="642.00" stroke="#ffff33" stroke-width="1.0" />
<line x1="539.34" y1="589.08" x2="539.34" y2="642.00" stroke="#e8e820" stroke-width="1.2" />
<line x1="603.12" y1="633.18" x2="603.12" y2="642.00" stroke="#ffff33" stroke-width="1.2" />
<line x1="614.92" y1="639.35" x2="614.92" y2="642.00" stroke="#ffff66" stroke-width="1.0" />
<rect x="34.80" y="534.90" width="13.10" height="6.50" fill="#9933ff" />
<text x="38.08" y="539.76" font-size="4.68" font-weight="normal" fill="#ffffff" textLength="7.60" lengthAdjust="spacingAndGlyphs" fill-opacity="0.7">N</text>
<rect x="34.80" y="543.10" width="6.30" height="6.20" fill="#ff9933" />
<text x="36.56" y="547.74" font-size="4.46" font-weight="normal" fill="#202020" textLength="3.29" lengthAdjust="spacingAndGlyphs" fill-opacity="0.45">S</text>
<rect x="37.90" y="550.70" width="18.70" height="6.10" fill="#ff9933" />
<text x="41.74" y="555.27" font-size="4.39" font-weight="normal" fill="#202020" textLength="12.17" lengthAdjust="spacingAndGlyphs" fill-opacity="0.45">Fe</text>
<rect x="34.80" y="567.00" width="14.00" height="5.70" fill="#ffff33" />
<text x="38.30" y="571.27" font-size="4.10" font-weight="normal" fill="#202020" textLength="8.60" lengthAdjust="spacingAndGlyphs" fill-opacity="0.45">Ag</text>
<rect x="34.80" y="563.00" width="13.10" height="6.40" fill="#ff3399" />
<text x="37.76" y="567.79" font-size="4.61" font-weight="normal" fill="#202020" textLength="7.93" lengthAdjust="spacingAndGlyphs" fill-opacity="0.45">Ca</text>
<rect x="77.10" y="566.50" width="13.70" height="6.20" fill="#ff9933" />
<text x="81.09" y="571.14" font-size="4.46" font-weight="normal" fill="#202020" textLength="6.83" lengthAdjust="spacingAndGlyphs" fill-opacity="0.45">S</text>
<rect x="34.80" y="574.00" width="16.00" height="6.80" fill="#ff3399" />
<text x="39.79" y="579.09" font-size="4.90" font-weight="normal" fill="#202020" textLength="7.34" lengthAdjust="spacingAndGlyphs" fill-opacity="0.45">O</text>
<rect x="62.80" y="574.00" width="16.40" height="6.80" fill="#33ffff" />
<text x="66.35" y="579.09" font-size="4.90" font-weight="normal" fill="#202020" textLength="10.91" lengthAdjust="spacingAndGlyphs" fill-opacity="0.45">Si</text>
<rect x="105.80" y="574.00" width="19.90" height="7.00" fill="#ff3399" />
<text x="110.30" y="579.24" font-size="5.04" font-weight="normal" fill="#202020" textLength="12.04" lengthAdjust="spacingAndGlyphs" fill-opacity="0.45">Ca</text>
<rect x="34.80" y="582.00" width="9.60" height="6.60" fill="#ff3b3b" />
<text x="37.48" y="586.94" font-size="4.75" font-weight="normal" fill="#202020" textLength="4.91" lengthAdjust="spacingAndGlyphs" fill-opacity="0.45">C</text>
<rect x="48.10" y="582.00" width="24.00" height="6.60" fill="#9933ff" />
<text x="53.21" y="586.94" font-size="4.75" font-weight="normal" fill="#ffffff" textLength="15.53" lengthAdjust="spacingAndGlyphs" fill-opacity="0.7">Mg</text>
<rect x="89.30" y="582.20" width="21.20" height="7.00" fill="#ffff33" />
<text x="94.60" y="587.44" font-size="5.04" font-weight="normal" fill="#202020" textLength="13.02" lengthAdjust="spacingAndGlyphs" fill-opacity="0.45">Ag</text>
<rect x="168.20" y="582.20" width="19.40" height="7.00" fill="#ff9933" />
<text x="172.18" y="587.44" font-size="5.04" font-weight="normal" fill="#202020" textLength="12.63" lengthAdjust="spacingAndGlyphs" fill-opacity="0.45">Fe</text>
<rect x="529.30" y="582.20" width="20.50" height="6.40" fill="#ffff33" />
<text x="534.42" y="586.99" font-size="4.61" font-weight="normal" fill="#202020" textLength="12.59" lengthAdjust="spacingAndGlyphs" fill-opacity="0.45">Ag</text>
<rect x="35.30" y="589.50" width="1.80" height="18.10" fill="#c4cce0" fill-opacity="1"/>
<rect x="35.30" y="607.60" width="1.80" height="34.40" fill="#8ca0d4" fill-opacity="1"/>
<polygon points="39.42,642.00 39.42,641.16 39.67,641.31 39.93,640.47 40.18,640.52 40.43,638.63 40.68,637.12 40.94,636.31 41.19,635.96 41.44,637.98 41.69,639.06 41.95,639.91 42.20,637.50 42.45,630.69 42.70,622.91 42.96,622.61 43.21,628.79 43.46,635.61 43.71,639.06 43.97,640.64 44.22,641.06 44.47,640.36 44.72,641.51 44.97,640.51 45.23,641.21 45.48,641.39 45.73,641.42 45.98,641.19 46.24,640.56 46.49,641.34 46.74,640.85 46.99,640.78 47.25,641.11 47.50,640.89 47.75,641.49 48.00,641.49 48.26,641.31 48.51,640.73 48.76,641.04 49.01,641.18 49.27,640.84 49.52,641.01 49.77,641.20 50.02,640.59 50.28,640.70 50.53,641.27 50.78,640.86 51.03,640.92 51.29,640.49 51.54,640.67 51.79,641.21 52.04,640.36 52.30,641.42 52.55,641.05 52.80,640.63 53.05,641.38 53.31,640.96 53.56,641.52 53.81,640.74 54.06,640.62 54.32,640.86 54.57,640.49 54.82,641.18 55.07,640.71 55.33,640.83 55.58,640.85 55.83,641.00 56.08,640.53 56.34,640.40 56.59,640.98 56.84,640.75 57.09,641.49 57.34,640.70 57.60,640.76 57.85,640.31 58.10,640.35 58.35,640.30 58.61,638.05 58.86,633.30 59.11,628.09 59.36,623.05 59.62,623.65 59.87,628.52 60.12,634.54 60.37,637.85 60.63,640.59 60.88,641.09 61.13,641.06 61.38,640.49 61.64,641.47 61.89,641.01 62.14,640.89 62.39,640.48 62.65,640.56 62.90,640.50 63.15,641.22 63.40,641.06 63.66,641.12 63.91,640.48 64.16,640.39 64.41,641.38 64.67,641.35 64.92,641.28 65.17,641.28 65.42,640.97 65.68,640.84 65.93,641.24 66.18,641.56 66.43,641.05 66.69,641.11 66.94,640.87 67.19,640.39 67.44,640.72 67.70,640.93 67.95,640.80 68.20,640.73 68.45,641.49 68.71,640.43 68.96,640.53 69.21,640.32 69.46,640.25 69.71,640.50 69.97,640.19 70.22,640.26 70.47,639.41 70.72,640.09 70.98,640.24 71.23,640.34 71.48,640.71 71.73,640.76 71.99,641.30 72.24,641.47 72.49,641.34 72.74,641.43 73.00,641.11 73.25,641.54 73.50,640.49 73.75,640.81 74.01,641.38 74.26,641.26 74.51,641.14 74.76,641.12 75.02,641.42 75.27,640.52 75.52,640.34 75.77,640.99 76.03,640.97 76.28,641.46 76.53,641.44 76.78,641.14 77.04,641.24 77.29,640.54 77.54,641.37 77.79,641.54 78.05,640.39 78.30,640.92 78.55,641.39 78.80,640.90 79.06,641.53 79.31,640.92 79.56,640.36 79.81,640.50 80.07,640.71 80.32,641.25 80.57,641.12 80.82,641.36 81.08,640.61 81.33,640.91 81.58,640.61 81.83,641.16 82.09,641.29 82.34,640.57 82.59,640.35 82.84,640.51 83.09,640.57 83.35,640.56 83.60,640.65 83.85,641.29 84.10,640.93 84.36,641.13 84.61,641.53 84.86,641.53 85.11,641.22 85.37,641.25 85.62,640.71 85.87,640.39 86.12,641.02 86.38,640.41 86.63,640.35 86.88,640.39 87.13,641.12 87.39,641.30 87.64,641.29 87.89,641.32 88.14,641.32 88.40,640.80 88.65,640.46 88.90,640.53 89.15,640.98 89.41,640.76 89.66,640.58 89.91,641.46 90.16,640.75 90.42,640.44 90.67,640.60 90.92,640.64 91.17,640.98 91.43,641.35 91.68,640.59 91.93,641.16 92.18,640.58 92.44,640.37 92.69,641.08 92.94,641.07 93.19,640.40 93.45,640.67 93.70,641.36 93.95,641.41 94.20,641.38 94.46,640.45 94.71,640.57 94.96,641.39 95.21,640.55 95.46,640.36 95.72,640.76 95.97,641.14 96.22,640.89 96.47,641.41 96.73,641.55 96.98,640.37 97.23,640.77 97.48,640.92 97.74,640.41 97.99,641.03 98.24,640.49 98.49,640.55 98.75,641.31 99.00,641.26 99.25,641.21 99.50,641.27 99.76,640.84 100.01,641.25 100.26,641.05 100.51,641.41 100.77,640.44 101.02,641.13 101.27,641.00 101.52,640.85 101.78,640.45 102.03,641.05 102.28,640.43 102.53,640.95 102.79,640.91 103.04,640.92 103.29,641.54 103.54,641.02 103.80,641.34 104.05,641.56 104.30,640.58 104.55,641.36 104.81,640.98 105.06,640.67 105.31,640.88 105.56,641.17 105.82,640.93 106.07,640.88 106.32,640.60 106.57,641.44 106.83,640.88 107.08,641.26 107.33,641.23 107.58,640.61 107.83,640.94 108.09,640.87 108.34,640.63 108.59,640.44 108.84,641.02 109.10,640.81 109.35,640.94 109.60,640.94 109.85,640.71 110.11,641.01 110.36,640.91 110.61,640.98 110.86,640.41 111.12,640.70 111.37,640.49 111.62,640.40 111.87,641.25 112.13,640.88 112.38,640.40 112.63,640.53 112.88,641.40 113.14,641.41 113.39,641.00 113.64,641.42 113.89,641.14 114.15,641.20 114.40,640.24 114.65,639.80 114.90,639.36 115.16,640.04 115.41,639.27 115.66,639.45 115.91,640.34 116.17,639.74 116.42,639.91 116.67,641.05 116.92,640.28 117.18,641.03 117.43,640.95 117.68,640.34 117.93,640.54 118.19,641.37 118.44,641.03 118.69,640.93 118.94,641.15 119.20,641.33 119.45,641.17 119.70,640.68 119.95,641.54 120.21,640.88 120.46,641.02 120.71,641.55 120.96,641.16 121.21,640.80 121.47,640.94 121.72,641.49 121.97,640.35 122.22,640.59 122.48,640.37 122.73,641.44 122.98,641.24 123.23,641.52 123.49,640.61 123.74,641.23 123.99,641.41 124.24,641.05 124.50,640.44 124.75,640.56 125.00,641.25 125.25,641.38 125.51,640.43 125.76,640.86 126.01,640.70 126.26,641.46 126.52,641.50 126.77,640.72 127.02,641.04 127.27,641.48 127.53,640.41 127.78,640.78 128.03,640.58 128.28,641.46 128.54,640.51 128.79,641.49 129.04,640.50 129.29,641.01 129.55,641.15 129.80,640.88 130.05,640.42 130.30,641.24 130.56,641.41 130.81,640.92 131.06,641.27 131.31,641.43 131.57,641.37 131.82,641.51 132.07,641.32 132.32,641.18 132.58,641.19 132.83,640.63 133.08,641.21 133.33,640.95 133.58,641.35 133.84,641.14 134.09,641.55 134.34,641.26 134.59,641.55 134.85,640.66 135.10,640.89 135.35,641.33 135.60,640.98 135.86,640.41 136.11,641.44 136.36,640.56 136.61,641.03 136.87,640.96 137.12,640.54 137.37,641.08 137.62,640.94 137.88,640.72 138.13,640.35 138.38,641.14 138.63,640.54 138.89,640.70 139.14,640.78 139.39,641.07 139.64,641.14 139.90,641.50 140.15,641.41 140.40,641.48 140.65,640.65 140.91,641.25 141.16,641.37 141.41,641.46 141.66,640.53 141.92,640.49 142.17,640.74 142.42,641.22 142.67,641.27 142.93,641.21 143.18,641.00 143.43,641.37 143.68,641.02 143.94,641.24 144.19,640.38 144.44,640.37 144.69,640.89 144.95,641.27 145.20,640.38 145.45,641.59 145.70,641.56 145.95,641.78 146.21,641.55 146.46,641.49 146.71,641.47 146.96,641.66 147.22,641.47 147.47,641.78 147.72,641.62 147.97,641.73 148.23,641.54 148.48,641.76 148.73,641.77 148.98,641.60 149.24,641.64 149.49,641.42 149.74,641.46 149.99,641.32 150.25,641.38 150.50,641.34 150.75,641.24 151.00,641.54 151.26,641.58 151.51,641.18 151.76,641.69 152.01,641.34 152.27,641.39 152.52,641.76 152.77,641.27 153.02,641.23 153.28,641.40 153.53,641.33 153.78,641.28 154.03,641.70 154.29,641.46 154.54,641.47 154.79,641.27 155.04,641.29 155.30,641.27 155.55,641.42 155.80,641.23 156.05,641.36 156.31,641.36 156.56,641.64 156.81,641.76 157.06,641.70 157.32,641.56 157.57,641.72 157.82,641.27 158.07,641.44 158.32,641.40 158.58,641.40 158.83,641.36 159.08,641.48 159.33,641.78 159.59,641.29 159.84,641.32 160.09,641.47 160.34,641.45 160.60,641.38 160.85,641.74 161.10,641.33 161.35,641.63 161.61,641.74 161.86,641.62 162.11,641.33 162.36,641.66 162.62,641.33 162.87,641.18 163.12,641.48 163.37,641.55 163.63,641.49 163.88,641.36 164.13,641.31 164.38,641.40 164.64,641.39 164.89,641.74 165.14,641.69 165.39,641.63 165.65,641.33 165.90,641.60 166.15,641.43 166.40,641.78 166.66,641.75 166.91,641.62 167.16,641.37 167.41,641.36 167.67,641.37 167.92,641.60 168.17,641.47 168.42,641.50 168.68,641.50 168.93,641.71 169.18,641.23 169.43,641.66 169.69,641.18 169.94,641.21 170.19,641.77 170.44,641.50 170.70,641.28 170.95,641.19 171.20,641.51 171.45,641.62 171.70,641.65 171.96,641.20 172.21,641.65 172.46,641.42 172.71,641.70 172.97,641.46 173.22,641.20 173.47,641.70 173.72,641.28 173.98,641.47 174.23,641.24 174.48,641.35 174.73,641.64 174.99,641.23 175.24,641.48 175.49,641.77 175.74,641.78 176.00,641.48 176.25,641.51 176.50,641.60 176.75,641.70 177.01,641.57 177.26,641.59 177.51,641.27 177.76,641.78 178.02,641.32 178.27,641.27 178.52,641.71 178.77,641.21 179.03,641.34 179.28,641.23 179.53,641.60 179.78,641.55 180.04,641.54 180.29,641.17 180.54,641.42 180.79,641.56 181.05,641.52 181.30,641.61 181.55,641.75 181.80,641.72 182.06,641.27 182.31,641.61 182.56,641.21 182.81,641.63 183.07,641.62 183.32,641.47 183.57,641.67 183.82,641.55 184.07,641.19 184.33,641.24 184.58,641.28 184.83,641.39 185.08,641.22 185.34,641.20 185.59,641.44 185.84,641.34 186.09,641.75 186.35,641.33 186.60,641.51 186.85,641.32 187.10,641.39 187.36,641.61 187.61,641.75 187.86,641.21 188.11,641.71 188.37,641.49 188.62,641.57 188.87,641.60 189.12,641.33 189.38,641.18 189.63,641.62 189.88,641.38 190.13,641.60 190.39,641.44 190.64,641.54 190.89,641.68 191.14,641.68 191.40,641.66 191.65,641.22 191.90,641.48 192.15,641.65 192.41,641.22 192.66,641.17 192.91,641.51 193.16,641.70 193.42,641.67 193.67,641.73 193.92,641.57 194.17,641.73 194.43,641.64 194.68,641.62 194.93,641.43 195.18,641.24 195.44,641.32 195.69,641.53 195.94,641.53 196.19,641.46 196.44,641.55 196.70,641.58 196.95,641.75 197.20,641.61 197.45,641.19 197.71,641.71 197.96,641.47 198.21,641.40 198.46,641.25 198.72,641.65 198.97,641.62 199.22,641.63 199.47,641.54 199.73,641.51 199.98,641.19 200.23,641.26 200.48,641.24 200.74,641.77 200.99,641.76 201.24,641.35 201.49,641.23 201.75,641.49 202.00,641.42 202.25,641.78 202.50,641.54 202.76,641.21 203.01,641.27 203.26,641.26 203.51,641.18 203.77,641.63 204.02,641.72 204.27,641.69 204.52,641.46 204.78,641.36 205.03,641.20 205.28,641.34 205.53,641.38 205.79,641.31 206.04,641.50 206.29,641.44 206.54,641.76 206.80,641.30 207.05,641.64 207.30,641.22 207.55,641.39 207.81,641.60 208.06,641.70 208.31,641.63 208.56,641.39 208.81,641.35 209.07,641.71 209.32,641.74 209.57,641.46 209.82,641.42 210.08,641.54 210.33,641.65 210.58,641.41 210.83,641.78 211.09,641.60 211.34,641.50 211.59,641.19 211.84,641.39 212.10,641.24 212.35,641.49 212.60,641.64 212.85,641.63 213.11,641.19 213.36,641.35 213.61,641.59 213.86,641.77 214.12,641.48 214.37,641.37 214.62,641.52 214.87,641.63 215.13,641.37 215.38,641.21 215.63,641.64 215.88,641.76 216.14,641.58 216.39,641.52 216.64,641.36 216.89,641.66 217.15,641.29 217.40,641.33 217.65,641.47 217.90,641.66 218.16,641.19 218.41,641.59 218.66,641.28 218.91,641.64 219.17,641.65 219.42,641.31 219.67,641.60 219.92,641.20 220.18,641.48 220.43,641.67 220.68,641.65 220.93,641.53 221.19,641.37 221.44,641.20 221.69,641.69 221.94,641.54 222.19,641.65 222.45,641.18 222.70,641.70 222.95,641.75 223.20,641.75 223.46,641.54 223.71,641.23 223.96,641.24 224.21,641.33 224.47,641.17 224.72,641.21 224.97,641.58 225.22,641.67 225.48,641.21 225.73,641.32 225.98,641.76 226.23,641.37 226.49,641.55 226.74,641.55 226.99,641.58 227.24,641.68 227.50,641.78 227.75,641.61 228.00,641.57 228.25,641.19 228.51,641.71 228.76,641.19 229.01,641.66 229.26,641.56 229.52,641.28 229.77,641.28 230.02,641.52 230.27,641.75 230.53,641.49 230.78,641.55 231.03,641.22 231.28,641.66 231.54,641.56 231.79,641.23 232.04,641.77 232.29,641.53 232.55,641.28 232.80,641.31 233.05,641.76 233.30,641.76 233.56,641.75 233.81,641.22 234.06,641.63 234.31,641.32 234.56,641.23 234.82,641.57 235.07,641.62 235.32,641.19 235.57,641.40 235.83,641.62 236.08,641.34 236.33,641.59 236.58,641.61 236.84,641.78 237.09,641.32 237.34,641.73 237.59,641.79 237.85,641.73 238.10,641.92 238.35,641.88 238.60,641.83 238.86,641.72 239.11,641.72 239.36,641.84 239.61,641.87 239.87,641.83 240.12,641.82 240.37,641.73 240.62,641.89 240.88,641.76 241.13,641.77 241.38,641.75 241.63,641.76 241.89,641.80 242.14,641.86 242.39,641.86 242.64,641.85 242.90,641.76 243.15,641.91 243.40,641.88 243.65,641.77 243.91,641.87 244.16,641.91 244.41,641.92 244.66,641.81 244.92,641.86 245.17,641.72 245.42,641.74 245.67,641.72 245.93,641.87 246.18,641.91 246.43,641.91 246.68,641.82 246.93,641.78 247.19,641.83 247.44,641.88 247.69,641.84 247.94,641.79 248.20,641.78 248.45,641.77 248.70,641.75 248.95,641.79 249.21,641.90 249.46,641.75 249.71,641.86 249.96,641.81 250.22,641.85 250.47,641.77 250.72,641.88 250.97,641.87 251.23,641.87 251.48,641.89 251.73,641.74 251.98,641.80 252.24,641.86 252.49,641.84 252.74,641.72 252.99,641.82 253.25,641.88 253.50,641.75 253.75,641.79 254.00,641.72 254.26,641.90 254.51,641.83 254.76,641.75 255.01,641.75 255.27,641.73 255.52,641.92 255.77,641.86 256.02,641.90 256.28,641.89 256.53,641.72 256.78,641.80 257.03,641.73 257.29,641.85 257.54,641.74 257.79,641.83 258.04,641.87 258.30,641.76 258.55,641.73 258.80,641.90 259.05,641.80 259.30,641.79 259.56,641.88 259.81,641.85 260.06,641.90 260.31,641.88 260.57,641.87 260.82,641.80 261.07,641.79 261.32,641.88 261.58,641.92 261.83,641.86 262.08,641.78 262.33,641.89 262.59,641.86 262.84,641.88 263.09,641.76 263.34,641.81 263.60,641.91 263.85,641.90 264.10,641.84 264.35,641.81 264.61,641.79 264.86,641.91 265.11,641.89 265.36,641.78 265.62,641.84 265.87,641.87 266.12,641.86 266.37,641.72 266.63,641.86 266.88,641.81 267.13,641.85 267.38,641.84 267.64,641.74 267.89,641.71 268.14,641.85 268.39,641.88 268.65,641.77 268.90,641.88 269.15,641.92 269.40,641.74 269.66,641.84 269.91,641.75 270.16,641.84 270.41,641.74 270.67,641.83 270.92,641.89 271.17,641.92 271.42,641.81 271.67,641.79 271.93,641.73 272.18,641.91 272.43,641.79 272.68,641.85 272.94,641.82 273.19,641.90 273.44,641.87 273.69,641.82 273.95,641.73 274.20,641.90 274.45,641.82 274.70,641.76 274.96,641.72 275.21,641.88 275.46,641.90 275.71,641.73 275.97,641.72 276.22,641.82 276.47,641.91 276.72,641.73 276.98,641.84 277.23,641.73 277.48,641.79 277.73,641.75 277.99,641.89 278.24,641.76 278.49,641.88 278.74,641.84 279.00,641.75 279.25,641.75 279.50,641.89 279.75,641.88 280.01,641.84 280.26,641.82 280.51,641.84 280.76,641.90 281.02,641.87 281.27,641.77 281.52,641.74 281.77,641.92 282.03,641.81 282.28,641.77 282.53,641.92 282.78,641.75 283.04,641.90 283.29,641.80 283.54,641.81 283.79,641.79 284.05,641.86 284.30,641.84 284.55,641.80 284.80,641.84 285.05,641.79 285.31,641.83 285.56,641.83 285.81,641.92 286.06,641.79 286.32,641.82 286.57,641.88 286.82,641.76 287.07,641.76 287.33,641.83 287.58,641.89 287.83,641.83 288.08,641.90 288.34,641.90 288.59,641.83 288.84,641.91 289.09,641.83 289.35,641.82 289.60,641.92 289.85,641.79 290.10,641.91 290.36,641.77 290.61,641.76 290.86,641.82 291.11,641.91 291.37,641.82 291.62,641.85 291.87,641.72 292.12,641.90 292.38,641.74 292.63,641.72 292.88,641.77 293.13,641.75 293.39,641.88 293.64,641.72 293.89,641.82 294.14,641.72 294.40,641.73 294.65,641.89 294.90,641.76 295.15,641.73 295.41,641.91 295.66,641.85 295.91,641.77 296.16,641.89 296.42,641.74 296.67,641.87 296.92,641.75 297.17,641.90 297.42,641.82 297.68,641.73 297.93,641.88 298.18,641.87 298.43,641.82 298.69,641.86 298.94,641.92 299.19,641.89 299.44,641.89 299.70,641.73 299.95,641.78 300.20,641.74 300.45,641.89 300.71,641.76 300.96,641.90 301.21,641.81 301.46,641.79 301.72,641.85 301.97,641.74 302.22,641.81 302.47,641.80 302.73,641.74 302.98,641.90 303.23,641.72 303.48,641.79 303.74,641.84 303.99,641.76 304.24,641.87 304.49,641.72 304.75,641.80 305.00,641.85 305.25,641.76 305.50,641.83 305.76,641.89 306.01,641.77 306.26,641.92 306.51,641.75 306.77,641.87 307.02,641.79 307.27,641.72 307.52,641.80 307.78,641.79 308.03,641.86 308.28,641.93 308.53,641.92 308.79,641.89 309.04,641.80 309.29,641.83 309.54,641.82 309.79,641.74 310.05,641.90 310.30,641.88 310.55,641.79 310.80,641.92 311.06,641.93 311.31,641.85 311.56,641.90 311.81,641.85 312.07,641.88 312.32,641.80 312.57,641.80 312.82,641.88 313.08,641.79 313.33,641.83 313.58,641.90 313.83,641.73 314.09,641.87 314.34,641.89 314.59,641.91 314.84,641.79 315.10,641.74 315.35,641.76 315.60,641.84 315.85,641.87 316.11,641.92 316.36,641.79 316.61,641.81 316.86,641.85 317.12,641.79 317.37,641.83 317.62,641.73 317.87,641.77 318.13,641.87 318.38,641.73 318.63,641.92 318.88,641.81 319.14,641.84 319.39,641.88 319.64,641.91 319.89,641.76 320.15,641.92 320.40,641.81 320.65,641.73 320.90,641.90 321.16,641.88 321.41,641.80 321.66,641.82 321.91,641.79 322.16,641.75 322.42,641.89 322.67,641.86 322.92,641.86 323.17,641.92 323.43,641.74 323.68,641.76 323.93,641.77 324.18,641.92 324.44,641.75 324.69,641.77 324.94,641.83 325.19,641.77 325.45,641.83 325.70,641.88 325.95,641.90 326.20,641.88 326.46,641.92 326.71,641.85 326.96,641.77 327.21,641.78 327.47,641.75 327.72,641.78 327.97,641.87 328.22,641.81 328.48,641.83 328.73,641.76 328.98,641.82 329.23,641.87 329.49,641.79 329.74,641.72 329.99,641.88 330.24,641.74 330.50,641.92 330.75,641.87 331.00,641.88 331.25,641.77 331.51,641.73 331.76,641.77 332.01,641.86 332.26,641.74 332.52,641.86 332.77,641.88 333.02,641.73 333.27,641.79 333.53,641.78 333.78,641.79 334.03,641.72 334.28,641.83 334.54,641.75 334.79,641.78 335.04,641.74 335.29,641.83 335.54,641.77 335.80,641.81 336.05,641.86 336.30,641.88 336.55,641.79 336.81,641.91 337.06,641.73 337.31,641.90 337.56,641.92 337.82,641.90 338.07,641.73 338.32,641.85 338.57,641.90 338.83,641.92 339.08,641.92 339.33,641.78 339.58,641.79 339.84,641.78 340.09,641.77 340.34,641.91 340.59,641.80 340.85,641.85 341.10,641.75 341.35,641.75 341.60,641.74 341.86,641.91 342.11,641.74 342.36,641.73 342.61,641.73 342.87,641.90 343.12,641.88 343.37,641.90 343.62,641.92 343.88,641.75 344.13,641.75 344.38,641.79 344.63,641.75 344.89,641.79 345.14,641.87 345.39,641.90 345.64,641.91 345.90,641.77 346.15,641.88 346.40,641.86 346.65,641.84 346.91,641.92 347.16,641.87 347.41,641.87 347.66,641.77 347.91,641.85 348.17,641.86 348.42,641.72 348.67,641.82 348.92,641.75 349.18,641.80 349.43,641.92 349.68,641.84 349.93,641.83 350.19,641.76 350.44,641.85 350.69,641.78 350.94,641.81 351.20,641.88 351.45,641.74 351.70,641.91 351.95,641.75 352.21,641.89 352.46,641.93 352.71,641.88 352.96,641.76 353.22,641.72 353.47,641.92 353.72,641.82 353.97,641.82 354.23,641.76 354.48,641.89 354.73,641.82 354.98,641.85 355.24,641.75 355.49,641.87 355.74,641.73 355.99,641.87 356.25,641.88 356.50,641.78 356.75,641.82 357.00,641.90 357.26,641.79 357.51,641.91 357.76,641.76 358.01,641.78 358.27,641.76 358.52,641.79 358.77,641.85 359.02,641.84 359.28,641.84 359.53,641.74 359.78,641.91 360.03,641.74 360.28,641.92 360.54,641.88 360.79,641.87 361.04,641.74 361.29,641.82 361.55,641.85 361.80,641.74 362.05,641.88 362.30,641.83 362.56,641.81 362.81,641.77 363.06,641.77 363.31,641.79 363.57,641.85 363.82,641.86 364.07,641.89 364.32,641.75 364.58,641.79 364.83,641.77 365.08,641.89 365.33,641.83 365.59,641.76 365.84,641.80 366.09,641.90 366.34,641.83 366.60,641.74 366.85,641.88 367.10,641.89 367.35,641.86 367.61,641.78 367.86,641.75 368.11,641.89 368.36,641.89 368.62,641.87 368.87,641.86 369.12,641.82 369.37,641.89 369.63,641.86 369.88,641.89 370.13,641.72 370.38,641.77 370.64,641.90 370.89,641.72 371.14,641.90 371.39,641.84 371.65,641.72 371.90,641.76 372.15,641.77 372.40,641.83 372.65,641.88 372.91,641.79 373.16,641.90 373.41,641.88 373.66,641.84 373.92,641.92 374.17,641.84 374.42,641.76 374.67,641.78 374.93,641.82 375.18,641.79 375.43,641.83 375.68,641.90 375.94,641.80 376.19,641.84 376.44,641.77 376.69,641.73 376.95,641.83 377.20,641.80 377.45,641.77 377.70,641.84 377.96,641.88 378.21,641.77 378.46,641.74 378.71,641.76 378.97,641.78 379.22,641.75 379.47,641.78 379.72,641.79 379.98,641.83 380.23,641.86 380.48,641.79 380.73,641.91 380.99,641.84 381.24,641.76 381.49,641.77 381.74,641.79 382.00,641.87 382.25,641.84 382.50,641.83 382.75,641.79 383.01,641.84 383.26,641.78 383.51,641.73 383.76,641.89 384.02,641.79 384.27,641.76 384.52,641.84 384.77,641.82 385.03,641.72 385.28,641.92 385.53,641.81 385.78,641.89 386.03,641.76 386.29,641.73 386.54,641.82 386.79,641.90 387.04,641.80 387.30,641.81 387.55,641.77 387.80,641.82 388.05,641.79 388.31,641.75 388.56,641.82 388.81,641.84 389.06,641.73 389.32,641.88 389.57,641.78 389.82,641.84 390.07,641.76 390.33,641.90 390.58,641.72 390.83,641.85 391.08,641.91 391.34,641.87 391.59,641.84 391.84,641.92 392.09,641.84 392.35,641.84 392.60,641.78 392.85,641.85 393.10,641.87 393.36,641.88 393.61,641.77 393.86,641.73 394.11,641.81 394.37,641.88 394.62,641.76 394.87,641.84 395.12,641.88 395.38,641.90 395.63,641.76 395.88,641.75 396.13,641.79 396.39,641.83 396.64,641.81 396.89,641.88 397.14,641.72 397.40,641.85 397.65,641.79 397.90,641.75 398.15,641.75 398.40,641.83 398.66,641.86 398.91,641.81 399.16,641.90 399.41,641.75 399.67,641.85 399.92,641.75 400.17,641.87 400.42,641.85 400.68,641.87 400.93,641.84 401.18,641.89 401.43,641.93 401.69,641.77 401.94,641.87 402.19,641.87 402.44,641.86 402.70,641.82 402.95,641.84 403.20,641.79 403.45,641.79 403.71,641.85 403.96,641.73 404.21,641.75 404.46,641.91 404.72,641.75 404.97,641.73 405.22,641.76 405.47,641.90 405.73,641.75 405.98,641.79 406.23,641.92 406.48,641.92 406.74,641.72 406.99,641.79 407.24,641.87 407.49,641.90 407.75,641.90 408.00,641.88 408.25,641.76 408.50,641.85 408.76,641.89 409.01,641.73 409.26,641.76 409.51,641.89 409.77,641.74 410.02,641.80 410.27,641.76 410.52,641.78 410.77,641.74 411.03,641.76 411.28,641.75 411.53,641.88 411.78,641.78 412.04,641.81 412.29,641.77 412.54,641.83 412.79,641.74 413.05,641.81 413.30,641.87 413.55,641.88 413.80,641.90 414.06,641.82 414.31,641.91 414.56,641.83 414.81,641.90 415.07,641.82 415.32,641.82 415.57,641.81 415.82,641.74 416.08,641.92 416.33,641.75 416.58,641.83 416.83,641.81 417.09,641.79 417.34,641.75 417.59,641.85 417.84,641.84 418.10,641.72 418.35,641.91 418.60,641.79 418.85,641.79 419.11,641.92 419.36,641.80 419.61,641.78 419.86,641.73 420.12,641.86 420.37,641.72 420.62,641.82 420.87,641.82 421.13,641.74 421.38,641.92 421.63,641.77 421.88,641.79 422.14,641.85 422.39,641.74 422.64,641.85 422.89,641.83 423.14,641.81 423.40,641.76 423.65,641.88 423.90,641.83 424.15,641.84 424.41,641.81 424.66,641.75 424.91,641.86 425.16,641.75 425.42,641.84 425.67,641.82 425.92,641.87 426.17,641.82 426.43,641.72 426.68,641.79 426.93,641.76 427.18,641.86 427.44,641.86 427.69,641.86 427.94,641.80 428.19,641.79 428.45,641.76 428.70,641.92 428.95,641.77 429.20,641.74 429.46,641.81 429.71,641.92 429.96,641.86 430.21,641.92 430.47,641.89 430.72,641.73 430.97,641.80 431.22,641.79 431.48,641.76 431.73,641.73 431.98,641.80 432.23,641.80 432.49,641.79 432.74,641.78 432.99,641.80 433.24,641.78 433.50,641.88 433.75,641.78 434.00,641.83 434.25,641.76 434.51,641.90 434.76,641.89 435.01,641.92 435.26,641.76 435.52,641.73 435.77,641.79 436.02,641.85 436.27,641.75 436.52,641.76 436.78,641.81 437.03,641.87 437.28,641.86 437.53,641.84 437.79,641.86 438.04,641.83 438.29,641.79 438.54,641.73 438.80,641.91 439.05,641.81 439.30,641.92 439.55,641.90 439.81,641.75 440.06,641.80 440.31,641.73 440.56,641.83 440.82,641.92 441.07,641.84 441.32,641.80 441.57,641.73 441.83,641.72 442.08,641.83 442.33,641.84 442.58,641.90 442.84,641.79 443.09,641.88 443.34,641.89 443.59,641.92 443.85,641.92 444.10,641.78 444.35,641.90 444.60,641.72 444.86,641.91 445.11,641.74 445.36,641.90 445.61,641.92 445.87,641.77 446.12,641.87 446.37,641.77 446.62,641.89 446.88,641.92 447.13,641.76 447.38,641.77 447.63,641.74 447.89,641.77 448.14,641.91 448.39,641.79 448.64,641.78 448.89,641.83 449.15,641.73 449.40,641.87 449.65,641.72 449.90,641.77 450.16,641.92 450.41,641.92 450.66,641.79 450.91,641.75 451.17,641.91 451.42,641.86 451.67,641.77 451.92,641.89 452.18,641.74 452.43,641.82 452.68,641.91 452.93,641.85 453.19,641.80 453.44,641.83 453.69,641.78 453.94,641.90 454.20,641.76 454.45,641.85 454.70,641.79 454.95,641.79 455.21,641.84 455.46,641.84 455.71,641.76 455.96,641.73 456.22,641.76 456.47,641.81 456.72,641.86 456.97,641.91 457.23,641.72 457.48,641.78 457.73,641.75 457.98,641.86 458.24,641.80 458.49,641.72 458.74,641.75 458.99,641.80 459.25,641.86 459.50,641.84 459.75,641.74 460.00,641.85 460.26,641.78 460.51,641.80 460.76,641.74 461.01,641.75 461.26,641.87 461.52,641.93 461.77,641.87 462.02,641.84 462.27,641.80 462.53,641.75 462.78,641.74 463.03,641.92 463.28,641.75 463.54,641.75 463.79,641.74 464.04,641.80 464.29,641.87 464.55,641.75 464.80,641.76 465.05,641.78 465.30,641.73 465.56,641.85 465.81,641.91 466.06,641.81 466.31,641.76 466.57,641.88 466.82,641.77 467.07,641.73 467.32,641.88 467.58,641.80 467.83,641.78 468.08,641.83 468.33,641.88 468.59,641.87 468.84,641.77 469.09,641.76 469.34,641.83 469.60,641.91 469.85,641.76 470.10,641.76 470.35,641.88 470.61,641.80 470.86,641.74 471.11,641.74 471.36,641.82 471.62,641.83 471.87,641.80 472.12,641.89 472.37,641.89 472.63,641.89 472.88,641.78 473.13,641.85 473.38,641.81 473.63,641.84 473.89,641.82 474.14,641.89 474.39,641.92 474.64,641.71 474.90,641.85 475.15,641.90 475.40,641.79 475.65,641.76 475.91,641.89 476.16,641.80 476.41,641.85 476.66,641.82 476.92,641.92 477.17,641.92 477.42,641.72 477.67,641.74 477.93,641.82 478.18,641.81 478.43,641.87 478.68,641.76 478.94,641.84 479.19,641.73 479.44,641.76 479.69,641.75 479.95,641.72 480.20,641.87 480.45,641.92 480.70,641.88 480.96,641.89 481.21,641.91 481.46,641.92 481.71,641.81 481.97,641.74 482.22,641.83 482.47,641.73 482.72,641.73 482.98,641.91 483.23,641.80 483.48,641.84 483.73,641.90 483.99,641.72 484.24,641.87 484.49,641.81 484.74,641.79 485.00,641.72 485.25,641.78 485.50,641.84 485.75,641.83 486.01,641.89 486.26,641.72 486.51,641.72 486.76,641.88 487.01,641.92 487.27,641.87 487.52,641.85 487.77,641.73 488.02,641.73 488.28,641.75 488.53,641.92 488.78,641.76 489.03,641.78 489.29,641.79 489.54,641.72 489.79,641.91 490.04,641.90 490.30,641.77 490.55,641.73 490.80,641.78 491.05,641.86 491.31,641.80 491.56,641.77 491.81,641.90 492.06,641.86 492.32,641.87 492.57,641.90 492.82,641.82 493.07,641.89 493.33,641.88 493.58,641.90 493.83,641.78 494.08,641.92 494.34,641.77 494.59,641.88 494.84,641.92 495.09,641.73 495.35,641.88 495.60,641.73 495.85,641.74 496.10,641.74 496.36,641.90 496.61,641.83 496.86,641.91 497.11,641.73 497.37,641.75 497.62,641.79 497.87,641.83 498.12,641.85 498.38,641.75 498.63,641.82 498.88,641.79 499.13,641.90 499.38,641.88 499.64,641.91 499.89,641.77 500.14,641.81 500.39,641.90 500.65,641.74 500.90,641.87 501.15,641.84 501.40,641.89 501.66,641.87 501.91,641.75 502.16,641.86 502.41,641.89 502.67,641.82 502.92,641.86 503.17,641.73 503.42,641.90 503.68,641.72 503.93,641.91 504.18,641.74 504.43,641.78 504.69,641.88 504.94,641.82 505.19,641.87 505.44,641.87 505.70,641.88 505.95,641.85 506.20,641.72 506.45,641.71 506.71,641.73 506.96,641.91 507.21,641.86 507.46,641.74 507.72,641.91 507.97,641.77 508.22,641.86 508.47,641.72 508.73,641.92 508.98,641.76 509.23,641.85 509.48,641.90 509.74,641.93 509.99,641.75 510.24,641.81 510.49,641.89 510.75,641.83 511.00,641.73 511.25,641.88 511.50,641.80 511.75,641.90 512.01,641.89 512.26,641.76 512.51,641.78 512.76,641.88 513.02,641.91 513.27,641.91 513.52,641.80 513.77,641.82 514.03,641.87 514.28,641.88 514.53,641.80 514.78,641.78 515.04,641.75 515.29,641.80 515.54,641.88 515.79,641.91 516.05,641.77 516.30,641.84 516.55,641.77 516.80,641.91 517.06,641.75 517.31,641.85 517.56,641.75 517.81,641.74 518.07,641.82 518.32,641.92 518.57,641.73 518.82,641.83 519.08,641.74 519.33,641.87 519.58,641.89 519.83,641.75 520.09,641.85 520.34,641.89 520.59,641.85 520.84,641.80 521.10,641.92 521.35,641.82 521.60,641.83 521.85,641.82 522.11,641.90 522.36,641.77 522.61,641.75 522.86,641.74 523.12,641.86 523.37,641.78 523.62,641.85 523.87,641.77 524.12,641.91 524.38,641.74 524.63,641.72 524.88,641.82 525.13,641.82 525.39,641.81 525.64,641.81 525.89,641.92 526.14,641.72 526.40,641.88 526.65,641.89 526.90,641.90 527.15,641.87 527.41,641.75 527.66,641.92 527.91,641.91 528.16,641.78 528.42,641.88 528.67,641.92 528.92,641.80 529.17,641.80 529.43,641.82 529.68,641.78 529.93,641.90 530.18,641.74 530.44,641.77 530.69,641.92 530.94,641.90 531.19,641.82 531.45,641.82 531.70,641.87 531.95,641.90 532.20,641.84 532.46,641.90 532.71,641.80 532.96,641.74 533.21,641.89 533.47,641.80 533.72,641.77 533.97,641.89 534.22,641.75 534.48,641.73 534.73,641.84 534.98,641.84 535.23,641.75 535.49,641.81 535.74,641.84 535.99,641.73 536.24,641.76 536.50,641.85 536.75,641.88 537.00,641.85 537.25,641.83 537.50,641.72 537.76,641.76 538.01,641.73 538.26,641.75 538.51,641.75 538.77,641.91 539.02,641.82 539.27,641.72 539.52,641.73 539.78,641.87 540.03,641.84 540.28,641.79 540.53,641.85 540.79,641.81 541.04,641.91 541.29,641.83 541.54,641.82 541.80,641.92 542.05,641.90 542.30,641.72 542.55,641.76 542.81,641.73 543.06,641.79 543.31,641.75 543.56,641.74 543.82,641.74 544.07,641.92 544.32,641.79 544.57,641.87 544.83,641.78 545.08,641.87 545.33,641.81 545.58,641.73 545.84,641.79 546.09,641.87 546.34,641.82 546.59,641.83 546.85,641.72 547.10,641.87 547.35,641.86 547.60,641.79 547.86,641.90 548.11,641.80 548.36,641.72 548.61,641.82 548.87,641.87 549.12,641.83 549.37,641.81 549.62,641.89 549.87,641.90 550.13,641.90 550.38,641.86 550.63,641.84 550.88,641.86 551.14,641.87 551.39,641.91 551.64,641.81 551.89,641.75 552.15,641.80 552.40,641.81 552.65,641.79 552.90,641.88 553.16,641.78 553.41,641.83 553.66,641.81 553.91,641.80 554.17,641.83 554.42,641.86 554.67,641.87 554.92,641.88 555.18,641.82 555.43,641.84 555.68,641.80 555.93,641.92 556.19,641.85 556.44,641.74 556.69,641.88 556.94,641.81 557.20,641.82 557.45,641.87 557.70,641.72 557.95,641.86 558.21,641.76 558.46,641.89 558.71,641.91 558.96,641.74 559.22,641.83 559.47,641.91 559.72,641.84 559.97,641.83 560.23,641.77 560.48,641.90 560.73,641.88 560.98,641.72 561.24,641.77 561.49,641.89 561.74,641.85 561.99,641.85 562.24,641.78 562.50,641.80 562.75,641.75 563.00,641.75 563.25,641.82 563.51,641.77 563.76,641.77 564.01,641.77 564.26,641.83 564.52,641.76 564.77,641.78 565.02,641.73 565.27,641.90 565.53,641.74 565.78,641.92 566.03,641.76 566.28,641.80 566.54,641.82 566.79,641.72 567.04,641.80 567.29,641.84 567.55,641.76 567.80,641.74 568.05,641.80 568.30,641.85 568.56,641.83 568.81,641.83 569.06,641.77 569.31,641.86 569.57,641.84 569.82,641.81 570.07,641.84 570.32,641.86 570.58,641.76 570.83,641.75 571.08,641.82 571.33,641.83 571.59,641.89 571.84,641.86 572.09,641.90 572.34,641.80 572.60,641.80 572.85,641.91 573.10,641.73 573.35,641.86 573.61,641.75 573.86,641.75 574.11,641.72 574.36,641.88 574.61,641.84 574.87,641.73 575.12,641.92 575.37,641.92 575.62,641.81 575.88,641.82 576.13,641.73 576.38,641.76 576.63,641.81 576.89,641.71 577.14,641.82 577.39,641.82 577.64,641.78 577.90,641.84 578.15,641.85 578.40,641.80 578.65,641.85 578.91,641.73 579.16,641.78 579.41,641.81 579.66,641.90 579.92,641.85 580.17,641.84 580.42,641.81 580.67,641.80 580.93,641.74 581.18,641.72 581.43,641.82 581.68,641.83 581.94,641.79 582.19,641.72 582.44,641.85 582.69,641.81 582.95,641.75 583.20,641.89 583.45,641.86 583.70,641.72 583.96,641.75 584.21,641.82 584.46,641.90 584.71,641.74 584.97,641.78 585.22,641.75 585.47,641.72 585.72,641.74 585.98,641.84 586.23,641.89 586.48,641.86 586.73,641.82 586.99,641.82 587.24,641.89 587.49,641.89 587.74,641.79 587.99,641.80 588.25,641.85 588.50,641.72 588.75,641.79 589.00,641.92 589.26,641.84 589.51,641.76 589.76,641.86 590.01,641.78 590.27,641.93 590.52,641.86 590.77,641.75 591.02,641.80 591.28,641.78 591.53,641.88 591.78,641.82 592.03,641.81 592.29,641.87 592.54,641.79 592.79,641.81 593.04,641.71 593.30,641.80 593.55,641.84 593.80,641.90 594.05,641.89 594.31,641.77 594.56,641.90 594.81,641.90 595.06,641.89 595.32,641.82 595.57,641.75 595.82,641.80 596.07,641.76 596.33,641.91 596.58,641.92 596.83,641.76 597.08,641.86 597.34,641.77 597.59,641.85 597.84,641.89 598.09,641.87 598.35,641.90 598.60,641.73 598.85,641.80 599.10,641.85 599.36,641.83 599.61,641.84 599.86,641.91 600.11,641.74 600.36,641.80 600.62,641.72 600.87,641.83 601.12,641.79 601.37,641.87 601.63,641.92 601.88,641.73 602.13,641.74 602.38,641.86 602.64,641.74 602.89,641.75 603.14,641.86 603.39,641.80 603.65,641.72 603.90,641.82 604.15,641.72 604.40,641.87 604.66,641.84 604.91,641.77 605.16,641.88 605.41,641.86 605.67,641.74 605.92,641.82 606.17,641.76 606.42,641.87 606.68,641.89 606.93,641.85 607.18,641.89 607.43,641.72 607.69,641.86 607.94,641.81 608.19,641.90 608.44,641.81 608.70,641.84 608.95,641.84 609.20,641.91 609.45,641.90 609.71,641.75 609.96,641.85 610.21,641.87 610.46,641.89 610.72,641.87 610.97,641.88 611.22,641.92 611.47,641.79 611.73,641.85 611.98,641.89 612.23,641.78 612.48,641.91 612.73,641.87 612.99,641.75 613.24,641.90 613.49,641.83 613.74,641.75 614.00,641.76 614.25,641.89 614.50,641.85 614.75,641.77 615.01,641.85 615.26,641.72 615.51,641.88 615.76,641.72 616.02,641.82 616.27,641.88 616.52,641.83 616.77,641.90 617.03,641.78 617.28,641.87 617.53,641.74 617.78,641.80 618.04,641.85 618.29,641.87 618.54,641.80 618.79,641.88 619.05,641.74 619.30,641.90 619.55,641.82 619.80,641.81 620.06,641.87 620.31,641.76 620.56,641.84 620.81,641.79 621.07,641.81 621.32,641.86 621.57,641.84 621.82,641.91 622.08,641.89 622.33,641.75 622.58,641.86 622.83,641.79 623.09,641.90 623.34,641.81 623.59,641.85 623.84,641.82 624.10,641.86 624.35,641.91 624.60,641.86 624.85,641.88 625.10,641.90 625.36,641.77 625.61,641.87 625.86,641.84 626.11,641.73 626.37,641.76 626.62,641.74 626.87,641.74 627.12,641.90 627.38,641.87 627.63,641.92 627.88,641.78 628.13,641.79 628.39,641.85 628.64,641.84 628.89,641.79 629.14,641.78 629.40,641.87 629.65,641.75 629.90,641.85 630.15,641.79 630.41,641.89 630.66,641.90 630.91,641.73 631.16,641.77 631.42,641.78 631.67,641.92 631.92,641.92 632.17,641.89 632.43,641.88 632.68,641.86 632.93,641.85 633.18,641.92 633.44,641.86 633.69,641.79 633.94,641.89 634.19,641.75 634.45,641.81 634.70,641.77 634.95,641.87 635.20,641.83 635.46,641.78 635.71,641.85 635.96,641.93 636.21,641.75 636.47,641.76 636.72,641.87 636.97,641.92 637.22,641.75 637.48,641.80 637.73,641.92 637.98,641.87 638.23,641.90 638.48,641.76 638.74,641.88 638.99,641.73 639.24,641.77 639.49,641.91 639.75,641.78 640.00,641.84 640.25,641.77 640.50,641.75 640.76,641.87 641.01,641.91 641.26,641.73 641.51,641.84 641.77,641.73 642.02,641.78 642.27,641.77 642.52,641.75 642.78,641.79 643.03,641.83 643.28,641.91 643.53,641.78 643.79,641.84 644.04,641.82 644.29,641.73 644.54,641.90 644.80,641.76 645.05,641.92 645.30,641.78 645.55,641.76 645.81,641.87 646.06,641.81 646.31,641.72 646.56,641.79 646.82,641.81 647.07,641.87 647.32,641.91 647.57,641.85 647.83,641.84 648.08,641.88 648.33,641.86 648.58,641.90 648.84,641.78 649.09,641.78 649.34,641.88 649.59,641.87 649.85,641.82 650.10,641.83 650.35,641.73 650.35,642.00" fill="#3048c8" fill-opacity="0.9" stroke="#3048c8" stroke-width="0.3" stroke-opacity="0.9"/>
</g>
<line x1="34.40" y1="510.60" x2="644.50" y2="510.60" stroke="#555" stroke-width="1" />
<line x1="644.50" y1="510.60" x2="644.50" y2="642.00" stroke="#222" stroke-width="1.6" />
<line x1="34.40" y1="510.60" x2="34.40" y2="642.00" stroke="#111" stroke-width="1.6" />
<line x1="34.40" y1="642.00" x2="644.50" y2="642.00" stroke="#333" stroke-width="1.4" />
<line x1="29.20" y1="642.00" x2="34.40" y2="642.00" stroke="#333" stroke-width="0.9" />
<line x1="29.20" y1="638.47" x2="34.40" y2="638.47" stroke="#333" stroke-width="0.9" />
<line x1="29.20" y1="634.94" x2="34.40" y2="634.94" stroke="#333" stroke-width="0.9" />
<line x1="29.20" y1="631.42" x2="34.40" y2="631.42" stroke="#333" stroke-width="0.9" />
<line x1="29.20" y1="627.89" x2="34.40" y2="627.89" stroke="#333" stroke-width="0.9" />
<line x1="29.20" y1="624.36" x2="34.40" y2="624.36" stroke="#333" stroke-width="0.9" />
<line x1="29.20" y1="620.83" x2="34.40" y2="620.83" stroke="#333" stroke-width="0.9" />
<line x1="29.20" y1="617.30" x2="34.40" y2="617.30" stroke="#333" stroke-width="0.9" />
<line x1="29.20" y1="613.78" x2="34.40" y2="613.78" stroke="#333" stroke-width="0.9" />
<line x1="29.20" y1="610.25" x2="34.40" y2="610.25" stroke="#333" stroke-width="0.9" />
<line x1="29.20" y1="606.72" x2="34.40" y2="606.72" stroke="#333" stroke-width="0.9" />
<line x1="29.20" y1="603.19" x2="34.40" y2="603.19" stroke="#333" stroke-width="0.9" />
<line x1="29.20" y1="599.66" x2="34.40" y2="599.66" stroke="#333" stroke-width="0.9" />
<line x1="29.20" y1="596.14" x2="34.40" y2="596.14" stroke="#333" stroke-width="0.9" />
<line x1="29.20" y1="592.61" x2="34.40" y2="592.61" stroke="#333" stroke-width="0.9" />
<line x1="29.20" y1="589.08" x2="34.40" y2="589.08" stroke="#333" stroke-width="0.9" />
<line x1="29.20" y1="585.55" x2="34.40" y2="585.55" stroke="#333" stroke-width="0.9" />
<line x1="29.20" y1="582.02" x2="34.40" y2="582.02" stroke="#333" stroke-width="0.9" />
<line x1="29.20" y1="578.50" x2="34.40" y2="578.50" stroke="#333" stroke-width="0.9" />
<line x1="29.20" y1="574.97" x2="34.40" y2="574.97" stroke="#333" stroke-width="0.9" />
<line x1="29.20" y1="571.44" x2="34.40" y2="571.44" stroke="#333" stroke-width="0.9" />
<line x1="29.20" y1="567.91" x2="34.40" y2="567.91" stroke="#333" stroke-width="0.9" />
<line x1="29.20" y1="564.38" x2="34.40" y2="564.38" stroke="#333" stroke-width="0.9" />
<line x1="29.20" y1="560.86" x2="34.40" y2="560.86" stroke="#333" stroke-width="0.9" />
<line x1="29.20" y1="557.33" x2="34.40" y2="557.33" stroke="#333" stroke-width="0.9" />
<line x1="29.20" y1="553.80" x2="34.40" y2="553.80" stroke="#333" stroke-width="0.9" />
<line x1="29.20" y1="550.27" x2="34.40" y2="550.27" stroke="#333" stroke-width="0.9" />
<line x1="29.20" y1="546.74" x2="34.40" y2="546.74" stroke="#333" stroke-width="0.9" />
<line x1="29.20" y1="543.22" x2="34.40" y2="543.22" stroke="#333" stroke-width="0.9" />
<line x1="29.20" y1="539.69" x2="34.40" y2="539.69" stroke="#333" stroke-width="0.9" />
<line x1="29.20" y1="536.16" x2="34.40" y2="536.16" stroke="#333" stroke-width="0.9" />
<line x1="29.20" y1="532.63" x2="34.40" y2="532.63" stroke="#333" stroke-width="0.9" />
<line x1="29.20" y1="529.10" x2="34.40" y2="529.10" stroke="#333" stroke-width="0.9" />
<line x1="29.20" y1="525.58" x2="34.40" y2="525.58" stroke="#333" stroke-width="0.9" />
<line x1="29.20" y1="522.05" x2="34.40" y2="522.05" stroke="#333" stroke-width="0.9" />
<line x1="29.20" y1="518.52" x2="34.40" y2="518.52" stroke="#333" stroke-width="0.9" />
<line x1="29.20" y1="514.99" x2="34.40" y2="514.99" stroke="#333" stroke-width="0.9" />
<line x1="29.20" y1="511.46" x2="34.40" y2="511.46" stroke="#333" stroke-width="0.9" />
<text x="18.45" y="645.00" font-size="6.90" font-weight="normal" fill="#333" stroke="#333" stroke-width="0.22" textLength="7.65" lengthAdjust="spacingAndGlyphs" >0</text>
<text x="17.86" y="627.36" font-size="6.90" font-weight="normal" fill="#333" stroke="#333" stroke-width="0.22" textLength="8.44" lengthAdjust="spacingAndGlyphs" >1</text>
<text x="18.27" y="609.72" font-size="6.90" font-weight="normal" fill="#333" stroke="#333" stroke-width="0.22" textLength="8.07" lengthAdjust="spacingAndGlyphs" >2</text>
<text x="18.44" y="592.08" font-size="6.90" font-weight="normal" fill="#333" stroke="#333" stroke-width="0.22" textLength="7.73" lengthAdjust="spacingAndGlyphs" >3</text>
<text x="18.74" y="574.44" font-size="6.90" font-weight="normal" fill="#333" stroke="#333" stroke-width="0.22" textLength="7.27" lengthAdjust="spacingAndGlyphs" >4</text>
<text x="18.44" y="556.80" font-size="6.90" font-weight="normal" fill="#333" stroke="#333" stroke-width="0.22" textLength="7.73" lengthAdjust="spacingAndGlyphs" >5</text>
<text x="18.29" y="539.16" font-size="6.90" font-weight="normal" fill="#333" stroke="#333" stroke-width="0.22" textLength="7.89" lengthAdjust="spacingAndGlyphs" >6</text>
<text x="18.27" y="521.52" font-size="6.90" font-weight="normal" fill="#333" stroke="#333" stroke-width="0.22" textLength="8.07" lengthAdjust="spacingAndGlyphs" >7</text>
<line x1="53.65" y1="642.00" x2="53.65" y2="644.30" stroke="#333" stroke-width="1.1" />
<line x1="76.60" y1="642.00" x2="76.60" y2="644.30" stroke="#333" stroke-width="1.1" />
<line x1="99.55" y1="642.00" x2="99.55" y2="644.30" stroke="#333" stroke-width="1.1" />
<line x1="122.50" y1="642.00" x2="122.50" y2="644.30" stroke="#333" stroke-width="1.1" />
<line x1="145.45" y1="642.00" x2="145.45" y2="645.20" stroke="#333" stroke-width="1.1" />
<line x1="168.40" y1="642.00" x2="168.40" y2="644.30" stroke="#333" stroke-width="1.1" />
<line x1="191.35" y1="642.00" x2="191.35" y2="644.30" stroke="#333" stroke-width="1.1" />
<line x1="214.30" y1="642.00" x2="214.30" y2="644.30" stroke="#333" stroke-width="1.1" />
<line x1="237.25" y1="642.00" x2="237.25" y2="644.30" stroke="#333" stroke-width="1.1" />
<line x1="260.20" y1="642.00" x2="260.20" y2="645.20" stroke="#333" stroke-width="1.1" />
<line x1="283.15" y1="642.00" x2="283.15" y2="644.30" stroke="#333" stroke-width="1.1" />
<line x1="306.10" y1="642.00" x2="306.10" y2="644.30" stroke="#333" stroke-width="1.1" />
<line x1="329.05" y1="642.00" x2="329.05" y2="644.30" stroke="#333" stroke-width="1.1" />
<line x1="352.00" y1="642.00" x2="352.00" y2="644.30" stroke="#333" stroke-width="1.1" />
<line x1="374.95" y1="642.00" x2="374.95" y2="645.20" stroke="#333" stroke-width="1.1" />
<line x1="397.90" y1="642.00" x2="397.90" y2="644.30" stroke="#333" stroke-width="1.1" />
<line x1="420.85" y1="642.00" x2="420.85" y2="644.30" stroke="#333" stroke-width="1.1" />
<line x1="443.80" y1="642.00" x2="443.80" y2="644.30" stroke="#333" stroke-width="1.1" />
<line x1="466.75" y1="642.00" x2="466.75" y2="644.30" stroke="#333" stroke-width="1.1" />
<line x1="489.70" y1="642.00" x2="489.70" y2="645.20" stroke="#333" stroke-width="1.1" />
<line x1="512.65" y1="642.00" x2="512.65" y2="644.30" stroke="#333" stroke-width="1.1" />
<line x1="535.60" y1="642.00" x2="535.60" y2="644.30" stroke="#333" stroke-width="1.1" />
<line x1="558.55" y1="642.00" x2="558.55" y2="644.30" stroke="#333" stroke-width="1.1" />
<line x1="581.50" y1="642.00" x2="581.50" y2="644.30" stroke="#333" stroke-width="1.1" />
<line x1="604.45" y1="642.00" x2="604.45" y2="645.20" stroke="#333" stroke-width="1.1" />
<line x1="627.40" y1="642.00" x2="627.40" y2="644.30" stroke="#333" stroke-width="1.1" />
<text x="141.48" y="651.80" font-size="6.90" font-weight="normal" fill="#333" stroke="#333" stroke-width="0.22" textLength="7.96" lengthAdjust="spacingAndGlyphs" >5</text>
<text x="251.46" y="651.80" font-size="6.90" font-weight="normal" fill="#333" stroke="#333" stroke-width="0.22" textLength="16.91" lengthAdjust="spacingAndGlyphs" >10</text>
<text x="366.20" y="651.80" font-size="6.90" font-weight="normal" fill="#333" stroke="#333" stroke-width="0.22" textLength="16.99" lengthAdjust="spacingAndGlyphs" >15</text>
<text x="481.36" y="651.80" font-size="6.90" font-weight="normal" fill="#333" stroke="#333" stroke-width="0.22" textLength="16.50" lengthAdjust="spacingAndGlyphs" >20</text>
<text x="596.10" y="651.80" font-size="6.90" font-weight="normal" fill="#333" stroke="#333" stroke-width="0.22" textLength="16.58" lengthAdjust="spacingAndGlyphs" >25</text>
<text x="297.15" y="658.90" font-size="7.20" font-weight="normal" fill="#333" stroke="#333" stroke-width="0.22" textLength="82.64" lengthAdjust="spacingAndGlyphs" >Energy [keV]</text>
<rect x="460.30" y="510.50" width="184.20" height="7.80" fill="white" />
<line x1="460.30" y1="510.50" x2="460.30" y2="518.30" stroke="#333" stroke-width="0.9" />
<line x1="460.30" y1="518.30" x2="644.50" y2="518.30" stroke="#c4c4c4" stroke-width="1.2" />
<line x1="460.30" y1="510.50" x2="644.50" y2="510.50" stroke="#444" stroke-width="1" />
<line x1="466.20" y1="514.40" x2="488.10" y2="514.40" stroke="#a8b8ec" stroke-width="1" />
<text x="508.76" y="516.10" font-size="4.80" font-weight="normal" fill="#333" stroke="#333" stroke-width="0.22" textLength="113.74" lengthAdjust="spacingAndGlyphs" >1.00 * Acquisition 4021</text>
<line x1="644.50" y1="510.60" x2="644.50" y2="642.00" stroke="#222" stroke-width="1.6" />
<path d="M235.20,530.20H634.20V541.80H235.20Z M235.20,541.80H294.60V547.70H235.20Z M234.10,549.40H292.30V561.10H234.10Z M237.00,561.50H294.90V571.20H237.00Z" fill="#dcdcdc"/>
<text x="235.20" y="529.00" font-size="5.60" font-weight="normal" fill="#333" stroke="#333" stroke-width="0.22" textLength="79.33" lengthAdjust="spacingAndGlyphs" >Acquisition 4021</text>
<text x="244.52" y="538.00" font-size="5.60" font-weight="normal" fill="#333" stroke="#333" stroke-width="0.22" textLength="40.48" lengthAdjust="spacingAndGlyphs" >Element</text>
<text x="296.50" y="538.00" font-size="5.60" font-weight="normal" fill="#333" stroke="#333" stroke-width="0.22" textLength="34.02" lengthAdjust="spacingAndGlyphs" >At. No.</text>
<text x="333.54" y="538.00" font-size="5.60" font-weight="normal" fill="#333" stroke="#333" stroke-width="0.22" textLength="28.53" lengthAdjust="spacingAndGlyphs" >Netto</text>
<text x="370.75" y="534.80" font-size="5.60" font-weight="normal" fill="#333" stroke="#333" stroke-width="0.22" textLength="25.41" lengthAdjust="spacingAndGlyphs" >Mass</text>
<text x="403.33" y="534.80" font-size="5.60" font-weight="normal" fill="#333" stroke="#333" stroke-width="0.22" textLength="58.80" lengthAdjust="spacingAndGlyphs" >Mass Norm.</text>
<text x="469.00" y="534.80" font-size="5.60" font-weight="normal" fill="#333" stroke="#333" stroke-width="0.22" textLength="27.04" lengthAdjust="spacingAndGlyphs" >Atom</text>
<text x="502.36" y="534.80" font-size="5.60" font-weight="normal" fill="#333" stroke="#333" stroke-width="0.22" textLength="66.13" lengthAdjust="spacingAndGlyphs" >abs. error [%]</text>
<text x="570.56" y="534.80" font-size="5.60" font-weight="normal" fill="#333" stroke="#333" stroke-width="0.22" textLength="62.55" lengthAdjust="spacingAndGlyphs" >rel. error [%]</text>
<text x="376.05" y="540.30" font-size="5.60" font-weight="normal" fill="#333" stroke="#333" stroke-width="0.22" textLength="15.56" lengthAdjust="spacingAndGlyphs" >[%]</text>
<text x="424.94" y="540.30" font-size="5.60" font-weight="normal" fill="#333" stroke="#333" stroke-width="0.22" textLength="15.78" lengthAdjust="spacingAndGlyphs" >[%]</text>
<text x="474.13" y="540.30" font-size="5.60" font-weight="normal" fill="#333" stroke="#333" stroke-width="0.22" textLength="15.89" lengthAdjust="spacingAndGlyphs" >[%]</text>
<text x="512.35" y="540.30" font-size="5.60" font-weight="normal" fill="#333" stroke="#333" stroke-width="0.22" textLength="44.92" lengthAdjust="spacingAndGlyphs" >(1 sigma)</text>
<text x="578.95" y="540.30" font-size="5.60" font-weight="normal" fill="#333" stroke="#333" stroke-width="0.22" textLength="44.92" lengthAdjust="spacingAndGlyphs" >(1 sigma)</text>
<text x="236.35" y="546.70" font-size="5.10" font-weight="normal" fill="#333" stroke="#333" stroke-width="0.22" textLength="35.75" lengthAdjust="spacingAndGlyphs" >Carbon</text>
<text x="323.47" y="546.70" font-size="5.10" font-weight="normal" fill="#333" stroke="#333" stroke-width="0.22" textLength="7.06" lengthAdjust="spacingAndGlyphs" >6</text>
<text x="333.05" y="546.70" font-size="5.10" font-weight="normal" fill="#333" stroke="#333" stroke-width="0.22" textLength="30.54" lengthAdjust="spacingAndGlyphs" >70370</text>
<text x="373.67" y="546.70" font-size="5.10" font-weight="normal" fill="#333" stroke="#333" stroke-width="0.22" textLength="26.69" lengthAdjust="spacingAndGlyphs" >76.15</text>
<text x="434.97" y="546.70" font-size="5.10" font-weight="normal" fill="#333" stroke="#333" stroke-width="0.22" textLength="26.58" lengthAdjust="spacingAndGlyphs" >76.15</text>
<text x="471.62" y="546.70" font-size="5.10" font-weight="normal" fill="#333" stroke="#333" stroke-width="0.22" textLength="26.85" lengthAdjust="spacingAndGlyphs" >81.37</text>
<text x="546.63" y="546.70" font-size="5.10" font-weight="normal" fill="#333" stroke="#333" stroke-width="0.22" textLength="20.46" lengthAdjust="spacingAndGlyphs" >8.79</text>
<text x="605.18" y="546.70" font-size="5.10" font-weight="normal" fill="#333" stroke="#333" stroke-width="0.22" textLength="26.69" lengthAdjust="spacingAndGlyphs" >11.54</text>
<text x="234.69" y="559.30" font-size="7.40" font-weight="normal" fill="#222" stroke="#222" stroke-width="0.22" textLength="43.05" lengthAdjust="spacingAndGlyphs" >Nitrogen</text>
<text x="321.65" y="559.30" font-size="7.40" font-weight="normal" fill="#ff3030" stroke="#ff3030" stroke-width="0.22" textLength="6.11" lengthAdjust="spacingAndGlyphs" >7</text>
<text x="342.64" y="559.30" font-size="7.40" font-weight="normal" fill="#ff3030" stroke="#ff3030" stroke-width="0.22" textLength="18.65" lengthAdjust="spacingAndGlyphs" >228</text>
<text x="376.87" y="559.30" font-size="7.40" font-weight="normal" fill="#ff3030" stroke="#ff3030" stroke-width="0.22" textLength="20.77" lengthAdjust="spacingAndGlyphs" >2.04</text>
<text x="438.27" y="559.30" font-size="7.40" font-weight="normal" fill="#ff3030" stroke="#ff3030" stroke-width="0.22" textLength="20.56" lengthAdjust="spacingAndGlyphs" >2.04</text>
<text x="475.20" y="559.30" font-size="7.40" font-weight="normal" fill="#ff3030" stroke="#ff3030" stroke-width="0.22" textLength="20.64" lengthAdjust="spacingAndGlyphs" >1.87</text>
<text x="542.26" y="559.30" font-size="7.40" font-weight="normal" fill="#ff3030" stroke="#ff3030" stroke-width="0.22" textLength="21.30" lengthAdjust="spacingAndGlyphs" >0.77</text>
<text x="601.37" y="559.30" font-size="7.40" font-weight="normal" fill="#ff3030" stroke="#ff3030" stroke-width="0.22" textLength="27.20" lengthAdjust="spacingAndGlyphs" >37.73</text>
<text x="237.71" y="569.90" font-size="7.20" font-weight="normal" fill="#222" stroke="#222" stroke-width="0.22" textLength="28.28" lengthAdjust="spacingAndGlyphs" >Sulfur</text>
<text x="317.59" y="569.90" font-size="7.20" font-weight="normal" fill="#222" stroke="#222" stroke-width="0.22" textLength="12.07" lengthAdjust="spacingAndGlyphs" >16</text>
<text x="344.89" y="569.90" font-size="7.20" font-weight="normal" fill="#222" stroke="#222" stroke-width="0.22" textLength="17.27" lengthAdjust="spacingAndGlyphs" >517</text>
<text x="377.86" y="569.90" font-size="7.20" font-weight="normal" fill="#222" stroke="#222" stroke-width="0.22" textLength="21.40" lengthAdjust="spacingAndGlyphs" >0.17</text>
<text x="438.37" y="569.90" font-size="7.20" font-weight="normal" fill="#222" stroke="#222" stroke-width="0.22" textLength="21.09" lengthAdjust="spacingAndGlyphs" >0.17</text>
<text x="475.18" y="569.90" font-size="7.20" font-weight="normal" fill="#222" stroke="#222" stroke-width="0.22" textLength="20.67" lengthAdjust="spacingAndGlyphs" >0.07</text>
<text x="542.27" y="569.90" font-size="7.20" font-weight="normal" fill="#222" stroke="#222" stroke-width="0.22" textLength="21.07" lengthAdjust="spacingAndGlyphs" >0.04</text>
<text x="600.46" y="569.90" font-size="7.20" font-weight="normal" fill="#222" stroke="#222" stroke-width="0.22" textLength="26.79" lengthAdjust="spacingAndGlyphs" >21.35</text>
</svg>
<div class="b" style="left:0;top:0;width:685px;height:2px"></div>
<div class="b" style="left:0;top:0;width:2px;height:665px"></div>
<div class="b" style="left:683px;top:0;width:2px;height:665px"></div>
<div class="b" style="left:0;top:663px;width:685px;height:2px"></div>
<svg width="685" height="665" viewBox="0 0 685 665" style="filter:blur(0.4px)">
<rect x="1" y="1" width="682.9" height="662.9" fill="none" stroke="#000" stroke-width="2.4"/>
</svg>
</body></html>
